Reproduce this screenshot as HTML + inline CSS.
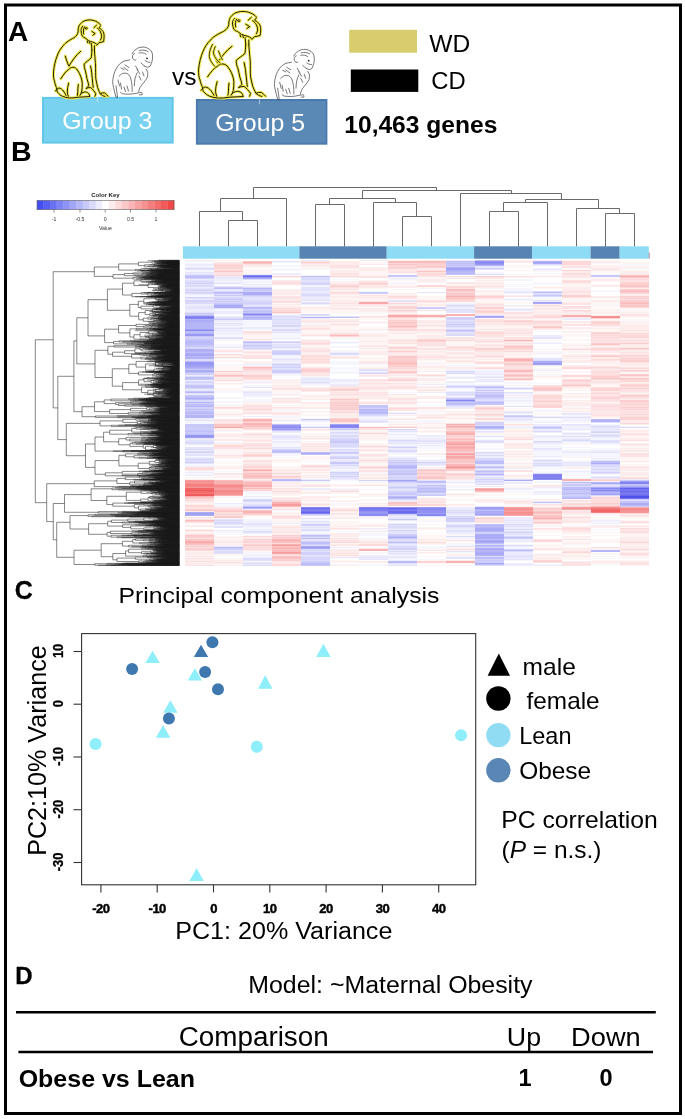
<!DOCTYPE html>
<html><head><meta charset="utf-8"><style>
html,body{margin:0;padding:0;background:#fff;}
svg{display:block;font-family:"Liberation Sans", sans-serif;}
</style></head><body>
<div style="position:relative;width:685px;height:1119px;overflow:hidden">
<svg style="position:absolute;left:0;top:0;will-change:transform" width="685" height="1119" viewBox="0 0 685 1119">
<rect x="5.5" y="5" width="675" height="1108.5" fill="none" stroke="#000" stroke-width="3"/>
<text x="8.0" y="40.5" font-size="28" font-weight="bold" fill="#000" text-anchor="start">A</text>
<rect x="43" y="97.9" width="129.7" height="44.7" fill="#79d2ef" stroke="#62c6ea" stroke-width="2"/>
<line x1="97.6" y1="96" x2="97.6" y2="101.8" stroke="#fff" stroke-width="0.8" stroke-opacity="0.7"/>
<text x="62.3" y="129.4" font-size="24.5" fill="#fff" text-anchor="start" textLength="90" lengthAdjust="spacingAndGlyphs">Group 3</text>
<rect x="196.9" y="100" width="129.5" height="43.7" fill="#5b89b6" stroke="#4b7bae" stroke-width="2"/>
<line x1="259.4" y1="98.4" x2="259.4" y2="104.3" stroke="#fff" stroke-width="0.8" stroke-opacity="0.6"/>
<text x="215.2" y="130.5" font-size="24.5" fill="#fff" text-anchor="start" textLength="90" lengthAdjust="spacingAndGlyphs">Group 5</text>
<text x="172" y="85.3" font-size="24.5" fill="#000" text-anchor="start">vs</text>
<g fill="none" stroke-linecap="round" stroke-linejoin="round"><path d="M97 45.1C97.6 44.3 98.2 43.5 99 42.6C100.5 42.4 102 42.2 103.6 41.6C103.9 40 104 38.5 104.1 36.5C104.2 35.3 104 34 103.6 32.9C103.4 31.8 102.8 30.8 101.6 29.8C101 29 100 28.5 99 27.8C99.5 27.3 100.2 26.5 100.5 25.7C100.7 25.2 100.3 24.5 99.5 23.7C98.5 22.7 97 21.8 95.4 21.1C94 20.5 92.5 20 90.3 19.9C88.5 19.8 87 20 85.2 20.6C83.5 21 82 22 80.6 23.7C79.8 24.5 79 25.5 78.6 27.3C78.2 28.5 78 30 78.1 31.9C77.8 34 76.5 36 74 37.8C72.5 38.5 70 39.8 67 42C65 43.5 64 44.5 63.2 45.7C60.5 48.5 58.5 52 57 56.2C55.5 60 54 66 53.5 71.9C53.3 76 53.8 80 54.6 81.4C55 84 55.8 86 56.4 87.5C56.8 89.5 57 90.8 57.3 91.9C59 94 60.5 95.5 62.5 96.3C65 97.3 67 97.8 69.5 98C72.5 98 75.5 97.8 78.3 97.2L89.7 96.6 M82.7 26.2C81.6 27.5 81.1 29 81.1 30.3C81.2 32.5 81.5 34.5 82.2 36C83 37 84 37.6 85.2 38C86.3 38.8 87.3 39.7 88.3 40.5C89.8 41.3 91.3 41.8 92.9 42.1C94.3 42.6 95.5 43.3 96.5 44.1 M84.5 26.8C83.3 28.5 83.2 31.5 83.7 33.9 M85.2 28.3C85.2 27.2 87.3 27.2 87.3 28.3C87.3 29.4 85.2 29.4 85.2 28.3 M91.9 31.4L95.2 33.6L92.9 35.2 M93.9 27.8L96.5 25.2 M97.5 28.3C99 29.5 100 30.5 100.5 31.9C101.2 33.5 101.6 35 101.6 36.5C101.5 38 101 39 100.5 40 M91.4 43.6C91.6 45.5 91.8 47.5 91.9 50M94.4 45.7L94.4 50 M87.3 41L87.8 42.8M89.5 41.8L90 43.5 M60.8 78.8C63.5 74.5 66 71 68.6 69.5C70 68 71.5 67.2 72.8 67.2C75 67.3 76.5 68.5 77.4 70C79 72.5 80.2 74.5 80.9 77C81.7 79 82.1 81 82.2 83.1C82.3 86 82.2 88.5 81.8 91C81.4 92.8 80.8 94.2 80 95.4 M65.3 56.1C66.3 60 67.5 63 68.9 66.2C72 61 76 55 80.7 51.3 M55.5 91C56.5 89.3 57.8 88.2 59 88C60.8 88.3 62.3 89.5 63.4 91C64.5 92.5 65.3 94 66 95.4 M68.6 83.1C67.8 86 67.3 89 67.3 91.9C67.4 93.5 67.8 95 68.2 96.3M78.3 84.5C78 87 77.8 89.5 77.8 91.9C77.7 93.3 77.6 94.5 77.4 95.4 M80.9 93.7C82.3 92.6 83.8 92 85.3 91.9C86.8 92 88 92.6 88.8 93.7C89.3 94.5 89.6 95.4 89.7 96.3 M91.9 50C91.8 53 91.5 56 91.2 57.9C89 60 86 62 84.2 64C84 66.5 84.5 68.5 85.3 70.5C86 73.5 86.6 76 87 78.8C87.8 81.5 88.5 83.5 88.8 85.8C88 86.8 87 87.6 86.2 88.4 M86.2 88.4C87.5 87.8 89 87.4 90.6 87.5C92.5 89 94.5 91.5 95.8 93.7C95.6 94.6 95.3 95.5 95 96.3 M94.4 50C94.8 56 95.3 62 95.6 65C95.6 70 95.6 75 95.8 78.8C96.5 82 97 85 97.6 87.5C98.5 89.8 99.3 92 100.2 93.7C101.5 93 103 92.7 104.6 92.8C106 94 107.2 95.2 108.1 96.3 M100.2 93.7C101.5 95 103 96 105 96.5 M90.6 66C91.5 70 92 74.5 92.3 78.8C92.6 82 92.9 85 93.2 87.5" stroke="#f1e94e" stroke-width="3.0" vector-effect="non-scaling-stroke"/><path d="M97 45.1C97.6 44.3 98.2 43.5 99 42.6C100.5 42.4 102 42.2 103.6 41.6C103.9 40 104 38.5 104.1 36.5C104.2 35.3 104 34 103.6 32.9C103.4 31.8 102.8 30.8 101.6 29.8C101 29 100 28.5 99 27.8C99.5 27.3 100.2 26.5 100.5 25.7C100.7 25.2 100.3 24.5 99.5 23.7C98.5 22.7 97 21.8 95.4 21.1C94 20.5 92.5 20 90.3 19.9C88.5 19.8 87 20 85.2 20.6C83.5 21 82 22 80.6 23.7C79.8 24.5 79 25.5 78.6 27.3C78.2 28.5 78 30 78.1 31.9C77.8 34 76.5 36 74 37.8C72.5 38.5 70 39.8 67 42C65 43.5 64 44.5 63.2 45.7C60.5 48.5 58.5 52 57 56.2C55.5 60 54 66 53.5 71.9C53.3 76 53.8 80 54.6 81.4C55 84 55.8 86 56.4 87.5C56.8 89.5 57 90.8 57.3 91.9C59 94 60.5 95.5 62.5 96.3C65 97.3 67 97.8 69.5 98C72.5 98 75.5 97.8 78.3 97.2L89.7 96.6 M82.7 26.2C81.6 27.5 81.1 29 81.1 30.3C81.2 32.5 81.5 34.5 82.2 36C83 37 84 37.6 85.2 38C86.3 38.8 87.3 39.7 88.3 40.5C89.8 41.3 91.3 41.8 92.9 42.1C94.3 42.6 95.5 43.3 96.5 44.1 M84.5 26.8C83.3 28.5 83.2 31.5 83.7 33.9 M85.2 28.3C85.2 27.2 87.3 27.2 87.3 28.3C87.3 29.4 85.2 29.4 85.2 28.3 M91.9 31.4L95.2 33.6L92.9 35.2 M93.9 27.8L96.5 25.2 M97.5 28.3C99 29.5 100 30.5 100.5 31.9C101.2 33.5 101.6 35 101.6 36.5C101.5 38 101 39 100.5 40 M91.4 43.6C91.6 45.5 91.8 47.5 91.9 50M94.4 45.7L94.4 50 M87.3 41L87.8 42.8M89.5 41.8L90 43.5 M60.8 78.8C63.5 74.5 66 71 68.6 69.5C70 68 71.5 67.2 72.8 67.2C75 67.3 76.5 68.5 77.4 70C79 72.5 80.2 74.5 80.9 77C81.7 79 82.1 81 82.2 83.1C82.3 86 82.2 88.5 81.8 91C81.4 92.8 80.8 94.2 80 95.4 M65.3 56.1C66.3 60 67.5 63 68.9 66.2C72 61 76 55 80.7 51.3 M55.5 91C56.5 89.3 57.8 88.2 59 88C60.8 88.3 62.3 89.5 63.4 91C64.5 92.5 65.3 94 66 95.4 M68.6 83.1C67.8 86 67.3 89 67.3 91.9C67.4 93.5 67.8 95 68.2 96.3M78.3 84.5C78 87 77.8 89.5 77.8 91.9C77.7 93.3 77.6 94.5 77.4 95.4 M80.9 93.7C82.3 92.6 83.8 92 85.3 91.9C86.8 92 88 92.6 88.8 93.7C89.3 94.5 89.6 95.4 89.7 96.3 M91.9 50C91.8 53 91.5 56 91.2 57.9C89 60 86 62 84.2 64C84 66.5 84.5 68.5 85.3 70.5C86 73.5 86.6 76 87 78.8C87.8 81.5 88.5 83.5 88.8 85.8C88 86.8 87 87.6 86.2 88.4 M86.2 88.4C87.5 87.8 89 87.4 90.6 87.5C92.5 89 94.5 91.5 95.8 93.7C95.6 94.6 95.3 95.5 95 96.3 M94.4 50C94.8 56 95.3 62 95.6 65C95.6 70 95.6 75 95.8 78.8C96.5 82 97 85 97.6 87.5C98.5 89.8 99.3 92 100.2 93.7C101.5 93 103 92.7 104.6 92.8C106 94 107.2 95.2 108.1 96.3 M100.2 93.7C101.5 95 103 96 105 96.5 M90.6 66C91.5 70 92 74.5 92.3 78.8C92.6 82 92.9 85 93.2 87.5" stroke="#1f1d0a" stroke-width="1.0" vector-effect="non-scaling-stroke"/></g>
<g transform="translate(132.9 -10.67) scale(1.228 1.11)" fill="none" stroke-linecap="round" stroke-linejoin="round"><path d="M97 45.1C97.6 44.3 98.2 43.5 99 42.6C100.5 42.4 102 42.2 103.6 41.6C103.9 40 104 38.5 104.1 36.5C104.2 35.3 104 34 103.6 32.9C103.4 31.8 102.8 30.8 101.6 29.8C101 29 100 28.5 99 27.8C99.5 27.3 100.2 26.5 100.5 25.7C100.7 25.2 100.3 24.5 99.5 23.7C98.5 22.7 97 21.8 95.4 21.1C94 20.5 92.5 20 90.3 19.9C88.5 19.8 87 20 85.2 20.6C83.5 21 82 22 80.6 23.7C79.8 24.5 79 25.5 78.6 27.3C78.2 28.5 78 30 78.1 31.9C77.8 34 76.5 36 74 37.8C72.5 38.5 70 39.8 67 42C65 43.5 64 44.5 63.2 45.7C60.5 48.5 58.5 52 57 56.2C55.5 60 54 66 53.5 71.9C53.3 76 53.8 80 54.6 81.4C55 84 55.8 86 56.4 87.5C56.8 89.5 57 90.8 57.3 91.9C59 94 60.5 95.5 62.5 96.3C65 97.3 67 97.8 69.5 98C72.5 98 75.5 97.8 78.3 97.2L89.7 96.6 M82.7 26.2C81.6 27.5 81.1 29 81.1 30.3C81.2 32.5 81.5 34.5 82.2 36C83 37 84 37.6 85.2 38C86.3 38.8 87.3 39.7 88.3 40.5C89.8 41.3 91.3 41.8 92.9 42.1C94.3 42.6 95.5 43.3 96.5 44.1 M84.5 26.8C83.3 28.5 83.2 31.5 83.7 33.9 M85.2 28.3C85.2 27.2 87.3 27.2 87.3 28.3C87.3 29.4 85.2 29.4 85.2 28.3 M91.9 31.4L95.2 33.6L92.9 35.2 M93.9 27.8L96.5 25.2 M97.5 28.3C99 29.5 100 30.5 100.5 31.9C101.2 33.5 101.6 35 101.6 36.5C101.5 38 101 39 100.5 40 M91.4 43.6C91.6 45.5 91.8 47.5 91.9 50M94.4 45.7L94.4 50 M87.3 41L87.8 42.8M89.5 41.8L90 43.5 M60.8 78.8C63.5 74.5 66 71 68.6 69.5C70 68 71.5 67.2 72.8 67.2C75 67.3 76.5 68.5 77.4 70C79 72.5 80.2 74.5 80.9 77C81.7 79 82.1 81 82.2 83.1C82.3 86 82.2 88.5 81.8 91C81.4 92.8 80.8 94.2 80 95.4 M65.3 56.1C66.3 60 67.5 63 68.9 66.2C72 61 76 55 80.7 51.3 M55.5 91C56.5 89.3 57.8 88.2 59 88C60.8 88.3 62.3 89.5 63.4 91C64.5 92.5 65.3 94 66 95.4 M68.6 83.1C67.8 86 67.3 89 67.3 91.9C67.4 93.5 67.8 95 68.2 96.3M78.3 84.5C78 87 77.8 89.5 77.8 91.9C77.7 93.3 77.6 94.5 77.4 95.4 M80.9 93.7C82.3 92.6 83.8 92 85.3 91.9C86.8 92 88 92.6 88.8 93.7C89.3 94.5 89.6 95.4 89.7 96.3 M91.9 50C91.8 53 91.5 56 91.2 57.9C89 60 86 62 84.2 64C84 66.5 84.5 68.5 85.3 70.5C86 73.5 86.6 76 87 78.8C87.8 81.5 88.5 83.5 88.8 85.8C88 86.8 87 87.6 86.2 88.4 M86.2 88.4C87.5 87.8 89 87.4 90.6 87.5C92.5 89 94.5 91.5 95.8 93.7C95.6 94.6 95.3 95.5 95 96.3 M94.4 50C94.8 56 95.3 62 95.6 65C95.6 70 95.6 75 95.8 78.8C96.5 82 97 85 97.6 87.5C98.5 89.8 99.3 92 100.2 93.7C101.5 93 103 92.7 104.6 92.8C106 94 107.2 95.2 108.1 96.3 M100.2 93.7C101.5 95 103 96 105 96.5 M90.6 66C91.5 70 92 74.5 92.3 78.8C92.6 82 92.9 85 93.2 87.5" stroke="#f1e94e" stroke-width="3.0" vector-effect="non-scaling-stroke"/><path d="M97 45.1C97.6 44.3 98.2 43.5 99 42.6C100.5 42.4 102 42.2 103.6 41.6C103.9 40 104 38.5 104.1 36.5C104.2 35.3 104 34 103.6 32.9C103.4 31.8 102.8 30.8 101.6 29.8C101 29 100 28.5 99 27.8C99.5 27.3 100.2 26.5 100.5 25.7C100.7 25.2 100.3 24.5 99.5 23.7C98.5 22.7 97 21.8 95.4 21.1C94 20.5 92.5 20 90.3 19.9C88.5 19.8 87 20 85.2 20.6C83.5 21 82 22 80.6 23.7C79.8 24.5 79 25.5 78.6 27.3C78.2 28.5 78 30 78.1 31.9C77.8 34 76.5 36 74 37.8C72.5 38.5 70 39.8 67 42C65 43.5 64 44.5 63.2 45.7C60.5 48.5 58.5 52 57 56.2C55.5 60 54 66 53.5 71.9C53.3 76 53.8 80 54.6 81.4C55 84 55.8 86 56.4 87.5C56.8 89.5 57 90.8 57.3 91.9C59 94 60.5 95.5 62.5 96.3C65 97.3 67 97.8 69.5 98C72.5 98 75.5 97.8 78.3 97.2L89.7 96.6 M82.7 26.2C81.6 27.5 81.1 29 81.1 30.3C81.2 32.5 81.5 34.5 82.2 36C83 37 84 37.6 85.2 38C86.3 38.8 87.3 39.7 88.3 40.5C89.8 41.3 91.3 41.8 92.9 42.1C94.3 42.6 95.5 43.3 96.5 44.1 M84.5 26.8C83.3 28.5 83.2 31.5 83.7 33.9 M85.2 28.3C85.2 27.2 87.3 27.2 87.3 28.3C87.3 29.4 85.2 29.4 85.2 28.3 M91.9 31.4L95.2 33.6L92.9 35.2 M93.9 27.8L96.5 25.2 M97.5 28.3C99 29.5 100 30.5 100.5 31.9C101.2 33.5 101.6 35 101.6 36.5C101.5 38 101 39 100.5 40 M91.4 43.6C91.6 45.5 91.8 47.5 91.9 50M94.4 45.7L94.4 50 M87.3 41L87.8 42.8M89.5 41.8L90 43.5 M60.8 78.8C63.5 74.5 66 71 68.6 69.5C70 68 71.5 67.2 72.8 67.2C75 67.3 76.5 68.5 77.4 70C79 72.5 80.2 74.5 80.9 77C81.7 79 82.1 81 82.2 83.1C82.3 86 82.2 88.5 81.8 91C81.4 92.8 80.8 94.2 80 95.4 M65.3 56.1C66.3 60 67.5 63 68.9 66.2C72 61 76 55 80.7 51.3 M55.5 91C56.5 89.3 57.8 88.2 59 88C60.8 88.3 62.3 89.5 63.4 91C64.5 92.5 65.3 94 66 95.4 M68.6 83.1C67.8 86 67.3 89 67.3 91.9C67.4 93.5 67.8 95 68.2 96.3M78.3 84.5C78 87 77.8 89.5 77.8 91.9C77.7 93.3 77.6 94.5 77.4 95.4 M80.9 93.7C82.3 92.6 83.8 92 85.3 91.9C86.8 92 88 92.6 88.8 93.7C89.3 94.5 89.6 95.4 89.7 96.3 M91.9 50C91.8 53 91.5 56 91.2 57.9C89 60 86 62 84.2 64C84 66.5 84.5 68.5 85.3 70.5C86 73.5 86.6 76 87 78.8C87.8 81.5 88.5 83.5 88.8 85.8C88 86.8 87 87.6 86.2 88.4 M86.2 88.4C87.5 87.8 89 87.4 90.6 87.5C92.5 89 94.5 91.5 95.8 93.7C95.6 94.6 95.3 95.5 95 96.3 M94.4 50C94.8 56 95.3 62 95.6 65C95.6 70 95.6 75 95.8 78.8C96.5 82 97 85 97.6 87.5C98.5 89.8 99.3 92 100.2 93.7C101.5 93 103 92.7 104.6 92.8C106 94 107.2 95.2 108.1 96.3 M100.2 93.7C101.5 95 103 96 105 96.5 M90.6 66C91.5 70 92 74.5 92.3 78.8C92.6 82 92.9 85 93.2 87.5" stroke="#1f1d0a" stroke-width="1.0" vector-effect="non-scaling-stroke"/></g>
<g fill="none" stroke-linecap="round"><path d="M132.1 53.7C133 52 134 50.8 135 50C136.5 48.7 138 47.9 139.4 47.5C141 47.1 142.8 47 144.5 47.1C146.3 47.5 148 48.3 149.6 49.3C150.8 50.3 151.6 51.5 152.2 53C152.6 55 152.7 57 152.5 58.8C152.3 60.5 151.9 62 151.4 63.2C151 64.3 150.7 65.3 150.3 66.1C149.4 66.8 148.4 67.1 147.4 67.2C146.4 67 145.4 66.6 144.5 66.1 M134.5 53.5C132.5 54 132 56.5 132.8 58.5C133.5 60 135 60.5 136 60 M129.9 59.9C128 60.3 126 60.6 124.1 61C122.5 61.8 121 62.8 119.7 63.9C118.2 65.5 117 67.2 116 69C115 70.8 114.3 72.8 113.8 74.8C113.2 77 112.8 79.2 112.7 81.4C112.7 83.4 113 85.4 113.5 87.3C113.9 89.3 114.4 91.2 114.9 93.1C115.2 94.5 115.6 95.8 116 97.1C116.5 97.3 117 97.4 117.5 97.5C117.4 95.5 117.1 93.5 116.8 91.6C116.5 89.6 116.2 87.7 116 85.8 M120.4 92.4C121 93 121.8 93.5 122.6 93.8C125 94.1 127.5 94.2 129.9 94.2C132.4 94 134.8 93.6 137.2 93.1C138.7 92.8 140.2 92.5 141.6 92.4C142 93.1 142.3 93.8 142.3 94.6C141.3 94.8 140.4 94.9 139.4 94.9 M146 69C146.7 70.2 147.4 71.4 147.8 72.7C147.8 74.1 147.6 75.6 147.4 77C146.8 78.3 146 79.6 145.2 80.7C144.3 82 143.3 83.2 142.3 84.3C141.5 85.3 140.8 86.3 140.1 87.3C139.5 88.7 139.1 90.1 138.7 91.6 M119 76.3C120.1 75.1 121.3 74 122.6 73.4C124 73.1 125.5 73.1 127 73.4C128.2 74.2 129.2 75.2 129.9 76.3C130.6 78 131.1 79.7 131.4 81.4C131.8 83.3 132 85.3 132.1 87.3C132.2 88.7 132.2 90.2 132.1 91.6 M137.2 72.7C136.3 74.6 135.5 76.5 135 78.5C134.6 80.9 134.4 83.4 134.3 85.8 M118 80L119.5 86M120.5 83L121.5 89M135.5 66L138 70M137 69.5L140 74M125 65L129 67.5M124 67.5L128 70.5M139 76L141 80M142.5 72L144 76M124 87L125.5 91.5M127 86L128.5 91M121 68L124 69.5 M139.5 50.5C142.5 49.8 145.5 50 148 51.5M139 53C141.5 52.4 144 52.8 146 54.2M145 60.5C146.5 61.8 148 62.3 150 62.3M141 63C142.5 64.3 143.5 65.3 144.5 66.1" stroke="#4a4a4a" stroke-width="0.75"/><circle cx="147" cy="58.4" r="0.9" fill="#222"/></g>
<g transform="translate(161.7 2.3)" fill="none" stroke-linecap="round"><path d="M132.1 53.7C133 52 134 50.8 135 50C136.5 48.7 138 47.9 139.4 47.5C141 47.1 142.8 47 144.5 47.1C146.3 47.5 148 48.3 149.6 49.3C150.8 50.3 151.6 51.5 152.2 53C152.6 55 152.7 57 152.5 58.8C152.3 60.5 151.9 62 151.4 63.2C151 64.3 150.7 65.3 150.3 66.1C149.4 66.8 148.4 67.1 147.4 67.2C146.4 67 145.4 66.6 144.5 66.1 M134.5 53.5C132.5 54 132 56.5 132.8 58.5C133.5 60 135 60.5 136 60 M129.9 59.9C128 60.3 126 60.6 124.1 61C122.5 61.8 121 62.8 119.7 63.9C118.2 65.5 117 67.2 116 69C115 70.8 114.3 72.8 113.8 74.8C113.2 77 112.8 79.2 112.7 81.4C112.7 83.4 113 85.4 113.5 87.3C113.9 89.3 114.4 91.2 114.9 93.1C115.2 94.5 115.6 95.8 116 97.1C116.5 97.3 117 97.4 117.5 97.5C117.4 95.5 117.1 93.5 116.8 91.6C116.5 89.6 116.2 87.7 116 85.8 M120.4 92.4C121 93 121.8 93.5 122.6 93.8C125 94.1 127.5 94.2 129.9 94.2C132.4 94 134.8 93.6 137.2 93.1C138.7 92.8 140.2 92.5 141.6 92.4C142 93.1 142.3 93.8 142.3 94.6C141.3 94.8 140.4 94.9 139.4 94.9 M146 69C146.7 70.2 147.4 71.4 147.8 72.7C147.8 74.1 147.6 75.6 147.4 77C146.8 78.3 146 79.6 145.2 80.7C144.3 82 143.3 83.2 142.3 84.3C141.5 85.3 140.8 86.3 140.1 87.3C139.5 88.7 139.1 90.1 138.7 91.6 M119 76.3C120.1 75.1 121.3 74 122.6 73.4C124 73.1 125.5 73.1 127 73.4C128.2 74.2 129.2 75.2 129.9 76.3C130.6 78 131.1 79.7 131.4 81.4C131.8 83.3 132 85.3 132.1 87.3C132.2 88.7 132.2 90.2 132.1 91.6 M137.2 72.7C136.3 74.6 135.5 76.5 135 78.5C134.6 80.9 134.4 83.4 134.3 85.8 M118 80L119.5 86M120.5 83L121.5 89M135.5 66L138 70M137 69.5L140 74M125 65L129 67.5M124 67.5L128 70.5M139 76L141 80M142.5 72L144 76M124 87L125.5 91.5M127 86L128.5 91M121 68L124 69.5 M139.5 50.5C142.5 49.8 145.5 50 148 51.5M139 53C141.5 52.4 144 52.8 146 54.2M145 60.5C146.5 61.8 148 62.3 150 62.3M141 63C142.5 64.3 143.5 65.3 144.5 66.1" stroke="#4a4a4a" stroke-width="0.75"/><circle cx="147" cy="58.4" r="0.9" fill="#222"/></g>
<g fill="none" stroke-linecap="round"><path d="M212.5 44.4C210.5 48 209.2 52 209.2 56.4C209.8 60 212 63.5 214.7 66.3M215.3 46.6C214 49 213.4 51.5 213.6 54.2C214.8 57.5 217.2 60.5 220.2 63M218.5 51C219.5 54 220.8 57 222.4 59.7" stroke="#f1e94e" stroke-width="2.8"/><path d="M212.5 44.4C210.5 48 209.2 52 209.2 56.4C209.8 60 212 63.5 214.7 66.3M215.3 46.6C214 49 213.4 51.5 213.6 54.2C214.8 57.5 217.2 60.5 220.2 63M218.5 51C219.5 54 220.8 57 222.4 59.7" stroke="#2a2810" stroke-width="0.9"/></g>
<rect x="349.2" y="29.8" width="67.8" height="22.9" fill="#d8cd6c"/>
<text x="429.3" y="52.1" font-size="24.5" fill="#000" text-anchor="start" textLength="40.9" lengthAdjust="spacingAndGlyphs">WD</text>
<rect x="350.8" y="69.5" width="67.5" height="22.4" fill="#000"/>
<text x="431.3" y="88.5" font-size="23.5" fill="#000" text-anchor="start" textLength="34.4" lengthAdjust="spacingAndGlyphs">CD</text>
<text x="344.3" y="132.8" font-size="23.5" font-weight="bold" fill="#000" text-anchor="start" textLength="153" lengthAdjust="spacingAndGlyphs">10,463 genes</text>
<text x="10.9" y="160.8" font-size="28.5" font-weight="bold" fill="#000" text-anchor="start">B</text>
<rect x="37.00" y="200.3" width="6.82" height="9.40" fill="#444ef0"/>
<rect x="43.52" y="200.3" width="6.82" height="9.40" fill="#565ff1"/>
<rect x="50.05" y="200.3" width="6.82" height="9.40" fill="#6971f3"/>
<rect x="56.57" y="200.3" width="6.82" height="9.40" fill="#7c83f4"/>
<rect x="63.10" y="200.3" width="6.82" height="9.40" fill="#8e94f6"/>
<rect x="69.62" y="200.3" width="6.82" height="9.40" fill="#a1a6f7"/>
<rect x="76.14" y="200.3" width="6.82" height="9.40" fill="#b4b8f9"/>
<rect x="82.67" y="200.3" width="6.82" height="9.40" fill="#c6c9fa"/>
<rect x="89.19" y="200.3" width="6.82" height="9.40" fill="#d9dbfc"/>
<rect x="95.71" y="200.3" width="6.82" height="9.40" fill="#ecedfd"/>
<rect x="102.24" y="200.3" width="6.82" height="9.40" fill="#ffffff"/>
<rect x="108.76" y="200.3" width="6.82" height="9.40" fill="#fdecec"/>
<rect x="115.29" y="200.3" width="6.82" height="9.40" fill="#fcdada"/>
<rect x="121.81" y="200.3" width="6.82" height="9.40" fill="#fac8c8"/>
<rect x="128.33" y="200.3" width="6.82" height="9.40" fill="#f9b5b5"/>
<rect x="134.86" y="200.3" width="6.82" height="9.40" fill="#f7a3a3"/>
<rect x="141.38" y="200.3" width="6.82" height="9.40" fill="#f69191"/>
<rect x="147.90" y="200.3" width="6.82" height="9.40" fill="#f47e7e"/>
<rect x="154.43" y="200.3" width="6.82" height="9.40" fill="#f36c6c"/>
<rect x="160.95" y="200.3" width="6.82" height="9.40" fill="#f15a5a"/>
<rect x="167.48" y="200.3" width="6.82" height="9.40" fill="#f04848"/>
<rect x="37" y="200.3" width="137" height="9.40" fill="none" stroke="#666" stroke-width="0.6"/>
<text x="105.4" y="196.5" font-size="6" font-weight="bold" fill="#222" text-anchor="middle">Color Key</text>
<line x1="54" y1="209.7" x2="54" y2="212.5" stroke="#444" stroke-width="0.6"/>
<text x="54" y="221" font-size="5.2" fill="#333" text-anchor="middle">-1</text>
<line x1="80" y1="209.7" x2="80" y2="212.5" stroke="#444" stroke-width="0.6"/>
<text x="80" y="221" font-size="5.2" fill="#333" text-anchor="middle">-0.5</text>
<line x1="105.2" y1="209.7" x2="105.2" y2="212.5" stroke="#444" stroke-width="0.6"/>
<text x="105.2" y="221" font-size="5.2" fill="#333" text-anchor="middle">0</text>
<line x1="130.5" y1="209.7" x2="130.5" y2="212.5" stroke="#444" stroke-width="0.6"/>
<text x="130.5" y="221" font-size="5.2" fill="#333" text-anchor="middle">0.5</text>
<line x1="156" y1="209.7" x2="156" y2="212.5" stroke="#444" stroke-width="0.6"/>
<text x="156" y="221" font-size="5.2" fill="#333" text-anchor="middle">1</text>
<text x="105.4" y="230" font-size="5.2" fill="#333" text-anchor="middle">Value</text>
<path d="M228.5 220.5L257.5 220.5 M228.5 220.5L228.5 246.5 M257.5 220.5L257.5 246.5 M199.5 211.5L242.5 211.5 M199.5 211.5L199.5 246.5 M242.5 211.5L242.5 220.5 M220.5 198.5L286.5 198.5 M220.5 198.5L220.5 211.5 M286.5 198.5L286.5 246.5 M315.5 204.5L344.5 204.5 M315.5 204.5L315.5 246.5 M344.5 204.5L344.5 246.5 M402.5 216.5L431.5 216.5 M402.5 216.5L402.5 246.5 M431.5 216.5L431.5 246.5 M373.5 202.5L416.5 202.5 M373.5 202.5L373.5 246.5 M416.5 202.5L416.5 216.5 M329.5 198.5L395.5 198.5 M329.5 198.5L329.5 204.5 M395.5 198.5L395.5 202.5 M489.5 211.5L518.5 211.5 M489.5 211.5L489.5 246.5 M518.5 211.5L518.5 246.5 M503.5 202.5L547.5 202.5 M503.5 202.5L503.5 211.5 M547.5 202.5L547.5 246.5 M605.5 213.5L634.5 213.5 M605.5 213.5L605.5 246.5 M634.5 213.5L634.5 246.5 M576.5 208.5L619.5 208.5 M576.5 208.5L576.5 246.5 M619.5 208.5L619.5 213.5 M525.5 199.5L598.5 199.5 M525.5 199.5L525.5 202.5 M598.5 199.5L598.5 208.5 M460.5 193.5L561.5 193.5 M460.5 193.5L460.5 246.5 M561.5 193.5L561.5 199.5 M362.5 190.5L511.5 190.5 M362.5 190.5L362.5 198.5 M511.5 190.5L511.5 193.5 M253.5 187.5L436.5 187.5 M253.5 187.5L253.5 198.5 M436.5 187.5L436.5 190.5" stroke="#6a6a6a" stroke-width="1" fill="none"/>
<rect x="648.2" y="252.5" width="1.6" height="6" fill="#c98a98"/>
<rect x="182.90" y="246.3" width="116.47" height="12.4" fill="#8ddbf4"/>
<rect x="299.38" y="246.3" width="87.36" height="12.4" fill="#5683b1"/>
<rect x="386.73" y="246.3" width="87.36" height="12.4" fill="#8ddbf4"/>
<rect x="474.09" y="246.3" width="58.24" height="12.4" fill="#5683b1"/>
<rect x="532.32" y="246.3" width="58.24" height="12.4" fill="#8ddbf4"/>
<rect x="590.56" y="246.3" width="29.12" height="12.4" fill="#5683b1"/>
<rect x="619.68" y="246.3" width="29.12" height="12.4" fill="#8ddbf4"/>

<path d="M157.9 260.20H179.3M147.6 260.70H179.3M163.4 261.20H179.3M154.1 261.70H179.3M159.0 262.20H179.3M156.7 262.70H179.3M154.6 263.20H179.3M156.6 263.70H179.3M159.3 264.20H179.3M149.5 264.70H179.3M153.9 265.20H179.3M159.0 265.70H179.3M147.7 266.20H179.3M160.5 266.70H179.3M163.1 267.20H179.3M159.6 267.70H179.3M143.3 268.20H179.3M155.2 268.70H179.3M148.7 269.20H179.3M158.9 269.70H179.3M163.8 270.20H179.3M155.4 270.70H179.3M150.4 271.20H179.3M158.4 271.70H179.3M158.4 272.20H179.3M145.4 272.70H179.3M162.3 273.20H179.3M148.8 273.70H179.3M158.9 274.20H179.3M158.7 274.70H179.3M158.3 275.20H179.3M157.8 275.70H179.3M147.8 276.20H179.3M159.2 276.70H179.3M153.0 277.20H179.3M153.9 277.70H179.3M150.7 278.20H179.3M152.5 278.70H179.3M144.1 279.20H179.3M159.5 279.70H179.3M161.2 280.20H179.3M161.4 280.70H179.3M154.4 281.20H179.3M154.8 281.70H179.3M141.8 282.20H179.3M158.1 282.70H179.3M156.0 283.20H179.3M158.0 283.70H179.3M156.5 284.20H179.3M138.5 284.70H179.3M160.6 285.20H179.3M160.6 285.70H179.3M160.4 286.20H179.3M159.8 286.70H179.3M158.5 287.20H179.3M158.8 287.70H179.3M159.6 288.20H179.3M153.0 288.70H179.3M159.9 289.20H179.3M154.7 289.70H179.3M151.9 290.20H179.3M152.6 290.70H179.3M165.6 291.20H179.3M164.6 291.70H179.3M157.1 292.20H179.3M157.8 292.70H179.3M153.8 293.20H179.3M153.8 293.70H179.3M164.1 294.20H179.3M158.8 294.70H179.3M155.1 295.20H179.3M156.0 295.70H179.3M149.9 296.20H179.3M140.3 296.70H179.3M150.2 297.20H179.3M159.4 297.70H179.3M153.9 298.20H179.3M162.6 298.70H179.3M155.3 299.20H179.3M157.9 299.70H179.3M164.6 300.20H179.3M157.7 300.70H179.3M156.2 301.20H179.3M151.6 301.70H179.3M158.3 302.20H179.3M143.8 302.70H179.3M160.0 303.20H179.3M156.1 303.70H179.3M147.6 304.20H179.3M155.9 304.70H179.3M162.7 305.20H179.3M154.8 305.70H179.3M159.5 306.20H179.3M162.5 306.70H179.3M159.6 307.20H179.3M158.6 307.70H179.3M155.5 308.20H179.3M163.3 308.70H179.3M151.8 309.20H179.3M154.7 309.70H179.3M161.2 310.20H179.3M160.5 310.70H179.3M150.7 311.20H179.3M149.2 311.70H179.3M152.4 312.20H179.3M151.6 312.70H179.3M158.2 313.20H179.3M159.7 313.70H179.3M151.6 314.20H179.3M155.3 314.70H179.3M152.9 315.20H179.3M152.4 315.70H179.3M158.7 316.20H179.3M151.4 316.70H179.3M158.5 317.20H179.3M157.7 317.70H179.3M149.9 318.20H179.3M159.6 318.70H179.3M158.8 319.20H179.3M159.7 319.70H179.3M158.5 320.20H179.3M154.2 320.70H179.3M161.3 321.20H179.3M147.7 321.70H179.3M156.9 322.20H179.3M148.7 322.70H179.3M161.5 323.20H179.3M152.3 323.70H179.3M150.3 324.20H179.3M151.6 324.70H179.3M145.1 325.20H179.3M159.9 325.70H179.3M157.5 326.20H179.3M160.8 326.70H179.3M157.8 327.20H179.3M165.7 327.70H179.3M165.1 328.20H179.3M157.4 328.70H179.3M158.9 329.20H179.3M158.4 329.70H179.3M161.2 330.20H179.3M135.1 330.70H179.3M153.7 331.20H179.3M158.2 331.70H179.3M156.6 332.20H179.3M156.7 332.70H179.3M145.7 333.20H179.3M158.1 333.70H179.3M159.5 334.20H179.3M155.9 334.70H179.3M144.2 335.20H179.3M156.6 335.70H179.3M161.3 336.20H179.3M144.5 336.70H179.3M145.0 337.20H179.3M161.2 337.70H179.3M149.6 338.20H179.3M163.0 338.70H179.3M161.2 339.20H179.3M160.9 339.70H179.3M159.2 340.20H179.3M151.1 340.70H179.3M159.9 341.20H179.3M160.6 341.70H179.3M164.6 342.20H179.3M160.8 342.70H179.3M144.6 343.20H179.3M151.7 343.70H179.3M151.0 344.20H179.3M161.4 344.70H179.3M157.2 345.20H179.3M158.4 345.70H179.3M151.3 346.20H179.3M159.9 346.70H179.3M160.0 347.20H179.3M163.5 347.70H179.3M160.3 348.20H179.3M157.3 348.70H179.3M156.9 349.20H179.3M157.9 349.70H179.3M161.1 350.20H179.3M160.7 350.70H179.3M148.2 351.20H179.3M160.1 351.70H179.3M157.5 352.20H179.3M156.3 352.70H179.3M161.0 353.20H179.3M160.0 353.70H179.3M160.2 354.20H179.3M163.1 354.70H179.3M142.5 355.20H179.3M155.4 355.70H179.3M157.8 356.20H179.3M161.1 356.70H179.3M162.3 357.20H179.3M155.6 357.70H179.3M156.8 358.20H179.3M145.6 358.70H179.3M148.3 359.20H179.3M154.7 359.70H179.3M162.5 360.20H179.3M158.6 360.70H179.3M165.2 361.20H179.3M159.3 361.70H179.3M154.8 362.20H179.3M155.5 362.70H179.3M158.8 363.20H179.3M158.1 363.70H179.3M152.7 364.20H179.3M161.2 364.70H179.3M154.9 365.20H179.3M148.7 365.70H179.3M160.3 366.20H179.3M154.1 366.70H179.3M165.2 367.20H179.3M163.4 367.70H179.3M157.7 368.20H179.3M155.9 368.70H179.3M162.3 369.20H179.3M160.9 369.70H179.3M158.7 370.20H179.3M162.3 370.70H179.3M149.0 371.20H179.3M149.9 371.70H179.3M156.0 372.20H179.3M162.7 372.70H179.3M158.0 373.20H179.3M164.6 373.70H179.3M160.2 374.20H179.3M156.3 374.70H179.3M158.8 375.20H179.3M163.4 375.70H179.3M162.5 376.20H179.3M155.4 376.70H179.3M157.0 377.20H179.3M159.5 377.70H179.3M161.9 378.20H179.3M142.5 378.70H179.3M161.9 379.20H179.3M162.9 379.70H179.3M147.2 380.20H179.3M164.9 380.70H179.3M157.8 381.20H179.3M155.4 381.70H179.3M158.7 382.20H179.3M158.3 382.70H179.3M162.3 383.20H179.3M152.2 383.70H179.3M139.4 384.20H179.3M150.7 384.70H179.3M160.3 385.20H179.3M164.1 385.70H179.3M163.1 386.20H179.3M158.4 386.70H179.3M150.9 387.20H179.3M157.7 387.70H179.3M158.7 388.20H179.3M160.0 388.70H179.3M163.6 389.20H179.3M152.7 389.70H179.3M163.0 390.20H179.3M161.5 390.70H179.3M163.6 391.20H179.3M152.9 391.70H179.3M155.4 392.20H179.3M153.2 392.70H179.3M148.4 393.20H179.3M157.8 393.70H179.3M144.1 394.20H179.3M156.8 394.70H179.3M162.7 395.20H179.3M153.8 395.70H179.3M162.6 396.20H179.3M154.6 396.70H179.3M153.2 397.20H179.3M149.1 397.70H179.3M152.0 398.20H179.3M158.6 398.70H179.3M156.2 399.20H179.3M160.0 399.70H179.3M146.2 400.20H179.3M153.5 400.70H179.3M154.3 401.20H179.3M150.3 401.70H179.3M156.6 402.20H179.3M147.3 402.70H179.3M164.8 403.20H179.3M160.9 403.70H179.3M159.3 404.20H179.3M158.2 404.70H179.3M156.9 405.20H179.3M155.4 405.70H179.3M164.9 406.20H179.3M157.2 406.70H179.3M156.7 407.20H179.3M162.2 407.70H179.3M160.0 408.20H179.3M159.2 408.70H179.3M158.4 409.20H179.3M159.5 409.70H179.3M162.8 410.20H179.3M159.8 410.70H179.3M160.7 411.20H179.3M160.8 411.70H179.3M157.6 412.20H179.3M148.1 412.70H179.3M157.8 413.20H179.3M160.7 413.70H179.3M161.9 414.20H179.3M160.4 414.70H179.3M161.3 415.20H179.3M156.7 415.70H179.3M155.6 416.20H179.3M157.9 416.70H179.3M146.0 417.20H179.3M153.8 417.70H179.3M164.3 418.20H179.3M158.6 418.70H179.3M157.4 419.20H179.3M149.9 419.70H179.3M151.5 420.20H179.3M157.0 420.70H179.3M158.4 421.20H179.3M162.3 421.70H179.3M165.6 422.20H179.3M154.2 422.70H179.3M157.3 423.20H179.3M147.1 423.70H179.3M159.7 424.20H179.3M146.0 424.70H179.3M156.9 425.20H179.3M144.2 425.70H179.3M163.2 426.20H179.3M151.5 426.70H179.3M158.1 427.20H179.3M158.3 427.70H179.3M150.6 428.20H179.3M157.5 428.70H179.3M158.8 429.20H179.3M159.0 429.70H179.3M156.6 430.20H179.3M162.8 430.70H179.3M150.5 431.20H179.3M151.4 431.70H179.3M162.0 432.20H179.3M152.5 432.70H179.3M159.2 433.20H179.3M154.8 433.70H179.3M156.7 434.20H179.3M160.0 434.70H179.3M160.6 435.20H179.3M159.7 435.70H179.3M160.4 436.20H179.3M165.7 436.70H179.3M164.1 437.20H179.3M154.5 437.70H179.3M160.5 438.20H179.3M157.1 438.70H179.3M160.7 439.20H179.3M150.7 439.70H179.3M144.5 440.20H179.3M159.9 440.70H179.3M161.4 441.20H179.3M162.1 441.70H179.3M151.0 442.20H179.3M161.4 442.70H179.3M144.4 443.20H179.3M159.9 443.70H179.3M160.9 444.20H179.3M160.9 444.70H179.3M156.9 445.20H179.3M164.7 445.70H179.3M155.8 446.20H179.3M157.4 446.70H179.3M156.5 447.20H179.3M150.7 447.70H179.3M155.5 448.20H179.3M161.0 448.70H179.3M157.7 449.20H179.3M163.9 449.70H179.3M160.8 450.20H179.3M153.3 450.70H179.3M156.0 451.20H179.3M158.1 451.70H179.3M162.6 452.20H179.3M162.5 452.70H179.3M159.4 453.20H179.3M142.3 453.70H179.3M162.3 454.20H179.3M153.3 454.70H179.3M144.7 455.20H179.3M150.2 455.70H179.3M147.0 456.20H179.3M160.6 456.70H179.3M160.6 457.20H179.3M151.7 457.70H179.3M157.6 458.20H179.3M157.6 458.70H179.3M161.3 459.20H179.3M155.9 459.70H179.3M155.7 460.20H179.3M163.8 460.70H179.3M158.9 461.20H179.3M159.2 461.70H179.3M161.4 462.20H179.3M160.9 462.70H179.3M158.9 463.20H179.3M159.6 463.70H179.3M150.2 464.20H179.3M156.0 464.70H179.3M151.9 465.20H179.3M159.0 465.70H179.3M153.3 466.20H179.3M160.0 466.70H179.3M159.4 467.20H179.3M149.5 467.70H179.3M163.0 468.20H179.3M162.6 468.70H179.3M163.6 469.20H179.3M160.8 469.70H179.3M153.3 470.20H179.3M156.4 470.70H179.3M163.2 471.20H179.3M158.6 471.70H179.3M162.7 472.20H179.3M163.0 472.70H179.3M163.0 473.20H179.3M161.2 473.70H179.3M150.5 474.20H179.3M144.6 474.70H179.3M158.6 475.20H179.3M160.5 475.70H179.3M161.0 476.20H179.3M161.9 476.70H179.3M161.4 477.20H179.3M155.8 477.70H179.3M154.0 478.20H179.3M164.0 478.70H179.3M152.1 479.20H179.3M142.4 479.70H179.3M160.0 480.20H179.3M160.3 480.70H179.3M155.4 481.20H179.3M155.6 481.70H179.3M148.2 482.20H179.3M156.3 482.70H179.3M147.6 483.20H179.3M154.2 483.70H179.3M157.5 484.20H179.3M157.4 484.70H179.3M143.2 485.20H179.3M159.9 485.70H179.3M155.5 486.20H179.3M158.4 486.70H179.3M162.3 487.20H179.3M159.2 487.70H179.3M154.3 488.20H179.3M157.7 488.70H179.3M157.5 489.20H179.3M163.5 489.70H179.3M158.4 490.20H179.3M157.3 490.70H179.3M161.6 491.20H179.3M157.9 491.70H179.3M146.6 492.20H179.3M154.5 492.70H179.3M150.6 493.20H179.3M163.1 493.70H179.3M155.0 494.20H179.3M160.9 494.70H179.3M159.8 495.20H179.3M164.2 495.70H179.3M163.5 496.20H179.3M163.7 496.70H179.3M148.4 497.20H179.3M153.1 497.70H179.3M157.2 498.20H179.3M162.5 498.70H179.3M160.1 499.20H179.3M151.4 499.70H179.3M155.6 500.20H179.3M154.7 500.70H179.3M159.6 501.20H179.3M165.9 501.70H179.3M155.2 502.20H179.3M156.6 502.70H179.3M162.2 503.20H179.3M155.4 503.70H179.3M164.0 504.20H179.3M150.1 504.70H179.3M162.9 505.20H179.3M153.0 505.70H179.3M160.1 506.20H179.3M162.0 506.70H179.3M148.7 507.20H179.3M155.8 507.70H179.3M150.2 508.20H179.3M158.1 508.70H179.3M160.3 509.20H179.3M146.0 509.70H179.3M156.4 510.20H179.3M149.9 510.70H179.3M154.4 511.20H179.3M157.5 511.70H179.3M159.6 512.20H179.3M155.3 512.70H179.3M160.6 513.20H179.3M162.7 513.70H179.3M161.6 514.20H179.3M161.1 514.70H179.3M151.8 515.20H179.3M160.9 515.70H179.3M159.3 516.20H179.3M156.3 516.70H179.3M159.8 517.20H179.3M157.0 517.70H179.3M157.4 518.20H179.3M158.7 518.70H179.3M158.4 519.20H179.3M158.5 519.70H179.3M152.3 520.20H179.3M162.8 520.70H179.3M161.8 521.20H179.3M158.9 521.70H179.3M162.9 522.20H179.3M163.7 522.70H179.3M151.9 523.20H179.3M157.9 523.70H179.3M161.4 524.20H179.3M154.9 524.70H179.3M164.4 525.20H179.3M163.5 525.70H179.3M161.0 526.20H179.3M155.1 526.70H179.3M159.8 527.20H179.3M156.5 527.70H179.3M156.1 528.20H179.3M159.6 528.70H179.3M153.8 529.20H179.3M162.1 529.70H179.3M163.0 530.20H179.3M161.9 530.70H179.3M160.3 531.20H179.3M134.8 531.70H179.3M153.4 532.20H179.3M165.1 532.70H179.3M156.4 533.20H179.3M155.7 533.70H179.3M154.1 534.20H179.3M157.0 534.70H179.3M141.4 535.20H179.3M158.7 535.70H179.3M156.4 536.20H179.3M161.6 536.70H179.3M152.5 537.20H179.3M158.7 537.70H179.3M163.7 538.20H179.3M154.8 538.70H179.3M155.9 539.20H179.3M158.7 539.70H179.3M148.3 540.20H179.3M158.5 540.70H179.3M162.3 541.20H179.3M154.4 541.70H179.3M147.7 542.20H179.3M159.1 542.70H179.3M153.0 543.20H179.3M161.5 543.70H179.3M154.7 544.20H179.3M163.5 544.70H179.3M161.0 545.20H179.3M162.4 545.70H179.3M155.8 546.20H179.3M162.7 546.70H179.3M159.3 547.20H179.3M162.0 547.70H179.3M153.1 548.20H179.3M159.7 548.70H179.3M155.1 549.20H179.3M153.1 549.70H179.3M157.8 550.20H179.3M155.2 550.70H179.3M157.2 551.20H179.3M158.2 551.70H179.3M158.6 552.20H179.3M155.1 552.70H179.3M161.4 553.20H179.3M158.6 553.70H179.3M156.5 554.20H179.3M158.2 554.70H179.3M156.1 555.20H179.3M149.2 555.70H179.3M163.7 556.20H179.3M155.8 556.70H179.3M163.4 557.20H179.3M146.6 557.70H179.3M162.0 558.20H179.3M152.8 558.70H179.3M153.6 559.20H179.3M156.3 559.70H179.3M146.5 560.20H179.3M158.9 560.70H179.3M153.7 561.20H179.3M161.0 561.70H179.3M158.5 562.20H179.3M164.9 562.70H179.3M151.8 563.20H179.3M160.7 563.70H179.3M151.1 564.20H179.3M162.4 564.70H179.3M156.6 565.20H179.3" stroke="#1a1a1a" stroke-width="0.7" stroke-opacity="0.7" fill="none"/>
<path d="M159.3 260.6H179.3M167.5 260.7H179.3M167.5 260.9H179.3M166.4 260.8H167.5M166.4 261.0H179.3M161.5 260.9H166.4M161.5 261.0H179.3M159.3 261.0H161.5M154.1 260.8H159.3M160.5 261.2H179.3M160.5 261.4H179.3M157.7 261.3H160.5M157.7 261.6H179.3M155.1 261.4H157.7M167.6 261.7H179.3M168.6 261.8H179.3M171.0 262.0H179.3M171.0 262.2H179.3M168.6 262.1H171.0M167.6 262.0H168.6M165.8 261.8H167.6M167.7 262.3H179.3M167.7 262.5H179.3M165.8 262.4H167.7M161.1 262.1H165.8M161.1 262.5H179.3M155.1 262.3H161.1M154.1 261.9H155.1M152.0 261.3H154.1M164.4 262.7H179.3M164.4 262.8H179.3M163.7 262.7H164.4M163.7 263.0H179.3M162.9 262.9H163.7M162.9 263.1H179.3M157.2 263.0H162.9M162.0 263.1H179.3M163.7 263.3H179.3M168.0 263.5H179.3M168.0 263.6H179.3M163.7 263.5H168.0M162.0 263.4H163.7M157.2 263.3H162.0M152.0 263.1H157.2M138.4 262.2H152.0M167.4 263.7H179.3M170.1 263.9H179.3M170.1 264.0H179.3M167.4 263.9H170.1M161.4 263.8H167.4M168.9 264.1H179.3M169.8 264.3H179.3M169.8 264.4H179.3M168.9 264.4H169.8M167.2 264.2H168.9M170.6 264.6H179.3M172.5 264.7H179.3M172.5 264.9H179.3M170.6 264.8H172.5M168.3 264.7H170.6M168.3 265.0H179.3M167.2 264.8H168.3M161.4 264.5H167.2M154.2 264.2H161.4M161.1 265.1H179.3M161.1 265.3H179.3M159.5 265.2H161.1M159.5 265.4H179.3M158.5 265.3H159.5M158.5 265.5H179.3M154.2 265.4H158.5M144.4 264.8H154.2M166.0 265.7H179.3M166.0 265.9H179.3M160.2 265.8H166.0M160.2 266.0H179.3M157.3 265.9H160.2M157.3 266.1H179.3M152.6 266.0H157.3M160.5 266.2H179.3M167.2 266.3H179.3M167.2 266.4H179.3M163.5 266.4H167.2M163.5 266.6H179.3M160.5 266.5H163.5M157.7 266.3H160.5M169.3 266.8H179.3M169.3 266.9H179.3M165.4 266.9H169.3M165.4 267.1H179.3M159.2 267.0H165.4M159.2 267.2H179.3M157.7 267.1H159.2M152.6 266.7H157.7M144.4 266.3H152.6M138.4 265.6H144.4M118.7 263.9H138.4M165.3 267.4H179.3M165.3 267.6H179.3M162.1 267.5H165.3M162.1 267.8H179.3M157.6 267.6H162.1M171.4 268.0H179.3M171.4 268.2H179.3M168.0 268.1H171.4M173.4 268.4H179.3M173.4 268.5H179.3M171.9 268.5H173.4M174.3 268.6H179.3M174.3 268.8H179.3M171.9 268.7H174.3M168.0 268.6H171.9M163.8 268.4H168.0M167.9 268.9H179.3M171.1 269.1H179.3M171.1 269.3H179.3M167.9 269.2H171.1M163.8 269.1H167.9M157.6 268.7H163.8M150.7 268.2H157.6M150.7 269.5H179.3M140.9 268.8H150.7M155.0 269.7H179.3M157.2 269.8H179.3M157.2 270.0H179.3M155.0 269.9H157.2M147.5 269.8H155.0M150.9 270.2H179.3M150.9 270.3H179.3M147.5 270.2H150.9M140.9 270.0H147.5M135.4 269.4H140.9M140.1 270.5H179.3M140.1 270.6H179.3M137.7 270.5H140.1M141.7 270.8H179.3M156.4 270.9H179.3M163.2 271.1H179.3M163.2 271.2H179.3M160.2 271.2H163.2M160.2 271.3H179.3M156.4 271.2H160.2M155.5 271.1H156.4M155.5 271.4H179.3M148.6 271.2H155.5M150.8 271.5H179.3M150.8 271.7H179.3M148.6 271.6H150.8M141.7 271.4H148.6M137.7 271.1H141.7M135.4 270.8H137.7M118.7 270.1H135.4M94.3 267.0H118.7M165.1 271.9H179.3M165.1 272.1H179.3M158.5 272.0H165.1M158.5 272.3H179.3M152.3 272.1H158.5M163.6 272.5H179.3M163.6 272.6H179.3M159.0 272.5H163.6M159.0 272.7H179.3M155.2 272.6H159.0M155.2 272.7H179.3M152.3 272.7H155.2M151.1 272.4H152.3M151.1 272.8H179.3M142.8 272.6H151.1M149.9 273.0H179.3M160.0 273.1H179.3M160.0 273.3H179.3M149.9 273.2H160.0M142.8 273.1H149.9M132.8 272.9H142.8M160.2 273.5H179.3M160.2 273.6H179.3M157.4 273.6H160.2M157.4 273.8H179.3M148.2 273.7H157.4M148.2 274.0H179.3M141.5 273.8H148.2M145.9 274.1H179.3M157.5 274.3H179.3M157.5 274.4H179.3M145.9 274.4H157.5M141.5 274.2H145.9M132.8 274.0H141.5M124.3 273.5H132.8M154.7 274.6H179.3M154.7 274.8H179.3M151.0 274.7H154.7M156.5 274.9H179.3M156.5 275.1H179.3M155.3 275.0H156.5M155.3 275.3H179.3M151.0 275.1H155.3M146.7 274.9H151.0M157.2 275.4H179.3M157.2 275.6H179.3M146.7 275.5H157.2M134.6 275.2H146.7M152.2 275.7H179.3M152.2 275.9H179.3M145.9 275.8H152.2M145.9 276.0H179.3M136.6 275.9H145.9M143.5 276.2H179.3M148.2 276.4H179.3M148.2 276.5H179.3M143.5 276.5H148.2M136.6 276.3H143.5M134.6 276.1H136.6M124.3 275.7H134.6M113.0 274.6H124.3M149.4 276.7H179.3M156.1 276.8H179.3M158.6 276.9H179.3M158.6 277.1H179.3M156.1 277.0H158.6M149.4 276.9H156.1M142.2 276.8H149.4M160.9 277.2H179.3M160.9 277.4H179.3M151.3 277.3H160.9M151.3 277.5H179.3M142.2 277.4H151.3M138.8 277.1H142.2M141.1 277.6H179.3M150.2 277.8H179.3M150.2 277.9H179.3M141.1 277.9H150.2M138.8 277.7H141.1M132.8 277.4H138.8M143.8 278.1H179.3M146.4 278.2H179.3M148.3 278.3H179.3M148.3 278.5H179.3M146.4 278.4H148.3M143.8 278.3H146.4M140.3 278.2H143.8M156.2 278.7H179.3M156.2 278.8H179.3M152.5 278.8H156.2M161.4 278.9H179.3M166.0 279.1H179.3M166.0 279.2H179.3M161.4 279.2H166.0M152.5 279.0H161.4M140.3 278.9H152.5M136.6 278.6H140.3M136.6 279.4H179.3M132.8 279.0H136.6M113.0 278.2H132.8M94.3 276.4H113.0M53.2 271.7H94.3M158.0 279.5H179.3M165.9 279.7H179.3M165.9 279.8H179.3M162.7 279.8H165.9M162.7 279.9H179.3M158.0 279.8H162.7M151.0 279.7H158.0M154.7 280.0H179.3M154.7 280.1H179.3M152.4 280.1H154.7M161.2 280.3H179.3M165.4 280.4H179.3M165.4 280.6H179.3M161.2 280.5H165.4M155.3 280.4H161.2M155.3 280.7H179.3M152.4 280.6H155.3M151.0 280.3H152.4M140.9 280.0H151.0M164.7 280.8H179.3M164.7 281.0H179.3M158.3 280.9H164.7M162.9 281.2H179.3M162.9 281.4H179.3M158.3 281.3H162.9M151.7 281.1H158.3M151.7 281.6H179.3M146.4 281.3H151.7M150.3 281.7H179.3M150.3 281.9H179.3M148.7 281.8H150.3M164.2 282.0H179.3M164.2 282.3H179.3M157.2 282.1H164.2M161.2 282.4H179.3M162.9 282.5H179.3M162.9 282.7H179.3M161.2 282.6H162.9M157.2 282.5H161.2M148.7 282.3H157.2M146.4 282.1H148.7M140.9 281.7H146.4M133.9 280.8H140.9M155.1 282.9H179.3M171.2 283.0H179.3M171.2 283.2H179.3M167.1 283.1H171.2M168.7 283.3H179.3M168.7 283.5H179.3M167.1 283.4H168.7M163.0 283.3H167.1M163.0 283.6H179.3M155.1 283.4H163.0M152.0 283.2H155.1M154.5 283.7H179.3M164.8 283.9H179.3M170.6 284.1H179.3M170.6 284.2H179.3M167.5 284.1H170.6M167.5 284.4H179.3M164.8 284.3H167.5M157.3 284.1H164.8M165.6 284.6H179.3M166.4 284.7H179.3M166.4 284.9H179.3M165.6 284.8H166.4M162.7 284.7H165.6M166.8 285.1H179.3M167.6 285.1H179.3M167.6 285.3H179.3M166.8 285.2H167.6M163.6 285.1H166.8M163.6 285.4H179.3M162.7 285.3H163.6M157.3 285.0H162.7M154.5 284.5H157.3M152.0 284.1H154.5M148.1 283.6H152.0M159.6 285.6H179.3M164.5 285.8H179.3M167.5 285.9H179.3M167.5 286.1H179.3M164.5 286.0H167.5M162.9 285.9H164.5M162.9 286.2H179.3M161.9 286.0H162.9M167.4 286.3H179.3M167.4 286.4H179.3M166.8 286.3H167.4M172.1 286.5H179.3M172.1 286.7H179.3M169.5 286.6H172.1M169.5 286.9H179.3M166.8 286.7H169.5M163.2 286.5H166.8M166.1 287.0H179.3M166.1 287.2H179.3M163.2 287.1H166.1M161.9 286.8H163.2M159.6 286.4H161.9M158.4 286.0H159.6M166.5 287.3H179.3M166.5 287.5H179.3M165.4 287.4H166.5M166.3 287.7H179.3M166.3 287.9H179.3M165.4 287.8H166.3M160.0 287.6H165.4M167.6 288.1H179.3M167.6 288.2H179.3M165.7 288.1H167.6M172.0 288.5H179.3M172.0 288.6H179.3M170.0 288.5H172.0M170.0 288.8H179.3M165.7 288.6H170.0M163.2 288.4H165.7M171.7 288.9H179.3M174.6 289.0H179.3M176.4 289.1H179.3M176.4 289.2H179.3M174.9 289.1H176.4M174.9 289.3H179.3M174.6 289.2H174.9M173.3 289.1H174.6M173.3 289.4H179.3M172.4 289.3H173.3M173.6 289.6H179.3M173.6 289.7H179.3M172.4 289.6H173.6M171.7 289.5H172.4M170.2 289.2H171.7M170.6 289.9H179.3M170.6 290.0H179.3M170.2 290.0H170.6M167.1 289.6H170.2M171.2 290.2H179.3M171.2 290.4H179.3M170.3 290.3H171.2M173.3 290.6H179.3M174.1 290.7H179.3M174.1 290.8H179.3M173.3 290.8H174.1M170.3 290.7H173.3M167.1 290.5H170.3M163.2 290.0H167.1M162.2 289.2H163.2M175.3 290.9H179.3M175.3 291.1H179.3M173.5 291.0H175.3M174.3 291.2H179.3M174.3 291.4H179.3M173.5 291.3H174.3M173.2 291.1H173.5M173.2 291.4H179.3M172.0 291.3H173.2M172.0 291.5H179.3M169.9 291.4H172.0M171.3 291.7H179.3M171.3 291.8H179.3M169.9 291.8H171.3M165.2 291.6H169.9M170.9 292.0H179.3M170.9 292.2H179.3M167.3 292.1H170.9M167.3 292.3H179.3M165.2 292.2H167.3M162.2 291.9H165.2M160.0 290.6H162.2M158.4 289.1H160.0M148.1 287.5H158.4M133.9 285.6H148.1M122.5 283.2H133.9M147.3 292.4H179.3M155.4 292.6H179.3M155.4 292.7H179.3M147.3 292.7H155.4M143.7 292.5H147.3M153.9 292.8H179.3M159.0 292.9H179.3M159.0 293.0H179.3M153.9 292.9H159.0M143.7 292.9H153.9M141.0 292.7H143.7M147.1 293.2H179.3M171.9 293.3H179.3M171.9 293.5H179.3M170.0 293.4H171.9M170.0 293.7H179.3M168.3 293.5H170.0M169.1 293.8H179.3M169.1 294.0H179.3M168.3 293.9H169.1M164.7 293.7H168.3M168.7 294.2H179.3M172.2 294.4H179.3M172.2 294.5H179.3M168.7 294.5H172.2M164.7 294.3H168.7M158.7 294.0H164.7M158.7 294.6H179.3M151.5 294.3H158.7M168.5 294.8H179.3M168.5 294.9H179.3M167.2 294.8H168.5M167.2 295.0H179.3M162.0 294.9H167.2M164.0 295.2H179.3M164.0 295.4H179.3M162.0 295.3H164.0M153.3 295.1H162.0M159.6 295.6H179.3M159.6 295.7H179.3M157.5 295.7H159.6M164.5 295.9H179.3M164.5 296.1H179.3M157.5 296.0H164.5M153.3 295.8H157.5M151.5 295.5H153.3M147.1 294.9H151.5M141.0 294.0H147.1M131.9 293.4H141.0M150.3 296.2H179.3M157.1 296.3H179.3M157.1 296.5H179.3M150.3 296.4H157.1M146.9 296.3H150.3M146.9 296.6H179.3M135.4 296.5H146.9M145.7 296.8H179.3M147.7 296.9H179.3M147.7 297.1H179.3M145.7 297.0H147.7M135.4 296.9H145.7M131.9 296.7H135.4M122.5 295.0H131.9M107.4 289.1H122.5M157.6 297.2H179.3M157.6 297.4H179.3M155.9 297.3H157.6M173.6 297.6H179.3M173.6 297.8H179.3M171.7 297.7H173.6M172.2 297.9H179.3M173.2 298.1H179.3M173.2 298.2H179.3M172.7 298.2H173.2M172.7 298.4H179.3M172.2 298.3H172.7M171.7 298.1H172.2M169.3 297.9H171.7M169.3 298.6H179.3M164.2 298.3H169.3M168.6 298.8H179.3M168.6 299.0H179.3M164.2 298.9H168.6M163.2 298.6H164.2M172.1 299.1H179.3M172.6 299.2H179.3M173.8 299.4H179.3M173.8 299.5H179.3M172.6 299.5H173.8M172.1 299.3H172.6M168.5 299.2H172.1M170.8 299.7H179.3M170.8 299.8H179.3M169.2 299.7H170.8M169.2 300.0H179.3M168.5 299.8H169.2M163.2 299.5H168.5M158.1 299.0H163.2M170.7 300.1H179.3M170.7 300.3H179.3M167.5 300.2H170.7M168.4 300.5H179.3M171.3 300.7H179.3M171.3 300.9H179.3M168.4 300.8H171.3M167.5 300.6H168.4M161.4 300.4H167.5M169.8 301.0H179.3M169.8 301.2H179.3M168.2 301.1H169.8M168.8 301.3H179.3M171.4 301.4H179.3M171.4 301.5H179.3M168.8 301.4H171.4M168.2 301.4H168.8M163.8 301.2H168.2M167.9 301.7H179.3M167.9 301.9H179.3M164.8 301.8H167.9M164.8 301.9H179.3M163.8 301.8H164.8M161.4 301.5H163.8M158.1 301.0H161.4M155.9 300.0H158.1M143.8 298.7H155.9M153.8 302.0H179.3M156.6 302.1H179.3M156.6 302.3H179.3M153.8 302.2H156.6M149.0 302.1H153.8M154.7 302.5H179.3M163.0 302.7H179.3M163.0 302.9H179.3M154.7 302.8H163.0M149.0 302.6H154.7M147.6 302.4H149.0M160.5 303.1H179.3M161.4 303.3H179.3M167.0 303.5H179.3M167.0 303.7H179.3M161.4 303.6H167.0M160.5 303.5H161.4M154.6 303.3H160.5M158.5 303.8H179.3M158.5 304.0H179.3M154.6 303.9H158.5M149.4 303.6H154.6M162.4 304.2H179.3M162.4 304.3H179.3M158.9 304.2H162.4M158.9 304.4H179.3M149.4 304.3H158.9M147.6 303.9H149.4M146.2 303.2H147.6M149.8 304.5H179.3M157.1 304.7H179.3M157.1 304.9H179.3M155.3 304.8H157.1M155.3 305.0H179.3M149.8 304.9H155.3M146.2 304.7H149.8M143.8 303.9H146.2M138.3 301.3H143.8M153.0 305.2H179.3M169.9 305.5H179.3M169.9 305.6H179.3M167.9 305.6H169.9M172.1 305.8H179.3M172.1 305.9H179.3M171.6 305.8H172.1M171.6 306.0H179.3M169.7 305.9H171.6M173.0 306.2H179.3M173.0 306.4H179.3M171.2 306.3H173.0M173.0 306.6H179.3M173.0 306.8H179.3M171.2 306.7H173.0M169.7 306.5H171.2M167.9 306.2H169.7M162.3 305.9H167.9M162.3 307.0H179.3M160.8 306.5H162.3M173.3 307.2H179.3M173.3 307.3H179.3M170.9 307.3H173.3M170.9 307.5H179.3M169.2 307.4H170.9M169.2 307.8H179.3M165.7 307.6H169.2M167.0 307.9H179.3M167.0 308.1H179.3M166.4 308.0H167.0M169.6 308.2H179.3M171.5 308.4H179.3M171.5 308.6H179.3M169.6 308.5H171.5M166.4 308.4H169.6M165.7 308.2H166.4M160.8 307.9H165.7M153.0 307.2H160.8M140.9 306.2H153.0M153.7 308.7H179.3M156.1 308.9H179.3M156.1 309.1H179.3M153.7 309.0H156.1M140.9 308.9H153.7M138.3 307.5H140.9M129.8 304.4H138.3M158.8 309.2H179.3M160.2 309.3H179.3M166.7 309.4H179.3M170.2 309.6H179.3M170.2 309.7H179.3M166.7 309.6H170.2M160.2 309.5H166.7M158.8 309.4H160.2M156.4 309.3H158.8M163.2 309.9H179.3M167.0 310.0H179.3M167.0 310.2H179.3M163.2 310.1H167.0M156.4 310.0H163.2M152.4 309.7H156.4M162.5 310.3H179.3M167.7 310.5H179.3M167.7 310.8H179.3M167.1 310.6H167.7M173.7 311.0H179.3M173.7 311.1H179.3M173.3 311.0H173.7M173.3 311.2H179.3M171.5 311.1H173.3M172.0 311.3H179.3M172.0 311.4H179.3M171.5 311.3H172.0M170.9 311.2H171.5M173.3 311.5H179.3M173.3 311.7H179.3M172.9 311.6H173.3M172.9 311.8H179.3M170.9 311.7H172.9M167.1 311.5H170.9M162.5 311.1H167.1M160.8 310.7H162.5M162.2 312.0H179.3M162.2 312.1H179.3M160.8 312.0H162.2M152.4 311.4H160.8M145.2 310.5H152.4M164.9 312.2H179.3M167.1 312.3H179.3M167.1 312.5H179.3M164.9 312.4H167.1M157.7 312.3H164.9M166.8 312.7H179.3M166.8 312.8H179.3M164.1 312.7H166.8M164.1 312.9H179.3M162.7 312.8H164.1M167.3 313.1H179.3M167.3 313.2H179.3M164.2 313.1H167.3M171.3 313.3H179.3M171.3 313.4H179.3M167.9 313.4H171.3M167.9 313.6H179.3M164.2 313.5H167.9M162.7 313.3H164.2M157.7 313.1H162.7M155.6 312.7H157.7M172.1 313.7H179.3M172.1 313.8H179.3M168.9 313.8H172.1M168.9 314.1H179.3M167.2 313.9H168.9M167.2 314.3H179.3M161.0 314.1H167.2M170.4 314.4H179.3M170.4 314.6H179.3M167.3 314.5H170.4M167.3 314.8H179.3M161.0 314.7H167.3M158.5 314.4H161.0M158.5 315.1H179.3M155.6 314.7H158.5M149.7 313.7H155.6M153.9 315.2H179.3M161.7 315.4H179.3M169.9 315.5H179.3M169.9 315.8H179.3M167.5 315.7H169.9M167.5 316.0H179.3M161.7 315.8H167.5M160.6 315.6H161.7M160.6 316.2H179.3M153.9 315.9H160.6M149.7 315.6H153.9M145.2 314.6H149.7M138.7 312.6H145.2M167.0 316.3H179.3M167.0 316.5H179.3M163.8 316.4H167.0M163.8 316.6H179.3M159.7 316.5H163.8M165.5 316.7H179.3M165.5 316.8H179.3M163.9 316.8H165.5M166.3 317.0H179.3M166.3 317.1H179.3M163.9 317.1H166.3M159.7 316.9H163.9M158.2 316.7H159.7M168.7 317.3H179.3M168.7 317.5H179.3M165.8 317.4H168.7M165.8 317.6H179.3M162.7 317.5H165.8M162.7 317.7H179.3M161.2 317.6H162.7M166.1 317.8H179.3M169.7 318.0H179.3M169.7 318.1H179.3M166.1 318.0H169.7M161.2 317.9H166.1M158.2 317.8H161.2M147.9 317.2H158.2M155.5 318.3H179.3M155.5 318.5H179.3M153.1 318.4H155.5M164.4 318.6H179.3M164.4 318.8H179.3M159.2 318.7H164.4M161.6 318.8H179.3M168.1 319.0H179.3M168.1 319.1H179.3M166.2 319.0H168.1M166.2 319.2H179.3M161.6 319.1H166.2M159.2 319.0H161.6M153.1 318.8H159.2M151.1 318.6H153.1M161.0 319.4H179.3M161.0 319.6H179.3M159.4 319.5H161.0M159.4 319.7H179.3M156.5 319.6H159.4M164.3 319.9H179.3M164.3 320.0H179.3M156.5 319.9H164.3M151.1 319.8H156.5M147.9 319.2H151.1M143.2 318.2H147.9M171.3 320.1H179.3M171.3 320.3H179.3M169.4 320.2H171.3M169.4 320.5H179.3M166.1 320.4H169.4M166.1 320.7H179.3M161.8 320.5H166.1M161.8 320.8H179.3M153.1 320.7H161.8M169.1 321.0H179.3M172.6 321.0H179.3M172.6 321.2H179.3M169.1 321.1H172.6M166.7 321.0H169.1M170.5 321.3H179.3M170.5 321.5H179.3M166.7 321.4H170.5M161.4 321.2H166.7M165.7 321.6H179.3M166.3 321.7H179.3M166.3 321.9H179.3M165.7 321.8H166.3M161.4 321.7H165.7M160.6 321.5H161.4M167.5 322.1H179.3M170.2 322.2H179.3M170.2 322.4H179.3M167.5 322.3H170.2M165.7 322.2H167.5M169.1 322.5H179.3M172.2 322.6H179.3M172.5 322.7H179.3M172.5 322.9H179.3M172.2 322.8H172.5M169.1 322.7H172.2M165.7 322.6H169.1M160.6 322.4H165.7M153.1 321.9H160.6M143.2 321.3H153.1M138.7 319.8H143.2M129.8 316.2H138.7M107.4 310.3H129.8M88.0 299.7H107.4M164.8 323.1H179.3M165.7 323.2H179.3M167.8 323.3H179.3M167.8 323.4H179.3M165.7 323.4H167.8M164.8 323.3H165.7M158.2 323.2H164.8M164.4 323.6H179.3M169.4 323.7H179.3M169.4 323.8H179.3M164.4 323.8H169.4M159.0 323.7H164.4M164.2 324.0H179.3M164.2 324.2H179.3M161.2 324.1H164.2M169.5 324.4H179.3M169.5 324.5H179.3M166.2 324.4H169.5M166.2 324.6H179.3M161.2 324.5H166.2M159.0 324.3H161.2M158.2 324.0H159.0M149.0 323.6H158.2M167.9 324.7H179.3M169.5 324.9H179.3M169.5 325.0H179.3M167.9 324.9H169.5M163.8 324.8H167.9M163.8 325.2H179.3M158.8 325.0H163.8M169.0 325.3H179.3M171.3 325.3H179.3M171.3 325.5H179.3M169.0 325.4H171.3M164.5 325.3H169.0M166.4 325.6H179.3M166.4 325.8H179.3M164.5 325.7H166.4M158.8 325.5H164.5M149.0 325.3H158.8M136.0 324.4H149.0M143.5 326.0H179.3M157.1 326.1H179.3M162.1 326.2H179.3M162.1 326.4H179.3M157.1 326.3H162.1M155.0 326.2H157.1M168.3 326.6H179.3M168.3 326.8H179.3M166.0 326.7H168.3M168.2 326.9H179.3M170.9 327.0H179.3M170.9 327.1H179.3M168.2 327.1H170.9M167.5 327.0H168.2M167.5 327.3H179.3M166.0 327.1H167.5M162.0 326.9H166.0M162.0 327.4H179.3M155.0 327.2H162.0M151.0 326.7H155.0M164.9 327.5H179.3M164.9 327.6H179.3M158.5 327.6H164.9M164.8 327.8H179.3M164.8 328.0H179.3M163.7 327.9H164.8M167.4 328.1H179.3M167.4 328.2H179.3M163.7 328.1H167.4M158.5 328.0H163.7M151.0 327.8H158.5M143.5 327.2H151.0M136.0 326.6H143.5M118.6 325.5H136.0M136.1 328.4H179.3M153.0 328.6H179.3M161.8 328.8H179.3M161.8 328.9H179.3M153.0 328.9H161.8M149.1 328.7H153.0M149.1 329.1H179.3M146.9 328.9H149.1M159.1 329.2H179.3M159.1 329.4H179.3M152.3 329.3H159.1M153.9 329.5H179.3M157.0 329.6H179.3M157.0 329.7H179.3M153.9 329.6H157.0M152.3 329.5H153.9M150.3 329.4H152.3M164.4 329.8H179.3M164.4 330.0H179.3M159.9 329.9H164.4M159.9 330.1H179.3M154.6 330.0H159.9M154.6 330.3H179.3M150.3 330.2H154.6M146.9 329.8H150.3M136.1 329.4H146.9M129.9 328.9H136.1M163.1 330.5H179.3M163.1 330.7H179.3M156.9 330.6H163.1M164.9 330.9H179.3M164.9 331.1H179.3M163.5 331.0H164.9M169.6 331.2H179.3M169.6 331.3H179.3M166.6 331.2H169.6M166.6 331.5H179.3M163.5 331.3H166.6M158.4 331.2H163.5M168.0 331.6H179.3M168.0 331.8H179.3M163.6 331.7H168.0M167.2 331.9H179.3M167.2 332.0H179.3M166.1 332.0H167.2M166.1 332.1H179.3M163.6 332.0H166.1M162.3 331.9H163.6M165.4 332.2H179.3M167.7 332.3H179.3M167.7 332.5H179.3M165.4 332.4H167.7M162.3 332.3H165.4M158.4 332.1H162.3M156.9 331.6H158.4M148.8 331.1H156.9M159.7 332.7H179.3M159.7 332.9H179.3M158.6 332.8H159.7M166.6 333.1H179.3M166.6 333.2H179.3M164.6 333.1H166.6M164.6 333.4H179.3M161.0 333.3H164.6M162.6 333.5H179.3M165.9 333.7H179.3M165.9 333.8H179.3M162.6 333.7H165.9M161.0 333.6H162.6M158.6 333.4H161.0M152.4 333.1H158.6M162.0 333.9H179.3M168.0 334.0H179.3M171.5 334.2H179.3M171.5 334.4H179.3M168.7 334.3H171.5M168.7 334.4H179.3M168.0 334.4H168.7M162.0 334.2H168.0M161.1 334.1H162.0M166.2 334.5H179.3M167.9 334.6H179.3M170.9 334.7H179.3M173.9 334.8H179.3M173.9 334.9H179.3M172.0 334.9H173.9M172.0 335.1H179.3M170.9 335.0H172.0M167.9 334.8H170.9M166.2 334.7H167.9M161.1 334.6H166.2M153.9 334.3H161.1M153.9 335.2H179.3M152.4 334.8H153.9M148.8 333.9H152.4M140.0 332.5H148.8M157.2 335.2H179.3M167.1 335.3H179.3M167.1 335.5H179.3M163.5 335.4H167.1M163.5 335.6H179.3M159.8 335.5H163.5M159.8 335.7H179.3M157.2 335.6H159.8M152.3 335.4H157.2M162.7 335.8H179.3M164.1 335.9H179.3M164.1 336.1H179.3M163.4 336.0H164.1M165.0 336.3H179.3M165.0 336.5H179.3M163.4 336.4H165.0M162.7 336.2H163.4M156.0 336.0H162.7M159.0 336.7H179.3M165.6 336.9H179.3M165.6 337.0H179.3M159.0 336.9H165.6M156.0 336.8H159.0M152.3 336.4H156.0M148.4 335.9H152.3M164.5 337.2H179.3M164.5 337.4H179.3M163.5 337.3H164.5M166.8 337.6H179.3M166.8 337.7H179.3M163.5 337.6H166.8M156.4 337.5H163.5M165.6 337.9H179.3M165.6 338.1H179.3M159.7 338.0H165.6M164.2 338.2H179.3M164.2 338.4H179.3M159.7 338.3H164.2M156.4 338.1H159.7M148.4 337.8H156.4M140.0 336.9H148.4M133.9 334.7H140.0M155.6 338.5H179.3M163.4 338.6H179.3M163.4 338.8H179.3M155.6 338.7H163.4M149.1 338.6H155.6M153.1 339.0H179.3M157.0 339.1H179.3M157.0 339.3H179.3M155.5 339.2H157.0M155.5 339.4H179.3M153.1 339.3H155.5M149.1 339.1H153.1M139.6 338.9H149.1M148.9 339.5H179.3M152.8 339.6H179.3M152.8 339.9H179.3M148.9 339.8H152.8M139.6 339.6H148.9M133.9 339.2H139.6M129.9 337.0H133.9M118.6 332.9H129.9M104.6 329.2H118.6M153.3 340.1H179.3M153.3 340.2H179.3M146.9 340.1H153.3M160.7 340.4H179.3M160.7 340.6H179.3M155.1 340.5H160.7M155.1 340.8H179.3M146.9 340.6H155.1M130.5 340.4H146.9M147.2 341.0H179.3M147.2 341.1H179.3M143.2 341.0H147.2M143.2 341.3H179.3M130.5 341.2H143.2M119.2 340.8H130.5M133.7 341.5H179.3M133.7 341.7H179.3M122.8 341.6H133.7M152.3 341.9H179.3M152.3 342.0H179.3M150.4 342.0H152.3M150.4 342.1H179.3M145.7 342.1H150.4M145.7 342.3H179.3M138.4 342.2H145.7M138.4 342.4H179.3M122.8 342.3H138.4M119.2 342.0H122.8M113.6 341.4H119.2M162.4 342.5H179.3M162.4 342.6H179.3M154.4 342.6H162.4M158.0 342.8H179.3M158.0 343.0H179.3M154.4 342.9H158.0M143.9 342.7H154.4M152.6 343.2H179.3M152.6 343.4H179.3M143.9 343.3H152.6M131.6 343.0H143.9M150.9 343.5H179.3M150.9 343.7H179.3M144.1 343.6H150.9M146.0 343.8H179.3M146.0 344.0H179.3M144.1 343.9H146.0M131.6 343.8H144.1M127.2 343.4H131.6M137.3 344.2H179.3M151.1 344.4H179.3M163.6 344.6H179.3M163.6 344.8H179.3M159.3 344.7H163.6M159.3 344.9H179.3M151.1 344.8H159.3M137.3 344.6H151.1M127.2 344.4H137.3M113.6 343.9H127.2M104.6 342.6H113.6M88.0 335.9H104.6M76.8 317.8H88.0M141.4 345.1H179.3M141.4 345.4H179.3M135.7 345.2H141.4M142.4 345.6H179.3M148.9 345.7H179.3M148.9 345.9H179.3M142.4 345.8H148.9M139.0 345.7H142.4M160.7 346.1H179.3M160.7 346.2H179.3M154.1 346.2H160.7M154.1 346.3H179.3M153.0 346.2H154.1M154.1 346.4H179.3M154.1 346.6H179.3M153.0 346.5H154.1M151.5 346.4H153.0M151.5 346.7H179.3M139.0 346.5H151.5M135.7 346.1H139.0M114.0 345.7H135.7M135.0 346.9H179.3M150.4 347.1H179.3M150.4 347.3H179.3M135.0 347.2H150.4M114.0 347.0H135.0M107.9 346.3H114.0M151.5 347.5H179.3M151.5 347.6H179.3M144.5 347.6H151.5M151.5 347.7H179.3M151.5 347.9H179.3M144.5 347.8H151.5M140.0 347.7H144.5M150.9 348.1H179.3M150.9 348.3H179.3M147.6 348.2H150.9M156.0 348.4H179.3M156.0 348.6H179.3M149.5 348.5H156.0M149.5 348.7H179.3M147.6 348.6H149.5M143.5 348.4H147.6M161.4 348.7H179.3M161.4 348.9H179.3M153.8 348.8H161.4M156.7 349.0H179.3M156.7 349.2H179.3M153.8 349.1H156.7M145.5 349.0H153.8M148.7 349.4H179.3M148.7 349.6H179.3M145.5 349.5H148.7M143.5 349.2H145.5M141.9 348.8H143.5M170.6 349.7H179.3M170.6 349.9H179.3M166.9 349.8H170.6M166.9 350.0H179.3M160.4 349.9H166.9M167.3 350.1H179.3M169.0 350.2H179.3M169.0 350.3H179.3M167.3 350.3H169.0M161.6 350.2H167.3M161.6 350.6H179.3M160.4 350.4H161.6M155.9 350.1H160.4M161.1 350.8H179.3M161.1 350.9H179.3M158.5 350.9H161.1M163.2 351.0H179.3M163.2 351.2H179.3M158.5 351.1H163.2M155.9 351.0H158.5M153.9 350.6H155.9M155.1 351.4H179.3M157.6 351.6H179.3M157.6 351.7H179.3M155.1 351.6H157.6M153.9 351.5H155.1M141.9 351.0H153.9M140.0 349.9H141.9M134.9 348.8H140.0M153.1 351.9H179.3M153.1 352.0H179.3M151.0 352.0H153.1M162.9 352.1H179.3M162.9 352.3H179.3M160.5 352.2H162.9M163.2 352.4H179.3M163.2 352.6H179.3M162.2 352.5H163.2M162.2 352.8H179.3M160.5 352.6H162.2M151.0 352.4H160.5M145.1 352.2H151.0M153.3 352.9H179.3M156.7 353.1H179.3M156.7 353.2H179.3M153.3 353.1H156.7M145.1 353.0H153.3M134.9 352.6H145.1M124.6 350.7H134.9M149.8 353.4H179.3M149.8 353.6H179.3M135.1 353.5H149.8M149.6 353.7H179.3M149.6 353.8H179.3M135.1 353.8H149.6M124.6 353.6H135.1M112.6 352.2H124.6M139.6 354.0H179.3M163.1 354.1H179.3M163.1 354.3H179.3M155.4 354.2H163.1M155.4 354.4H179.3M151.1 354.3H155.4M151.1 354.6H179.3M149.7 354.4H151.1M171.3 354.8H179.3M171.3 354.9H179.3M168.0 354.8H171.3M171.0 355.0H179.3M172.2 355.2H179.3M172.2 355.4H179.3M171.0 355.3H172.2M168.0 355.1H171.0M164.6 355.0H168.0M164.6 355.5H179.3M159.9 355.2H164.6M165.5 355.6H179.3M168.5 355.7H179.3M168.5 355.9H179.3M165.5 355.8H168.5M163.5 355.7H165.5M167.2 356.0H179.3M167.2 356.2H179.3M163.5 356.1H167.2M159.9 355.9H163.5M149.7 355.6H159.9M139.6 355.0H149.7M131.6 354.5H139.6M162.3 356.2H179.3M162.3 356.4H179.3M157.5 356.3H162.3M157.5 356.6H179.3M149.3 356.4H157.5M157.3 356.7H179.3M163.8 356.9H179.3M163.8 357.1H179.3M157.3 357.0H163.8M149.3 356.9H157.3M146.8 356.7H149.3M158.0 357.3H179.3M158.0 357.5H179.3M154.9 357.4H158.0M161.9 357.6H179.3M161.9 357.8H179.3M154.9 357.7H161.9M152.0 357.5H154.9M152.0 357.9H179.3M146.8 357.7H152.0M140.8 357.2H146.8M152.6 358.1H179.3M166.8 358.3H179.3M166.8 358.4H179.3M163.0 358.4H166.8M163.0 358.6H179.3M158.2 358.5H163.0M158.2 358.8H179.3M152.6 358.7H158.2M145.1 358.4H152.6M153.7 359.0H179.3M168.5 359.1H179.3M168.5 359.3H179.3M168.0 359.2H168.5M168.0 359.4H179.3M164.2 359.3H168.0M164.2 359.5H179.3M161.7 359.4H164.2M161.7 359.6H179.3M156.1 359.5H161.7M163.3 359.8H179.3M163.3 360.0H179.3M156.1 359.9H163.3M153.7 359.7H156.1M145.1 359.4H153.7M140.8 358.9H145.1M131.6 358.0H140.8M112.6 356.3H131.6M107.9 354.2H112.6M95.0 350.3H107.9M169.6 360.1H179.3M169.6 360.2H179.3M165.1 360.1H169.6M165.1 360.3H179.3M160.3 360.2H165.1M160.3 360.5H179.3M158.2 360.3H160.3M158.2 360.6H179.3M155.5 360.5H158.2M163.5 360.7H179.3M163.5 360.8H179.3M162.5 360.7H163.5M162.5 360.9H179.3M161.0 360.8H162.5M163.1 361.0H179.3M166.6 361.1H179.3M166.6 361.3H179.3M163.1 361.2H166.6M161.0 361.1H163.1M155.5 361.0H161.0M149.8 360.7H155.5M149.8 361.4H179.3M147.0 361.1H149.8M154.1 361.6H179.3M154.1 361.8H179.3M147.0 361.7H154.1M136.1 361.4H147.0M162.8 362.0H179.3M171.0 362.1H179.3M173.3 362.2H179.3M173.3 362.4H179.3M171.0 362.3H173.3M168.1 362.2H171.0M168.1 362.5H179.3M162.8 362.4H168.1M155.5 362.2H162.8M173.2 362.7H179.3M173.2 362.9H179.3M171.1 362.8H173.2M171.9 363.1H179.3M171.9 363.3H179.3M171.1 363.2H171.9M168.1 363.0H171.1M174.4 363.5H179.3M174.4 363.7H179.3M173.5 363.6H174.4M173.5 363.8H179.3M173.1 363.7H173.5M175.1 363.8H179.3M175.1 364.0H179.3M174.6 363.9H175.1M175.1 364.2H179.3M175.1 364.3H179.3M174.6 364.2H175.1M173.1 364.1H174.6M170.1 363.9H173.1M171.9 364.4H179.3M173.4 364.6H179.3M173.4 364.7H179.3M171.9 364.6H173.4M171.3 364.5H171.9M176.7 364.8H179.3M176.7 365.0H179.3M176.2 364.9H176.7M176.2 365.1H179.3M175.4 365.0H176.2M176.1 365.2H179.3M176.7 365.4H179.3M176.7 365.5H179.3M176.1 365.5H176.7M175.4 365.3H176.1M174.6 365.2H175.4M174.6 365.7H179.3M172.2 365.4H174.6M174.8 365.8H179.3M174.8 366.0H179.3M172.5 365.9H174.8M172.5 366.2H179.3M172.2 366.0H172.5M171.3 365.7H172.2M170.1 365.1H171.3M168.1 364.5H170.1M162.3 363.8H168.1M162.3 366.3H179.3M158.5 365.0H162.3M168.9 366.5H179.3M168.9 366.6H179.3M166.1 366.5H168.9M166.1 366.7H179.3M163.2 366.6H166.1M163.2 366.8H179.3M158.5 366.7H163.2M155.5 365.9H158.5M145.6 364.0H155.5M169.1 366.9H179.3M169.9 367.0H179.3M169.9 367.2H179.3M169.1 367.1H169.9M168.3 367.0H169.1M169.3 367.4H179.3M172.3 367.6H179.3M172.3 367.8H179.3M169.3 367.7H172.3M168.3 367.5H169.3M163.6 367.3H168.3M172.8 368.0H179.3M172.8 368.1H179.3M169.8 368.1H172.8M172.0 368.2H179.3M173.6 368.3H179.3M173.6 368.5H179.3M172.0 368.4H173.6M169.8 368.3H172.0M167.8 368.2H169.8M171.9 368.7H179.3M171.9 368.8H179.3M170.9 368.7H171.9M170.9 369.0H179.3M169.1 368.9H170.9M170.1 369.1H179.3M173.9 369.2H179.3M173.9 369.4H179.3M172.3 369.3H173.9M172.3 369.6H179.3M170.1 369.4H172.3M169.1 369.3H170.1M167.8 369.1H169.1M163.6 368.6H167.8M162.8 367.9H163.6M171.9 369.7H179.3M171.9 369.9H179.3M168.8 369.8H171.9M170.0 370.1H179.3M170.0 370.3H179.3M168.8 370.2H170.0M166.3 370.0H168.8M170.6 370.4H179.3M170.6 370.5H179.3M168.0 370.5H170.6M170.3 370.7H179.3M170.3 370.9H179.3M168.0 370.8H170.3M166.3 370.6H168.0M162.8 370.3H166.3M153.9 369.1H162.8M158.7 371.0H179.3M158.7 371.2H179.3M156.8 371.1H158.7M156.8 371.4H179.3M153.9 371.3H156.8M145.6 370.2H153.9M136.1 367.1H145.6M128.8 364.3H136.1M145.5 371.5H179.3M145.5 371.7H179.3M142.4 371.6H145.5M159.9 371.9H179.3M159.9 372.1H179.3M149.5 372.0H159.9M156.8 372.2H179.3M156.8 372.4H179.3M149.5 372.3H156.8M146.1 372.1H149.5M154.7 372.5H179.3M154.7 372.6H179.3M146.1 372.5H154.7M142.4 372.3H146.1M138.5 372.0H142.4M169.8 372.8H179.3M169.8 372.9H179.3M166.4 372.9H169.8M166.4 373.1H179.3M165.6 373.0H166.4M166.6 373.2H179.3M166.6 373.3H179.3M165.6 373.2H166.6M161.3 373.1H165.6M170.8 373.5H179.3M170.8 373.6H179.3M168.8 373.5H170.8M172.9 373.8H179.3M172.9 373.9H179.3M170.3 373.8H172.9M170.3 374.0H179.3M168.8 373.9H170.3M164.6 373.7H168.8M164.6 374.1H179.3M161.3 373.9H164.6M154.3 373.5H161.3M169.3 374.2H179.3M169.3 374.4H179.3M167.5 374.3H169.3M167.5 374.6H179.3M161.6 374.5H167.5M161.6 374.7H179.3M154.3 374.6H161.6M152.7 374.0H154.3M166.2 374.8H179.3M166.2 375.0H179.3M164.6 374.9H166.2M164.6 375.2H179.3M163.0 375.0H164.6M167.0 375.4H179.3M169.6 375.6H179.3M169.6 375.7H179.3M167.0 375.7H169.6M163.0 375.5H167.0M160.8 375.3H163.0M166.4 375.9H179.3M166.4 376.1H179.3M164.6 376.0H166.4M164.6 376.3H179.3M160.8 376.1H164.6M152.7 375.7H160.8M138.5 374.9H152.7M128.8 373.4H138.5M112.3 368.8H128.8M164.1 376.5H179.3M166.6 376.6H179.3M172.8 376.6H179.3M172.8 376.8H179.3M169.5 376.7H172.8M169.5 376.9H179.3M166.6 376.8H169.5M164.1 376.7H166.6M160.5 376.6H164.1M170.9 377.0H179.3M172.0 377.2H179.3M172.0 377.3H179.3M171.6 377.2H172.0M171.6 377.4H179.3M170.9 377.3H171.6M168.0 377.2H170.9M170.0 377.5H179.3M170.0 377.7H179.3M168.0 377.6H170.0M165.7 377.4H168.0M165.7 377.9H179.3M160.5 377.6H165.7M152.3 377.1H160.5M154.2 378.0H179.3M154.2 378.2H179.3M152.3 378.1H154.2M146.8 377.6H152.3M160.2 378.4H179.3M161.2 378.6H179.3M161.2 378.7H179.3M160.2 378.6H161.2M155.4 378.5H160.2M157.1 378.9H179.3M157.1 379.0H179.3M155.4 379.0H157.1M146.8 378.7H155.4M144.0 378.2H146.8M168.6 379.1H179.3M168.6 379.3H179.3M162.8 379.2H168.6M162.8 379.5H179.3M161.4 379.3H162.8M161.4 379.6H179.3M158.7 379.4H161.4M158.7 379.7H179.3M155.5 379.6H158.7M164.0 379.9H179.3M164.0 380.1H179.3M159.7 380.0H164.0M159.7 380.2H179.3M155.5 380.1H159.7M153.4 379.8H155.5M166.0 380.3H179.3M166.0 380.5H179.3M160.7 380.4H166.0M165.0 380.6H179.3M165.0 380.8H179.3M160.7 380.7H165.0M158.4 380.6H160.7M171.4 381.0H179.3M171.4 381.1H179.3M169.6 381.0H171.4M171.5 381.3H179.3M171.5 381.5H179.3M169.6 381.4H171.5M164.5 381.2H169.6M168.7 381.7H179.3M168.7 381.9H179.3M164.5 381.8H168.7M160.7 381.5H164.5M160.7 382.0H179.3M158.4 381.8H160.7M153.4 381.2H158.4M151.0 380.5H153.4M156.5 382.2H179.3M163.2 382.4H179.3M163.2 382.6H179.3M156.5 382.5H163.2M153.8 382.3H156.5M167.6 382.8H179.3M167.6 382.9H179.3M163.0 382.8H167.6M163.0 383.1H179.3M161.4 383.0H163.0M162.1 383.3H179.3M162.1 383.5H179.3M161.4 383.4H162.1M155.0 383.2H161.4M167.6 383.6H179.3M167.6 383.8H179.3M162.3 383.7H167.6M162.3 383.9H179.3M156.6 383.8H162.3M156.6 384.1H179.3M155.0 384.0H156.6M153.8 383.6H155.0M151.0 383.0H153.8M144.0 381.7H151.0M138.6 379.9H144.0M159.9 384.2H179.3M159.9 384.3H179.3M152.7 384.3H159.9M161.2 384.5H179.3M161.2 384.7H179.3M154.3 384.6H161.2M154.3 384.8H179.3M152.7 384.7H154.3M148.2 384.5H152.7M155.9 384.9H179.3M155.9 385.0H179.3M150.5 384.9H155.9M155.6 385.2H179.3M159.0 385.2H179.3M165.9 385.3H179.3M165.9 385.5H179.3M159.0 385.4H165.9M155.6 385.3H159.0M150.5 385.2H155.6M148.2 385.1H150.5M145.2 384.8H148.2M156.6 385.6H179.3M156.6 385.7H179.3M151.0 385.6H156.6M160.4 385.8H179.3M160.4 385.9H179.3M152.2 385.9H160.4M152.2 386.1H179.3M151.0 386.0H152.2M145.2 385.8H151.0M138.6 385.3H145.2M122.6 382.6H138.6M156.7 386.2H179.3M161.0 386.4H179.3M161.0 386.5H179.3M156.7 386.5H161.0M154.2 386.3H156.7M160.5 386.7H179.3M160.5 386.9H179.3M154.2 386.8H160.5M145.9 386.6H154.2M160.3 387.0H179.3M160.3 387.1H179.3M155.8 387.1H160.3M163.8 387.3H179.3M163.8 387.5H179.3M155.8 387.4H163.8M152.5 387.2H155.8M157.4 387.7H179.3M157.4 387.9H179.3M152.5 387.8H157.4M145.9 387.5H152.5M141.5 387.0H145.9M163.0 388.0H179.3M172.3 388.1H179.3M172.9 388.2H179.3M172.9 388.4H179.3M172.3 388.3H172.9M168.7 388.2H172.3M170.2 388.6H179.3M170.2 388.8H179.3M168.7 388.7H170.2M164.3 388.4H168.7M165.9 388.9H179.3M165.9 389.0H179.3M164.3 388.9H165.9M163.0 388.7H164.3M159.2 388.3H163.0M172.1 389.1H179.3M172.1 389.3H179.3M170.8 389.2H172.1M170.8 389.5H179.3M167.4 389.3H170.8M168.0 389.7H179.3M171.1 389.9H179.3M171.1 390.0H179.3M168.0 389.9H171.1M167.4 389.8H168.0M164.4 389.6H167.4M172.4 390.1H179.3M174.5 390.3H179.3M174.5 390.4H179.3M172.4 390.4H174.5M170.8 390.3H172.4M170.8 390.5H179.3M168.2 390.4H170.8M168.2 390.7H179.3M164.4 390.5H168.2M159.2 390.1H164.4M155.7 389.2H159.2M170.2 390.8H179.3M171.9 390.9H179.3M173.0 391.2H179.3M173.0 391.3H179.3M171.9 391.2H173.0M170.2 391.1H171.9M165.8 391.0H170.2M165.8 391.4H179.3M162.8 391.2H165.8M166.5 391.6H179.3M168.5 391.8H179.3M168.5 392.0H179.3M166.5 391.9H168.5M162.8 391.8H166.5M155.7 391.5H162.8M147.8 390.3H155.7M171.0 392.1H179.3M171.0 392.3H179.3M169.7 392.2H171.0M169.7 392.4H179.3M167.8 392.3H169.7M170.7 392.5H179.3M170.7 392.7H179.3M167.8 392.6H170.7M165.0 392.5H167.8M170.6 392.7H179.3M171.0 392.9H179.3M171.0 393.0H179.3M170.6 392.9H171.0M169.1 392.8H170.6M169.1 393.2H179.3M168.2 393.0H169.1M168.2 393.4H179.3M165.0 393.2H168.2M158.9 392.8H165.0M166.8 393.5H179.3M166.8 393.6H179.3M164.9 393.5H166.8M168.1 393.8H179.3M168.1 393.9H179.3M165.6 393.9H168.1M168.2 394.1H179.3M168.2 394.3H179.3M166.6 394.2H168.2M166.6 394.4H179.3M165.6 394.3H166.6M164.9 394.1H165.6M158.9 393.8H164.9M153.2 393.3H158.9M169.0 394.5H179.3M171.7 394.6H179.3M171.7 394.8H179.3M169.0 394.7H171.7M167.1 394.6H169.0M167.1 394.9H179.3M166.3 394.7H167.1M169.9 395.0H179.3M172.2 395.2H179.3M173.2 395.4H179.3M173.2 395.6H179.3M172.2 395.5H173.2M169.9 395.3H172.2M166.3 395.2H169.9M162.7 395.0H166.3M165.5 395.8H179.3M168.6 396.0H179.3M168.6 396.2H179.3M165.5 396.1H168.6M162.7 396.0H165.5M161.5 395.5H162.7M167.6 396.4H179.3M169.3 396.6H179.3M171.5 396.8H179.3M174.3 396.9H179.3M174.3 397.1H179.3M172.3 397.0H174.3M172.9 397.3H179.3M172.9 397.4H179.3M172.3 397.3H172.9M171.5 397.2H172.3M170.7 397.0H171.5M170.7 397.5H179.3M169.9 397.2H170.7M172.8 397.6H179.3M174.5 397.8H179.3M174.5 398.0H179.3M172.8 397.9H174.5M169.9 397.8H172.8M169.3 397.5H169.9M167.6 397.0H169.3M161.5 396.7H167.6M153.2 396.1H161.5M147.8 394.7H153.2M141.5 392.5H147.8M122.6 389.8H141.5M112.3 386.2H122.6M95.0 377.5H112.3M76.8 363.9H95.0M73.9 340.9H76.8M146.5 398.1H179.3M148.6 398.2H179.3M148.6 398.4H179.3M146.5 398.3H148.6M133.6 398.2H146.5M144.2 398.6H179.3M154.7 398.8H179.3M154.7 399.0H179.3M144.2 398.9H154.7M138.6 398.7H144.2M138.6 399.1H179.3M133.6 398.9H138.6M128.4 398.6H133.6M141.4 399.3H179.3M141.4 399.5H179.3M139.0 399.4H141.4M152.1 399.6H179.3M152.1 399.8H179.3M139.0 399.7H152.1M128.4 399.5H139.0M110.8 399.1H128.4M143.5 400.0H179.3M143.5 400.1H179.3M139.2 400.1H143.5M139.2 400.3H179.3M135.0 400.2H139.2M145.3 400.5H179.3M149.6 400.7H179.3M149.6 400.8H179.3M145.3 400.8H149.6M135.0 400.6H145.3M130.6 400.4H135.0M143.1 401.0H179.3M156.7 401.2H179.3M156.7 401.4H179.3M146.0 401.3H156.7M153.1 401.5H179.3M153.1 401.6H179.3M146.0 401.6H153.1M143.1 401.4H146.0M130.6 401.2H143.1M110.8 400.8H130.6M104.2 399.9H110.8M147.6 401.8H179.3M157.8 401.9H179.3M157.8 402.1H179.3M147.6 402.0H157.8M141.1 401.9H147.6M141.1 402.2H179.3M130.6 402.1H141.1M162.1 402.4H179.3M162.1 402.5H179.3M159.6 402.5H162.1M159.6 402.6H179.3M154.8 402.5H159.6M156.9 402.7H179.3M156.9 402.8H179.3M154.8 402.8H156.9M143.7 402.7H154.8M143.7 403.0H179.3M139.3 402.9H143.7M142.1 403.3H179.3M148.1 403.4H179.3M148.1 403.5H179.3M143.9 403.5H148.1M143.9 403.6H179.3M142.1 403.5H143.9M139.3 403.4H142.1M130.6 403.1H139.3M115.7 402.6H130.6M138.9 403.7H179.3M141.1 403.8H179.3M141.1 404.0H179.3M138.9 403.9H141.1M118.5 403.8H138.9M158.5 404.2H179.3M158.5 404.3H179.3M154.5 404.2H158.5M160.9 404.4H179.3M160.9 404.6H179.3M154.5 404.5H160.9M142.4 404.4H154.5M142.4 404.7H179.3M132.4 404.5H142.4M152.9 404.8H179.3M152.9 404.9H179.3M148.7 404.8H152.9M148.7 405.1H179.3M144.8 405.0H148.7M160.5 405.2H179.3M160.5 405.3H179.3M157.7 405.2H160.5M157.7 405.5H179.3M156.1 405.4H157.7M156.1 405.7H179.3M144.8 405.5H156.1M132.4 405.2H144.8M124.4 404.9H132.4M139.7 405.9H179.3M145.2 406.1H179.3M147.5 406.3H179.3M147.5 406.4H179.3M145.2 406.4H147.5M139.7 406.2H145.2M124.4 406.1H139.7M118.5 405.5H124.4M115.7 404.6H118.5M104.2 403.6H115.7M94.5 401.8H104.2M168.9 406.6H179.3M168.9 406.7H179.3M165.8 406.6H168.9M171.8 406.9H179.3M171.8 407.0H179.3M168.7 406.9H171.8M168.7 407.2H179.3M165.8 407.1H168.7M159.7 406.9H165.8M166.3 407.4H179.3M169.9 407.6H179.3M169.9 407.7H179.3M166.3 407.6H169.9M159.7 407.5H166.3M151.7 407.2H159.7M159.6 407.9H179.3M164.2 408.1H179.3M164.2 408.2H179.3M159.6 408.2H164.2M151.7 408.0H159.6M146.4 407.6H151.7M161.7 408.4H179.3M167.9 408.4H179.3M167.9 408.6H179.3M161.7 408.5H167.9M156.2 408.4H161.7M156.2 408.7H179.3M154.1 408.6H156.2M164.2 408.9H179.3M164.2 409.0H179.3M161.3 408.9H164.2M161.3 409.2H179.3M154.1 409.1H161.3M149.0 408.8H154.1M161.9 409.4H179.3M161.9 409.6H179.3M160.5 409.5H161.9M160.5 409.7H179.3M155.6 409.6H160.5M156.9 409.8H179.3M161.1 409.9H179.3M161.1 410.1H179.3M156.9 410.0H161.1M155.6 409.9H156.9M149.0 409.7H155.6M146.4 409.3H149.0M130.5 408.4H146.4M154.6 410.2H179.3M157.1 410.4H179.3M164.6 410.5H179.3M169.0 410.6H179.3M169.0 410.8H179.3M164.6 410.7H169.0M157.1 410.6H164.6M154.6 410.5H157.1M141.7 410.4H154.6M159.9 411.0H179.3M161.6 411.2H179.3M161.6 411.3H179.3M159.9 411.2H161.6M153.5 411.1H159.9M159.4 411.4H179.3M159.4 411.6H179.3M153.5 411.5H159.4M141.7 411.3H153.5M130.5 410.8H141.7M109.6 409.6H130.5M159.6 411.7H179.3M159.6 411.8H179.3M149.9 411.8H159.6M164.3 412.0H179.3M164.3 412.2H179.3M157.9 412.1H164.3M157.9 412.3H179.3M149.9 412.2H157.9M143.6 412.0H149.9M153.1 412.4H179.3M153.1 412.6H179.3M145.5 412.5H153.1M145.5 412.9H179.3M143.6 412.7H145.5M139.2 412.3H143.6M139.2 413.1H179.3M128.1 412.7H139.2M160.1 413.3H179.3M160.1 413.5H179.3M150.4 413.4H160.1M159.9 413.7H179.3M159.9 413.8H179.3M156.9 413.7H159.9M166.8 414.0H179.3M166.8 414.1H179.3M160.5 414.1H166.8M160.5 414.3H179.3M156.9 414.2H160.5M150.4 414.0H156.9M143.9 413.7H150.4M154.3 414.6H179.3M154.3 414.8H179.3M152.0 414.7H154.3M152.0 414.9H179.3M143.9 414.8H152.0M128.1 414.2H143.9M109.6 413.5H128.1M94.5 411.6H109.6M82.0 406.7H94.5M150.6 415.1H179.3M152.4 415.4H179.3M152.4 415.5H179.3M150.6 415.4H152.4M138.4 415.3H150.6M147.7 415.7H179.3M147.7 415.9H179.3M140.4 415.8H147.7M148.0 416.1H179.3M148.0 416.2H179.3M140.4 416.1H148.0M138.4 416.0H140.4M117.2 415.6H138.4M117.2 416.3H179.3M95.4 416.0H117.2M149.7 416.5H179.3M149.7 416.6H179.3M146.8 416.5H149.7M156.5 416.8H179.3M156.5 417.0H179.3M146.8 416.9H156.5M131.8 416.7H146.8M147.6 417.2H179.3M147.6 417.3H179.3M131.8 417.3H147.6M118.0 417.0H131.8M134.7 417.5H179.3M134.7 417.6H179.3M132.4 417.6H134.7M140.3 417.8H179.3M140.3 418.0H179.3M132.4 417.9H140.3M118.0 417.7H132.4M95.4 417.4H118.0M82.0 416.7H95.4M73.9 411.7H82.0M57.8 376.3H73.9M150.2 418.1H179.3M150.2 418.3H179.3M138.7 418.2H150.2M160.4 418.4H179.3M169.2 418.6H179.3M169.2 418.7H179.3M166.3 418.6H169.2M166.3 418.8H179.3M160.4 418.7H166.3M151.8 418.6H160.4M151.8 418.9H179.3M148.0 418.8H151.8M150.7 419.1H179.3M152.5 419.2H179.3M152.5 419.4H179.3M150.7 419.3H152.5M148.0 419.2H150.7M138.7 419.0H148.0M135.8 418.6H138.7M157.6 419.5H179.3M157.6 419.8H179.3M151.4 419.7H157.6M153.4 420.0H179.3M153.4 420.1H179.3M151.4 420.0H153.4M148.4 419.8H151.4M150.3 420.2H179.3M150.3 420.4H179.3M148.4 420.3H150.3M135.8 420.1H148.4M122.9 419.3H135.8M155.3 420.5H179.3M157.7 420.6H179.3M158.8 420.7H179.3M158.8 420.8H179.3M157.7 420.7H158.8M155.3 420.6H157.7M148.1 420.6H155.3M159.3 420.9H179.3M159.3 421.1H179.3M156.7 421.0H159.3M164.3 421.3H179.3M164.3 421.4H179.3M156.7 421.4H164.3M148.1 421.2H156.7M140.0 420.9H148.1M150.8 421.6H179.3M150.8 421.7H179.3M142.8 421.7H150.8M155.0 421.9H179.3M155.0 422.1H179.3M142.8 422.0H155.0M140.0 421.8H142.8M137.1 421.4H140.0M157.2 422.2H179.3M163.8 422.4H179.3M163.8 422.5H179.3M157.2 422.5H163.8M147.1 422.3H157.2M150.8 422.6H179.3M150.8 422.8H179.3M147.1 422.7H150.8M144.4 422.5H147.1M150.5 423.0H179.3M154.5 423.1H179.3M157.5 423.2H179.3M157.5 423.3H179.3M154.5 423.3H157.5M150.5 423.2H154.5M144.4 423.1H150.5M140.7 422.8H144.4M164.0 423.5H179.3M164.0 423.7H179.3M158.4 423.6H164.0M158.4 423.9H179.3M149.6 423.8H158.4M159.2 424.1H179.3M159.2 424.2H179.3M156.4 424.2H159.2M156.4 424.3H179.3M149.6 424.2H156.4M140.7 424.0H149.6M137.1 423.4H140.7M122.9 422.4H137.1M100.0 420.9H122.9M135.4 424.4H179.3M154.7 424.6H179.3M154.7 424.7H179.3M149.9 424.7H154.7M152.7 424.9H179.3M152.7 425.1H179.3M149.9 425.0H152.7M135.4 424.8H149.9M125.1 424.6H135.4M141.8 425.2H179.3M141.8 425.4H179.3M125.1 425.3H141.8M118.7 425.0H125.1M118.7 425.6H179.3M111.5 425.3H118.7M147.9 425.8H179.3M154.2 426.0H179.3M154.2 426.1H179.3M149.4 426.1H154.2M149.4 426.2H179.3M147.9 426.2H149.4M139.2 426.0H147.9M151.8 426.3H179.3M151.8 426.5H179.3M139.2 426.4H151.8M133.9 426.2H139.2M147.8 426.7H179.3M147.8 426.9H179.3M144.7 426.8H147.8M144.7 427.0H179.3M133.9 426.9H144.7M111.5 426.6H133.9M100.0 425.9H111.5M66.3 423.4H100.0M153.0 427.1H179.3M157.1 427.3H179.3M157.1 427.4H179.3M153.0 427.4H157.1M146.3 427.2H153.0M158.2 427.6H179.3M158.2 427.8H179.3M151.2 427.7H158.2M158.3 427.9H179.3M158.3 428.1H179.3M153.4 428.0H158.3M158.6 428.2H179.3M158.6 428.4H179.3M153.4 428.3H158.6M151.2 428.2H153.4M146.3 427.9H151.2M136.0 427.6H146.3M143.2 428.6H179.3M143.2 428.8H179.3M140.3 428.7H143.2M158.5 428.9H179.3M164.0 429.0H179.3M164.0 429.1H179.3M158.5 429.1H164.0M157.5 429.0H158.5M161.9 429.3H179.3M161.9 429.4H179.3M157.5 429.3H161.9M147.8 429.2H157.5M164.5 429.6H179.3M165.5 429.7H179.3M165.5 429.8H179.3M164.5 429.7H165.5M162.6 429.7H164.5M162.6 430.0H179.3M158.2 429.8H162.6M160.4 430.2H179.3M160.4 430.3H179.3M158.2 430.2H160.4M147.8 430.0H158.2M140.3 429.6H147.8M136.0 429.1H140.3M131.8 428.4H136.0M164.1 430.6H179.3M164.1 430.7H179.3M158.0 430.6H164.1M160.1 430.8H179.3M160.1 431.1H179.3M158.0 431.0H160.1M155.4 430.8H158.0M166.1 431.3H179.3M166.1 431.4H179.3M162.9 431.3H166.1M165.7 431.5H179.3M167.7 431.7H179.3M167.7 431.8H179.3M165.7 431.7H167.7M165.0 431.6H165.7M165.0 431.9H179.3M162.9 431.7H165.0M155.4 431.5H162.9M151.9 431.2H155.4M154.3 432.0H179.3M154.3 432.2H179.3M151.9 432.1H154.3M140.4 431.6H151.9M144.2 432.3H179.3M159.0 432.4H179.3M159.0 432.6H179.3M154.3 432.5H159.0M154.3 432.8H179.3M151.1 432.6H154.3M158.5 433.0H179.3M158.5 433.1H179.3M151.1 433.1H158.5M144.2 432.8H151.1M140.4 432.6H144.2M131.8 432.1H140.4M109.7 430.2H131.8M146.9 433.2H179.3M153.6 433.3H179.3M162.1 433.4H179.3M162.1 433.6H179.3M153.6 433.5H162.1M146.9 433.4H153.6M133.9 433.3H146.9M133.9 433.7H179.3M128.0 433.5H133.9M151.5 433.8H179.3M151.5 434.0H179.3M149.3 433.9H151.5M160.9 434.2H179.3M160.9 434.4H179.3M157.0 434.3H160.9M157.0 434.5H179.3M149.3 434.4H157.0M140.7 434.2H149.3M160.9 434.8H179.3M160.9 434.9H179.3M155.4 434.9H160.9M155.4 435.1H179.3M149.8 435.0H155.4M166.2 435.3H179.3M166.2 435.5H179.3M164.9 435.4H166.2M164.9 435.5H179.3M157.7 435.5H164.9M157.7 435.6H179.3M149.8 435.5H157.7M147.5 435.2H149.8M158.6 435.6H179.3M158.6 435.7H179.3M156.5 435.7H158.6M164.9 435.9H179.3M164.9 436.1H179.3M158.6 436.0H164.9M160.6 436.2H179.3M160.6 436.4H179.3M158.6 436.3H160.6M156.5 436.1H158.6M147.5 435.9H156.5M140.7 435.6H147.5M128.0 434.9H140.7M109.7 434.2H128.0M103.6 432.2H109.7M163.0 436.5H179.3M163.0 436.7H179.3M162.1 436.6H163.0M162.1 436.9H179.3M158.3 436.8H162.1M158.3 437.1H179.3M152.9 436.9H158.3M152.9 437.2H179.3M142.5 437.1H152.9M156.0 437.4H179.3M162.5 437.6H179.3M162.5 437.8H179.3M156.0 437.7H162.5M148.7 437.5H156.0M156.8 437.9H179.3M156.8 438.0H179.3M148.7 437.9H156.8M142.5 437.7H148.7M126.1 437.4H142.5M150.2 438.1H179.3M156.5 438.2H179.3M161.7 438.4H179.3M161.7 438.5H179.3M156.5 438.4H161.7M150.2 438.3H156.5M147.9 438.2H150.2M158.4 438.7H179.3M158.4 438.9H179.3M156.8 438.8H158.4M159.1 439.0H179.3M159.1 439.2H179.3M156.8 439.1H159.1M147.9 438.9H156.8M141.4 438.6H147.9M151.7 439.3H179.3M151.7 439.5H179.3M146.1 439.4H151.7M160.7 439.6H179.3M165.6 439.7H179.3M165.6 439.8H179.3M160.7 439.8H165.6M156.1 439.7H160.7M156.1 440.0H179.3M146.1 439.8H156.1M141.4 439.6H146.1M129.6 439.1H141.4M157.4 440.1H179.3M157.4 440.3H179.3M147.6 440.2H157.4M159.9 440.4H179.3M163.7 440.6H179.3M167.3 440.7H179.3M167.3 440.8H179.3M163.7 440.7H167.3M159.9 440.7H163.7M154.0 440.6H159.9M157.4 441.0H179.3M157.4 441.1H179.3M154.0 441.0H157.4M147.6 440.8H154.0M141.0 440.5H147.6M141.0 441.3H179.3M129.6 440.9H141.0M126.1 440.0H129.6M118.7 438.7H126.1M165.3 441.4H179.3M165.3 441.5H179.3M158.4 441.4H165.3M158.4 441.7H179.3M148.5 441.6H158.4M159.0 441.9H179.3M165.2 442.0H179.3M165.2 442.2H179.3M159.0 442.1H165.2M148.5 442.0H159.0M144.8 441.8H148.5M144.8 442.3H179.3M134.8 442.0H144.8M156.7 442.5H179.3M156.7 442.6H179.3M155.1 442.5H156.7M155.1 442.7H179.3M142.3 442.6H155.1M142.3 442.8H179.3M139.8 442.7H142.3M139.8 443.0H179.3M134.8 442.8H139.8M132.3 442.4H134.8M165.4 443.1H179.3M165.4 443.2H179.3M163.4 443.1H165.4M163.4 443.4H179.3M157.4 443.3H163.4M157.4 443.5H179.3M152.7 443.4H157.4M154.4 443.6H179.3M154.4 443.8H179.3M152.7 443.7H154.4M144.4 443.5H152.7M144.4 443.9H179.3M136.3 443.7H144.4M156.1 444.1H179.3M156.1 444.3H179.3M147.5 444.2H156.1M147.5 444.4H179.3M136.3 444.3H147.5M132.3 444.0H136.3M130.0 443.2H132.3M163.0 444.5H179.3M163.0 444.7H179.3M154.8 444.6H163.0M154.8 444.8H179.3M143.2 444.7H154.8M156.4 444.9H179.3M156.4 445.1H179.3M155.0 445.0H156.4M161.7 445.3H179.3M161.7 445.4H179.3M157.3 445.4H161.7M160.0 445.6H179.3M160.0 445.8H179.3M157.3 445.7H160.0M155.0 445.5H157.3M153.4 445.3H155.0M172.2 445.9H179.3M172.2 446.1H179.3M170.9 446.0H172.2M170.9 446.2H179.3M166.5 446.1H170.9M173.4 446.4H179.3M173.4 446.5H179.3M171.9 446.4H173.4M171.9 446.6H179.3M168.1 446.5H171.9M168.1 446.7H179.3M166.5 446.6H168.1M160.3 446.4H166.5M171.5 446.9H179.3M171.5 447.1H179.3M169.1 447.0H171.5M169.1 447.2H179.3M165.5 447.1H169.1M167.6 447.3H179.3M167.6 447.5H179.3M165.5 447.4H167.6M160.3 447.2H165.5M156.1 446.8H160.3M167.2 447.6H179.3M167.2 447.7H179.3M162.6 447.6H167.2M166.5 447.8H179.3M171.5 448.0H179.3M171.5 448.2H179.3M167.7 448.1H171.5M167.7 448.4H179.3M166.5 448.3H167.7M163.8 448.0H166.5M163.8 448.5H179.3M162.6 448.3H163.8M158.5 448.0H162.6M163.3 448.7H179.3M163.3 448.8H179.3M160.8 448.7H163.3M166.5 448.9H179.3M170.7 449.1H179.3M170.7 449.3H179.3M166.5 449.2H170.7M160.8 449.1H166.5M158.5 448.9H160.8M156.1 448.4H158.5M153.4 447.6H156.1M145.5 446.4H153.4M159.2 449.4H179.3M159.2 449.7H179.3M150.2 449.5H159.2M153.2 449.9H179.3M160.4 450.0H179.3M160.4 450.2H179.3M158.9 450.1H160.4M158.9 450.3H179.3M153.2 450.2H158.9M150.2 450.0H153.2M145.5 449.8H150.2M143.2 448.1H145.5M130.0 446.4H143.2M118.7 444.8H130.0M103.6 441.8H118.7M95.0 437.0H103.6M140.6 450.5H179.3M140.6 450.6H179.3M122.7 450.5H140.6M131.1 450.8H179.3M131.1 450.9H179.3M122.7 450.9H131.1M113.4 450.7H122.7M146.2 451.0H179.3M146.2 451.2H179.3M131.0 451.1H146.2M131.0 451.3H179.3M122.7 451.2H131.0M151.0 451.5H179.3M151.0 451.7H179.3M140.4 451.6H151.0M140.4 451.9H179.3M122.7 451.8H140.4M113.4 451.5H122.7M95.0 451.1H113.4M85.5 444.0H95.0M164.4 452.1H179.3M164.4 452.3H179.3M158.7 452.2H164.4M158.7 452.4H179.3M152.7 452.3H158.7M161.3 452.6H179.3M161.3 452.8H179.3M152.7 452.7H161.3M149.6 452.5H152.7M152.6 453.0H179.3M160.8 453.1H179.3M160.8 453.3H179.3M152.6 453.2H160.8M149.6 453.1H152.6M139.4 452.8H149.6M155.9 453.4H179.3M155.9 453.6H179.3M151.9 453.5H155.9M158.0 453.7H179.3M158.0 453.9H179.3M151.9 453.8H158.0M139.4 453.6H151.9M137.6 453.2H139.4M159.3 454.1H179.3M159.3 454.2H179.3M155.4 454.1H159.3M158.6 454.3H179.3M158.6 454.5H179.3M155.4 454.4H158.6M150.4 454.3H155.4M154.3 454.7H179.3M154.3 454.9H179.3M150.4 454.8H154.3M137.6 454.5H150.4M125.6 453.9H137.6M162.7 455.0H179.3M162.7 455.1H179.3M161.1 455.0H162.7M161.1 455.2H179.3M151.9 455.1H161.1M154.6 455.3H179.3M154.6 455.5H179.3M151.9 455.4H154.6M149.2 455.3H151.9M166.2 455.6H179.3M166.2 455.8H179.3M162.8 455.7H166.2M162.8 455.9H179.3M159.4 455.8H162.8M166.3 456.1H179.3M166.9 456.2H179.3M166.9 456.4H179.3M166.3 456.3H166.9M164.8 456.2H166.3M167.6 456.6H179.3M167.6 456.7H179.3M164.8 456.6H167.6M159.4 456.4H164.8M149.2 456.1H159.4M134.0 455.7H149.2M156.5 456.9H179.3M156.5 457.0H179.3M153.6 457.0H156.5M153.6 457.2H179.3M149.8 457.1H153.6M162.4 457.4H179.3M162.4 457.5H179.3M155.2 457.5H162.4M155.2 457.6H179.3M153.4 457.5H155.2M162.4 457.7H179.3M162.4 457.9H179.3M153.4 457.8H162.4M149.8 457.7H153.4M138.9 457.4H149.8M157.6 458.0H179.3M157.6 458.2H179.3M146.7 458.1H157.6M159.3 458.3H179.3M159.3 458.4H179.3M157.7 458.4H159.3M157.7 458.6H179.3M146.7 458.5H157.7M138.9 458.3H146.7M134.0 457.8H138.9M125.6 456.8H134.0M118.9 455.3H125.6M168.2 458.7H179.3M168.2 458.9H179.3M167.2 458.8H168.2M170.6 459.1H179.3M172.8 459.3H179.3M176.1 459.4H179.3M176.1 459.6H179.3M174.5 459.5H176.1M174.5 459.6H179.3M172.8 459.6H174.5M170.6 459.4H172.8M167.2 459.3H170.6M163.9 459.0H167.2M169.2 459.7H179.3M169.2 459.9H179.3M165.4 459.8H169.2M165.4 460.1H179.3M163.9 459.9H165.4M159.1 459.5H163.9M168.2 460.3H179.3M168.2 460.5H179.3M166.5 460.4H168.2M166.5 460.7H179.3M162.3 460.5H166.5M166.3 460.9H179.3M166.3 461.0H179.3M162.3 460.9H166.3M159.1 460.7H162.3M155.0 460.1H159.1M169.2 461.2H179.3M169.2 461.4H179.3M167.2 461.3H169.2M167.2 461.6H179.3M166.6 461.4H167.2M166.6 461.7H179.3M165.5 461.6H166.6M169.8 461.8H179.3M169.8 462.0H179.3M168.6 461.9H169.8M171.3 462.1H179.3M171.3 462.2H179.3M171.0 462.2H171.3M171.0 462.3H179.3M168.6 462.2H171.0M165.5 462.1H168.6M161.6 461.8H165.5M161.6 462.5H179.3M158.3 462.1H161.6M168.2 462.6H179.3M171.6 462.7H179.3M171.6 462.9H179.3M168.2 462.8H171.6M164.4 462.7H168.2M164.4 463.1H179.3M162.4 462.9H164.4M162.4 463.2H179.3M158.3 463.0H162.4M155.0 462.6H158.3M149.3 461.4H155.0M164.5 463.3H179.3M168.0 463.5H179.3M168.0 463.7H179.3M164.5 463.6H168.0M162.1 463.5H164.5M167.8 463.7H179.3M168.8 463.8H179.3M171.7 464.0H179.3M171.7 464.1H179.3M168.8 464.0H171.7M167.8 463.9H168.8M162.1 463.8H167.8M161.4 463.6H162.1M170.5 464.3H179.3M170.5 464.5H179.3M166.2 464.4H170.5M166.9 464.7H179.3M169.9 464.9H179.3M169.9 465.0H179.3M166.9 464.9H169.9M166.2 464.8H166.9M164.8 464.6H166.2M164.8 465.2H179.3M161.4 464.9H164.8M158.8 464.3H161.4M168.0 465.4H179.3M168.0 465.6H179.3M165.1 465.5H168.0M170.2 465.8H179.3M170.2 465.9H179.3M165.7 465.9H170.2M169.4 466.1H179.3M169.4 466.3H179.3M165.7 466.2H169.4M165.1 466.0H165.7M158.8 465.8H165.1M149.3 465.0H158.8M138.2 463.2H149.3M156.3 466.4H179.3M156.3 466.5H179.3M150.8 466.5H156.3M171.8 466.7H179.3M174.0 466.8H179.3M174.0 467.0H179.3M171.8 466.9H174.0M170.2 466.8H171.8M171.0 467.1H179.3M171.0 467.3H179.3M170.2 467.2H171.0M167.0 467.0H170.2M173.9 467.4H179.3M173.9 467.5H179.3M171.9 467.4H173.9M173.5 467.6H179.3M173.5 467.7H179.3M172.9 467.7H173.5M174.0 467.9H179.3M174.0 468.1H179.3M172.9 468.0H174.0M171.9 467.8H172.9M168.0 467.6H171.9M168.0 468.2H179.3M167.0 467.9H168.0M162.6 467.5H167.0M162.6 468.3H179.3M155.1 467.9H162.6M155.1 468.5H179.3M150.8 468.2H155.1M149.1 467.3H150.8M169.4 468.7H179.3M169.4 468.9H179.3M167.2 468.8H169.4M169.6 469.0H179.3M169.6 469.2H179.3M167.2 469.1H169.6M163.5 468.9H167.2M166.7 469.4H179.3M166.7 469.6H179.3M164.9 469.5H166.7M164.9 469.7H179.3M163.5 469.6H164.9M159.3 469.3H163.5M162.2 469.9H179.3M169.1 470.1H179.3M169.1 470.3H179.3M168.5 470.2H169.1M168.5 470.4H179.3M162.9 470.3H168.5M162.9 470.5H179.3M162.2 470.4H162.9M159.3 470.2H162.2M149.1 469.7H159.3M138.2 468.5H149.1M118.9 465.9H138.2M95.0 460.6H118.9M149.8 470.6H179.3M156.6 470.7H179.3M156.6 470.8H179.3M153.7 470.8H156.6M153.7 470.9H179.3M151.8 470.8H153.7M151.8 471.1H179.3M149.8 471.0H151.8M144.7 470.8H149.8M154.9 471.2H179.3M158.4 471.4H179.3M158.4 471.5H179.3M154.9 471.4H158.4M144.7 471.3H154.9M139.2 471.0H144.7M142.4 471.6H179.3M144.6 471.7H179.3M154.7 471.9H179.3M154.7 472.0H179.3M144.6 472.0H154.7M142.4 471.8H144.6M139.2 471.7H142.4M122.2 471.4H139.2M161.0 472.2H179.3M161.0 472.4H179.3M159.8 472.3H161.0M168.2 472.6H179.3M171.4 472.6H179.3M171.4 472.8H179.3M168.2 472.7H171.4M166.7 472.6H168.2M167.7 473.0H179.3M167.7 473.1H179.3M166.7 473.0H167.7M164.2 472.8H166.7M164.2 473.2H179.3M159.8 473.0H164.2M152.2 472.7H159.8M156.9 473.3H179.3M164.2 473.4H179.3M164.2 473.5H179.3M156.9 473.5H164.2M152.2 473.4H156.9M142.1 473.0H152.2M160.4 473.7H179.3M160.4 473.8H179.3M151.0 473.8H160.4M155.9 474.0H179.3M155.9 474.3H179.3M151.0 474.1H155.9M142.1 473.9H151.0M137.6 473.5H142.1M154.4 474.5H179.3M164.2 474.6H179.3M164.2 474.8H179.3M156.9 474.7H164.2M156.9 474.8H179.3M154.4 474.8H156.9M148.8 474.6H154.4M158.1 474.8H179.3M162.4 474.9H179.3M162.4 475.1H179.3M158.1 475.0H162.4M153.2 474.9H158.1M159.4 475.2H179.3M159.4 475.4H179.3M153.2 475.3H159.4M148.8 475.1H153.2M137.6 474.8H148.8M122.2 474.2H137.6M105.3 472.8H122.2M148.4 475.5H179.3M148.4 475.6H179.3M137.0 475.6H148.4M137.0 475.7H179.3M121.6 475.6H137.0M121.6 475.9H179.3M105.3 475.8H121.6M95.0 474.3H105.3M85.5 467.4H95.0M66.3 455.7H85.5M57.8 439.6H66.3M53.2 407.9H57.8M35.3 339.8H53.2M154.4 476.1H179.3M154.4 476.3H179.3M147.5 476.2H154.4M162.2 476.4H179.3M162.2 476.6H179.3M159.9 476.5H162.2M159.9 476.7H179.3M157.6 476.6H159.9M157.6 476.9H179.3M147.5 476.7H157.6M139.1 476.5H147.5M152.1 477.0H179.3M152.1 477.2H179.3M149.0 477.1H152.1M154.7 477.3H179.3M154.7 477.5H179.3M149.0 477.4H154.7M141.6 477.3H149.0M153.5 477.7H179.3M156.9 477.9H179.3M167.0 478.1H179.3M167.0 478.2H179.3M163.0 478.2H167.0M163.0 478.4H179.3M156.9 478.3H163.0M153.5 478.1H156.9M143.3 477.9H153.5M158.0 478.5H179.3M158.0 478.6H179.3M155.6 478.5H158.0M162.8 478.8H179.3M162.8 478.9H179.3M155.6 478.8H162.8M143.3 478.7H155.6M141.6 478.3H143.3M139.1 477.8H141.6M125.3 477.1H139.1M147.4 479.1H179.3M147.4 479.3H179.3M141.7 479.2H147.4M154.4 479.5H179.3M154.4 479.6H179.3M141.7 479.6H154.4M133.3 479.4H141.7M139.2 479.7H179.3M143.9 479.8H179.3M152.3 479.9H179.3M152.3 480.1H179.3M143.9 480.0H152.3M139.2 479.9H143.9M133.3 479.8H139.2M125.3 479.6H133.3M116.9 478.4H125.3M159.2 480.3H179.3M159.2 480.5H179.3M150.0 480.4H159.2M171.2 480.6H179.3M171.2 480.8H179.3M168.8 480.7H171.2M171.3 481.0H179.3M171.3 481.1H179.3M168.8 481.0H171.3M165.0 480.9H168.8M165.0 481.3H179.3M164.4 481.1H165.0M169.2 481.4H179.3M169.2 481.6H179.3M164.4 481.5H169.2M161.0 481.3H164.4M163.3 481.7H179.3M163.3 481.9H179.3M161.0 481.8H163.3M160.0 481.5H161.0M169.4 482.0H179.3M169.4 482.1H179.3M165.6 482.0H169.4M165.6 482.2H179.3M163.1 482.1H165.6M167.2 482.3H179.3M169.9 482.4H179.3M169.9 482.6H179.3M167.2 482.5H169.9M163.1 482.4H167.2M160.0 482.3H163.1M150.0 481.9H160.0M134.5 481.1H150.0M143.9 482.8H179.3M156.1 483.0H179.3M156.1 483.1H179.3M152.0 483.0H156.1M152.0 483.1H179.3M148.8 483.1H152.0M151.6 483.2H179.3M151.6 483.3H179.3M148.8 483.3H151.6M143.9 483.2H148.8M134.5 483.0H143.9M129.9 482.1H134.5M159.9 483.5H179.3M168.8 483.6H179.3M168.8 483.8H179.3M165.0 483.7H168.8M165.0 483.9H179.3M159.9 483.8H165.0M152.5 483.7H159.9M157.1 484.1H179.3M157.1 484.3H179.3M152.5 484.2H157.1M144.1 483.9H152.5M154.9 484.5H179.3M154.9 484.6H179.3M150.8 484.6H154.9M153.6 484.7H179.3M159.8 484.9H179.3M159.8 485.1H179.3M153.6 485.0H159.8M150.8 484.8H153.6M144.1 484.7H150.8M131.9 484.3H144.1M142.6 485.2H179.3M149.9 485.4H179.3M153.9 485.5H179.3M153.9 485.7H179.3M149.9 485.6H153.9M142.6 485.5H149.9M139.0 485.4H142.6M147.2 485.9H179.3M152.7 486.1H179.3M152.7 486.2H179.3M147.2 486.1H152.7M139.0 486.0H147.2M131.9 485.7H139.0M129.9 485.0H131.9M116.9 483.5H129.9M94.3 480.9H116.9M130.2 486.3H179.3M130.2 486.5H179.3M118.3 486.4H130.2M132.8 486.6H179.3M138.2 486.7H179.3M138.2 486.9H179.3M132.8 486.8H138.2M118.3 486.7H132.8M94.3 486.6H118.3M46.7 483.7H94.3M148.6 487.1H179.3M148.6 487.3H179.3M137.2 487.2H148.6M137.2 487.4H179.3M129.3 487.3H137.2M135.9 487.6H179.3M156.8 487.8H179.3M156.8 487.9H179.3M145.2 487.9H156.8M145.2 488.0H179.3M135.9 487.9H145.2M129.3 487.8H135.9M115.6 487.5H129.3M139.9 488.2H179.3M139.9 488.3H179.3M122.2 488.2H139.9M136.8 488.4H179.3M142.8 488.5H179.3M142.8 488.7H179.3M136.8 488.6H142.8M122.2 488.5H136.8M115.6 488.4H122.2M112.0 488.0H115.6M145.5 488.8H179.3M145.5 489.0H179.3M140.2 488.9H145.5M140.2 489.2H179.3M135.4 489.0H140.2M156.2 489.4H179.3M156.2 489.5H179.3M145.6 489.4H156.2M145.6 489.7H179.3M135.4 489.6H145.6M118.6 489.3H135.4M138.5 489.9H179.3M143.7 490.0H179.3M149.1 490.1H179.3M149.1 490.3H179.3M143.7 490.2H149.1M138.5 490.1H143.7M118.6 490.0H138.5M112.0 489.7H118.6M91.1 488.8H112.0M158.0 490.4H179.3M167.4 490.6H179.3M167.4 490.8H179.3M165.1 490.7H167.4M165.1 490.8H179.3M158.0 490.8H165.1M150.5 490.6H158.0M157.9 491.0H179.3M164.7 491.2H179.3M167.6 491.3H179.3M167.6 491.5H179.3M164.7 491.4H167.6M157.9 491.3H164.7M154.3 491.1H157.9M161.7 491.7H179.3M161.7 491.9H179.3M154.3 491.8H161.7M150.5 491.5H154.3M141.0 491.0H150.5M165.3 492.0H179.3M166.4 492.1H179.3M166.4 492.3H179.3M165.3 492.2H166.4M160.5 492.1H165.3M160.5 492.5H179.3M158.7 492.3H160.5M165.9 492.7H179.3M167.6 492.8H179.3M167.6 492.9H179.3M165.9 492.9H167.6M158.7 492.8H165.9M151.9 492.5H158.7M167.3 493.0H179.3M167.3 493.2H179.3M166.3 493.1H167.3M166.3 493.4H179.3M162.5 493.3H166.3M162.5 493.6H179.3M159.2 493.5H162.5M169.0 493.9H179.3M169.0 494.1H179.3M167.1 494.0H169.0M169.5 494.2H179.3M169.5 494.5H179.3M168.8 494.3H169.5M168.8 494.6H179.3M167.1 494.5H168.8M161.6 494.2H167.1M164.5 494.8H179.3M167.3 495.0H179.3M167.3 495.2H179.3M165.7 495.1H167.3M169.2 495.3H179.3M171.0 495.4H179.3M171.0 495.5H179.3M169.2 495.5H171.0M165.7 495.4H169.2M164.5 495.2H165.7M161.6 495.0H164.5M159.2 494.6H161.6M151.9 494.0H159.2M141.0 493.3H151.9M126.3 492.2H141.0M161.1 495.8H179.3M169.6 496.0H179.3M169.6 496.1H179.3M164.8 496.0H169.6M164.8 496.1H179.3M163.0 496.1H164.8M163.0 496.2H179.3M161.1 496.2H163.0M152.1 496.0H161.1M171.1 496.4H179.3M171.1 496.5H179.3M167.3 496.4H171.1M167.3 496.7H179.3M161.4 496.6H167.3M169.1 496.9H179.3M169.1 497.0H179.3M166.9 496.9H169.1M166.9 497.2H179.3M162.5 497.1H166.9M162.5 497.3H179.3M161.4 497.2H162.5M152.1 496.9H161.4M149.9 496.4H152.1M165.3 497.4H179.3M165.3 497.6H179.3M164.1 497.5H165.3M168.7 497.8H179.3M168.7 498.0H179.3M166.4 497.9H168.7M166.4 498.1H179.3M164.1 498.0H166.4M159.5 497.8H164.1M166.7 498.3H179.3M170.9 498.5H179.3M170.9 498.6H179.3M166.7 498.6H170.9M165.8 498.5H166.7M165.8 498.8H179.3M163.8 498.7H165.8M169.6 499.0H179.3M171.1 499.0H179.3M172.6 499.1H179.3M172.6 499.3H179.3M171.1 499.2H172.6M169.6 499.1H171.1M168.1 499.1H169.6M170.4 499.5H179.3M171.5 499.7H179.3M171.5 499.8H179.3M170.4 499.8H171.5M168.1 499.6H170.4M167.4 499.3H168.1M168.6 499.9H179.3M168.6 500.1H179.3M167.4 500.0H168.6M163.8 499.7H167.4M159.5 499.2H163.8M149.9 498.5H159.5M148.1 497.4H149.9M165.8 500.2H179.3M165.8 500.3H179.3M165.0 500.3H165.8M165.7 500.5H179.3M165.7 500.7H179.3M165.0 500.6H165.7M161.8 500.4H165.0M161.8 500.9H179.3M153.6 500.6H161.8M153.6 501.0H179.3M148.1 500.8H153.6M140.7 499.1H148.1M159.0 501.1H179.3M163.0 501.3H179.3M163.0 501.5H179.3M159.0 501.4H163.0M154.3 501.2H159.0M154.3 501.5H179.3M152.2 501.4H154.3M164.7 501.7H179.3M170.6 501.9H179.3M170.6 502.0H179.3M166.7 501.9H170.6M166.7 502.1H179.3M164.7 502.0H166.7M159.8 501.9H164.7M159.8 502.2H179.3M152.2 502.0H159.8M140.7 501.7H152.2M126.3 500.4H140.7M106.8 496.3H126.3M142.0 502.3H179.3M142.0 502.5H179.3M133.4 502.4H142.0M133.4 502.7H179.3M128.4 502.5H133.4M151.6 502.8H179.3M151.6 503.0H179.3M140.0 502.9H151.6M140.0 503.2H179.3M128.4 503.1H140.0M124.6 502.8H128.4M124.6 503.4H179.3M112.8 503.1H124.6M160.2 503.5H179.3M160.2 503.6H179.3M153.5 503.6H160.2M153.5 503.8H179.3M152.0 503.7H153.5M163.4 504.0H179.3M163.4 504.2H179.3M160.3 504.1H163.4M166.8 504.3H179.3M166.8 504.5H179.3M160.3 504.4H166.8M152.0 504.2H160.3M143.8 504.0H152.0M155.6 504.7H179.3M155.6 504.9H179.3M152.5 504.8H155.6M160.2 505.1H179.3M166.8 505.3H179.3M166.8 505.4H179.3M160.2 505.3H166.8M152.5 505.2H160.2M143.8 505.0H152.5M134.4 504.5H143.8M153.8 505.5H179.3M158.7 505.6H179.3M158.7 505.8H179.3M153.8 505.7H158.7M147.9 505.6H153.8M162.5 505.9H179.3M162.5 506.1H179.3M155.8 506.0H162.5M164.5 506.3H179.3M164.5 506.4H179.3M163.7 506.3H164.5M163.7 506.5H179.3M162.2 506.4H163.7M172.3 506.7H179.3M172.3 506.9H179.3M169.7 506.8H172.3M169.7 507.0H179.3M166.1 506.9H169.7M172.1 507.3H179.3M172.1 507.4H179.3M168.3 507.4H172.1M168.3 507.6H179.3M166.1 507.5H168.3M162.2 507.2H166.1M155.8 506.8H162.2M147.9 506.4H155.8M138.5 506.0H147.9M158.4 507.7H179.3M158.4 507.8H179.3M153.6 507.8H158.4M153.6 508.0H179.3M150.9 507.9H153.6M162.1 508.1H179.3M167.1 508.2H179.3M167.1 508.4H179.3M162.1 508.3H167.1M157.6 508.2H162.1M164.6 508.5H179.3M164.6 508.6H179.3M162.1 508.6H164.6M162.1 508.8H179.3M157.6 508.7H162.1M154.3 508.4H157.6M154.3 508.9H179.3M150.9 508.7H154.3M145.6 508.3H150.9M162.9 509.0H179.3M162.9 509.2H179.3M160.4 509.1H162.9M160.4 509.4H179.3M156.6 509.3H160.4M156.6 509.6H179.3M147.4 509.4H156.6M159.4 509.7H179.3M159.4 509.8H179.3M157.7 509.8H159.4M157.7 509.9H179.3M149.2 509.8H157.7M149.2 510.0H179.3M147.4 509.9H149.2M145.6 509.7H147.4M140.4 509.0H145.6M154.5 510.2H179.3M154.5 510.4H179.3M153.1 510.3H154.5M153.1 510.5H179.3M142.2 510.4H153.1M156.8 510.6H179.3M156.8 510.7H179.3M150.7 510.7H156.8M163.3 510.9H179.3M163.3 511.1H179.3M159.4 511.0H163.3M159.4 511.2H179.3M150.7 511.1H159.4M142.2 510.9H150.7M140.4 510.6H142.2M138.5 509.8H140.4M134.4 507.9H138.5M112.8 506.2H134.4M106.8 504.6H112.8M91.1 500.5H106.8M64.5 494.6H91.1M122.4 511.4H179.3M138.8 511.6H179.3M140.9 511.8H179.3M140.9 512.0H179.3M138.8 511.9H140.9M122.4 511.8H138.8M98.3 511.6H122.4M151.1 512.2H179.3M151.1 512.4H179.3M142.0 512.3H151.1M142.0 512.5H179.3M122.3 512.4H142.0M126.5 512.6H179.3M138.7 512.8H179.3M138.7 513.0H179.3M135.7 512.9H138.7M135.7 513.0H179.3M126.5 513.0H135.7M122.3 512.8H126.5M117.9 512.6H122.3M130.8 513.1H179.3M130.8 513.3H179.3M121.5 513.2H130.8M144.8 513.4H179.3M144.8 513.5H179.3M137.3 513.4H144.8M146.2 513.7H179.3M146.2 513.9H179.3M137.3 513.8H146.2M121.5 513.6H137.3M117.9 513.4H121.5M98.3 513.0H117.9M64.5 512.3H98.3M53.3 503.5H64.5M142.2 514.1H179.3M142.2 514.3H179.3M131.5 514.2H142.2M131.5 514.4H179.3M110.0 514.3H131.5M110.0 514.5H179.3M94.9 514.4H110.0M134.3 514.8H179.3M157.3 515.0H179.3M162.3 515.1H179.3M162.3 515.3H179.3M157.3 515.2H162.3M146.2 515.1H157.3M146.2 515.3H179.3M134.3 515.2H146.2M114.8 515.0H134.3M134.6 515.4H179.3M134.6 515.6H179.3M114.8 515.5H134.6M94.9 515.2H114.8M88.0 514.8H94.9M111.4 515.8H179.3M121.0 516.0H179.3M121.0 516.2H179.3M111.4 516.1H121.0M91.8 516.0H111.4M143.7 516.4H179.3M143.7 516.6H179.3M128.8 516.5H143.7M128.8 516.7H179.3M115.4 516.6H128.8M129.9 516.8H179.3M129.9 516.9H179.3M115.4 516.8H129.9M91.8 516.7H115.4M88.0 516.3H91.8M70.0 515.6H88.0M154.0 517.1H179.3M160.4 517.3H179.3M165.4 517.6H179.3M165.4 517.8H179.3M162.2 517.7H165.4M162.2 517.9H179.3M160.4 517.8H162.2M154.0 517.5H160.4M148.8 517.3H154.0M168.9 518.0H179.3M168.9 518.2H179.3M166.1 518.1H168.9M166.1 518.3H179.3M163.4 518.2H166.1M164.6 518.4H179.3M164.6 518.6H179.3M163.4 518.5H164.6M157.0 518.3H163.4M165.6 518.8H179.3M165.6 519.0H179.3M161.9 518.9H165.6M166.2 519.1H179.3M166.2 519.3H179.3M161.9 519.2H166.2M157.0 519.0H161.9M148.8 518.7H157.0M143.8 518.0H148.8M164.2 519.5H179.3M164.2 519.6H179.3M160.4 519.5H164.2M166.7 519.8H179.3M169.8 519.9H179.3M170.3 520.1H179.3M170.3 520.3H179.3M169.8 520.2H170.3M166.7 520.1H169.8M160.4 519.9H166.7M153.5 519.7H160.4M155.4 520.4H179.3M158.7 520.6H179.3M158.7 520.8H179.3M155.4 520.7H158.7M153.5 520.6H155.4M143.8 520.2H153.5M127.7 519.1H143.8M135.0 521.0H179.3M155.4 521.1H179.3M155.4 521.2H179.3M153.8 521.2H155.4M153.8 521.4H179.3M148.5 521.3H153.8M148.5 521.6H179.3M135.0 521.4H148.5M127.7 521.2H135.0M111.4 520.1H127.7M147.7 521.7H179.3M147.7 521.8H179.3M133.3 521.8H147.7M133.3 522.0H179.3M128.7 521.9H133.3M150.9 522.1H179.3M150.9 522.2H179.3M137.0 522.2H150.9M140.5 522.4H179.3M140.5 522.6H179.3M137.0 522.5H140.5M128.7 522.3H137.0M121.9 522.1H128.7M152.2 522.7H179.3M152.2 522.9H179.3M138.8 522.8H152.2M138.8 523.1H179.3M121.9 523.0H138.8M111.4 522.5H121.9M107.7 521.3H111.4M154.7 523.3H179.3M161.5 523.5H179.3M161.5 523.7H179.3M155.8 523.6H161.5M155.8 523.8H179.3M154.7 523.7H155.8M142.5 523.5H154.7M157.8 523.9H179.3M157.8 524.1H179.3M148.8 524.0H157.8M150.3 524.3H179.3M150.3 524.5H179.3M148.8 524.4H150.3M142.5 524.2H148.8M138.9 523.9H142.5M160.0 524.7H179.3M160.0 524.8H179.3M152.9 524.7H160.0M157.1 524.9H179.3M157.1 525.0H179.3M152.9 524.9H157.1M138.9 524.8H152.9M135.7 524.3H138.9M145.4 525.2H179.3M145.4 525.4H179.3M135.7 525.3H145.4M122.6 524.8H135.7M148.9 525.5H179.3M159.5 525.7H179.3M164.1 525.9H179.3M164.1 526.0H179.3M161.2 525.9H164.1M161.2 526.1H179.3M159.5 526.0H161.2M148.9 525.8H159.5M145.8 525.7H148.9M153.5 526.1H179.3M166.6 526.2H179.3M166.6 526.4H179.3M159.9 526.3H166.6M159.9 526.5H179.3M153.5 526.4H159.9M145.8 526.3H153.5M130.8 526.0H145.8M163.9 526.5H179.3M167.0 526.7H179.3M167.0 526.9H179.3M163.9 526.8H167.0M162.7 526.7H163.9M165.2 527.1H179.3M165.2 527.2H179.3M162.7 527.1H165.2M160.7 526.9H162.7M164.8 527.3H179.3M165.7 527.5H179.3M165.7 527.6H179.3M164.8 527.5H165.7M162.1 527.4H164.8M162.1 527.7H179.3M160.7 527.6H162.1M153.8 527.2H160.7M171.9 527.8H179.3M171.9 527.9H179.3M168.7 527.9H171.9M168.7 528.1H179.3M168.0 528.0H168.7M168.9 528.3H179.3M168.9 528.5H179.3M168.0 528.4H168.9M162.1 528.2H168.0M162.1 528.7H179.3M153.8 528.4H162.1M143.9 527.8H153.8M165.6 528.9H179.3M165.6 529.0H179.3M158.5 528.9H165.6M158.5 529.1H179.3M153.3 529.0H158.5M166.9 529.3H179.3M166.9 529.4H179.3M166.3 529.4H166.9M166.3 529.6H179.3M165.2 529.5H166.3M165.2 529.8H179.3M160.5 529.6H165.2M160.5 530.0H179.3M153.3 529.8H160.5M145.7 529.4H153.3M151.7 530.1H179.3M151.7 530.2H179.3M145.7 530.1H151.7M143.9 529.8H145.7M130.8 528.8H143.9M122.6 527.4H130.8M107.7 526.1H122.6M88.6 523.7H107.7M141.8 530.4H179.3M141.8 530.6H179.3M138.0 530.5H141.8M146.1 530.8H179.3M149.4 530.9H179.3M153.6 531.0H179.3M153.6 531.2H179.3M149.4 531.1H153.6M146.1 531.0H149.4M138.0 530.9H146.1M132.2 530.7H138.0M146.7 531.3H179.3M154.7 531.5H179.3M154.7 531.6H179.3M146.7 531.5H154.7M140.2 531.4H146.7M153.5 531.8H179.3M159.7 532.0H179.3M159.7 532.2H179.3M155.2 532.1H159.7M155.2 532.3H179.3M153.5 532.2H155.2M140.2 532.0H153.5M132.2 531.7H140.2M110.4 531.2H132.2M152.4 532.5H179.3M152.4 532.6H179.3M138.1 532.5H152.4M150.7 532.8H179.3M166.2 533.0H179.3M166.2 533.2H179.3M162.0 533.1H166.2M162.0 533.3H179.3M155.2 533.2H162.0M155.2 533.5H179.3M150.7 533.4H155.2M138.1 533.1H150.7M131.2 532.8H138.1M151.8 533.7H179.3M151.8 533.8H179.3M149.4 533.7H151.8M149.4 534.0H179.3M143.1 533.9H149.4M169.2 534.1H179.3M169.2 534.2H179.3M165.0 534.2H169.2M165.0 534.4H179.3M160.9 534.3H165.0M160.9 534.5H179.3M151.5 534.4H160.9M154.3 534.7H179.3M159.5 534.9H179.3M159.5 535.0H179.3M154.3 534.9H159.5M151.5 534.8H154.3M143.1 534.6H151.5M131.2 534.2H143.1M110.4 533.5H131.2M107.1 532.4H110.4M121.5 535.1H179.3M134.1 535.1H179.3M145.8 535.3H179.3M145.8 535.5H179.3M134.1 535.4H145.8M127.2 535.3H134.1M132.9 535.6H179.3M132.9 535.7H179.3M127.2 535.6H132.9M121.5 535.5H127.2M111.0 535.3H121.5M160.6 535.9H179.3M163.6 536.1H179.3M166.8 536.2H179.3M166.8 536.3H179.3M163.6 536.2H166.8M160.6 536.2H163.6M158.8 536.0H160.6M158.8 536.4H179.3M148.7 536.2H158.8M151.7 536.6H179.3M151.7 536.8H179.3M148.7 536.7H151.7M134.3 536.5H148.7M134.3 537.0H179.3M117.0 536.7H134.3M150.9 537.2H179.3M150.9 537.4H179.3M141.0 537.3H150.9M157.4 537.5H179.3M157.4 537.7H179.3M150.1 537.6H157.4M150.1 537.7H179.3M141.0 537.6H150.1M121.4 537.5H141.0M139.8 537.8H179.3M139.8 537.9H179.3M121.4 537.8H139.8M117.0 537.7H121.4M111.0 537.2H117.0M107.1 536.2H111.0M88.6 534.3H107.1M70.0 529.0H88.6M56.7 522.3H70.0M156.0 538.1H179.3M161.1 538.4H179.3M161.1 538.5H179.3M156.0 538.4H161.1M149.9 538.3H156.0M164.4 538.7H179.3M166.9 538.9H179.3M166.9 539.0H179.3M164.4 538.9H166.9M159.5 538.8H164.4M161.9 539.1H179.3M161.9 539.3H179.3M159.5 539.2H161.9M156.4 539.0H159.5M159.5 539.4H179.3M159.5 539.6H179.3M156.4 539.5H159.5M149.9 539.3H156.4M135.4 538.8H149.9M143.2 539.8H179.3M160.9 540.0H179.3M160.9 540.1H179.3M155.6 540.0H160.9M158.2 540.3H179.3M158.2 540.4H179.3M155.6 540.4H158.2M150.6 540.2H155.6M167.6 540.7H179.3M169.7 540.9H179.3M169.7 541.1H179.3M167.6 541.0H169.7M164.6 540.8H167.6M169.4 541.2H179.3M169.4 541.4H179.3M164.6 541.3H169.4M157.0 541.1H164.6M158.2 541.5H179.3M161.6 541.6H179.3M161.6 541.8H179.3M158.2 541.7H161.6M157.0 541.6H158.2M150.6 541.3H157.0M143.2 540.8H150.6M135.4 540.3H143.2M132.8 539.5H135.4M157.9 542.0H179.3M157.9 542.2H179.3M154.2 542.1H157.9M154.2 542.4H179.3M149.0 542.2H154.2M158.1 542.5H179.3M163.0 542.7H179.3M163.0 542.9H179.3M158.1 542.8H163.0M149.0 542.7H158.1M139.5 542.5H149.0M160.8 543.1H179.3M160.8 543.3H179.3M151.1 543.2H160.8M165.3 543.5H179.3M165.3 543.7H179.3M164.1 543.6H165.3M164.1 543.9H179.3M159.4 543.7H164.1M164.7 544.0H179.3M164.7 544.2H179.3M159.4 544.1H164.7M151.1 543.9H159.4M139.5 543.6H151.1M132.8 543.0H139.5M122.4 541.3H132.8M157.6 544.3H179.3M163.1 544.4H179.3M165.6 544.5H179.3M165.6 544.7H179.3M163.1 544.6H165.6M157.6 544.5H163.1M150.1 544.4H157.6M150.1 544.8H179.3M147.2 544.6H150.1M162.3 544.9H179.3M162.3 545.0H179.3M158.1 545.0H162.3M165.7 545.2H179.3M165.7 545.3H179.3M161.0 545.2H165.7M161.0 545.5H179.3M158.1 545.4H161.0M147.2 545.2H158.1M142.2 544.9H147.2M154.6 545.6H179.3M154.6 545.8H179.3M142.2 545.7H154.6M128.6 545.3H142.2M163.0 546.0H179.3M163.0 546.2H179.3M157.4 546.1H163.0M157.4 546.3H179.3M148.3 546.2H157.4M154.9 546.5H179.3M154.9 546.6H179.3M148.3 546.5H154.9M142.0 546.4H148.3M142.0 546.7H179.3M132.1 546.5H142.0M143.7 546.8H179.3M149.2 547.0H179.3M159.5 547.2H179.3M159.5 547.3H179.3M149.2 547.2H159.5M143.7 547.1H149.2M140.1 547.0H143.7M148.6 547.4H179.3M148.6 547.6H179.3M140.1 547.5H148.6M132.1 547.2H140.1M128.6 546.9H132.1M122.4 546.1H128.6M101.2 543.7H122.4M165.5 547.7H179.3M165.5 547.8H179.3M161.4 547.8H165.5M161.4 548.0H179.3M156.7 547.9H161.4M158.9 548.2H179.3M158.9 548.4H179.3M156.7 548.3H158.9M154.8 548.1H156.7M154.8 548.6H179.3M145.0 548.3H154.8M147.7 548.8H179.3M147.7 549.0H179.3M145.0 548.9H147.7M141.7 548.6H145.0M156.6 549.2H179.3M163.0 549.4H179.3M168.3 549.5H179.3M171.7 549.7H179.3M171.7 549.8H179.3M168.3 549.7H171.7M163.0 549.6H168.3M156.6 549.5H163.0M152.7 549.4H156.6M161.1 550.0H179.3M161.1 550.2H179.3M152.7 550.1H161.1M141.7 549.7H152.7M128.6 549.2H141.7M159.3 550.3H179.3M164.4 550.4H179.3M164.4 550.5H179.3M159.3 550.5H164.4M155.8 550.4H159.3M155.8 550.8H179.3M153.2 550.6H155.8M154.4 551.0H179.3M164.4 551.2H179.3M164.4 551.4H179.3M160.8 551.3H164.4M162.8 551.6H179.3M162.8 551.8H179.3M160.8 551.7H162.8M156.3 551.5H160.8M156.3 552.0H179.3M154.4 551.8H156.3M153.2 551.4H154.4M150.6 551.0H153.2M164.1 552.1H179.3M167.8 552.2H179.3M167.8 552.4H179.3M164.1 552.3H167.8M157.6 552.2H164.1M165.0 552.6H179.3M168.4 552.7H179.3M168.4 552.9H179.3M165.0 552.8H168.4M157.6 552.7H165.0M150.6 552.5H157.6M141.4 551.7H150.6M152.8 553.0H179.3M161.5 553.1H179.3M161.5 553.2H179.3M152.8 553.2H161.5M145.5 553.1H152.8M151.7 553.4H179.3M151.7 553.6H179.3M145.5 553.5H151.7M143.8 553.3H145.5M151.1 553.7H179.3M166.3 553.8H179.3M166.3 554.0H179.3M161.9 553.9H166.3M166.8 554.1H179.3M166.8 554.3H179.3M161.9 554.2H166.8M159.8 554.1H161.9M168.4 554.4H179.3M168.4 554.6H179.3M163.2 554.5H168.4M163.2 554.7H179.3M159.8 554.6H163.2M151.1 554.3H159.8M143.8 554.0H151.1M141.4 553.7H143.8M128.6 552.7H141.4M125.6 550.9H128.6M154.5 554.8H179.3M166.8 555.0H179.3M166.8 555.2H179.3M161.9 555.1H166.8M164.8 555.2H179.3M168.3 555.2H179.3M168.3 555.4H179.3M164.8 555.3H168.3M161.9 555.3H164.8M154.5 555.2H161.9M146.5 555.0H154.5M162.3 555.6H179.3M163.9 555.8H179.3M163.9 556.0H179.3M162.3 555.9H163.9M156.6 555.8H162.3M156.6 556.1H179.3M153.3 555.9H156.6M158.1 556.2H179.3M158.1 556.4H179.3M153.3 556.3H158.1M146.5 556.1H153.3M143.0 555.6H146.5M147.2 556.5H179.3M147.2 556.7H179.3M143.0 556.6H147.2M125.6 556.1H143.0M112.8 553.5H125.6M150.6 556.8H179.3M160.7 557.0H179.3M160.7 557.2H179.3M154.3 557.1H160.7M170.0 557.4H179.3M170.0 557.6H179.3M168.4 557.5H170.0M168.4 557.7H179.3M167.1 557.6H168.4M167.1 557.7H179.3M163.0 557.7H167.1M163.0 557.8H179.3M154.3 557.7H163.0M150.6 557.4H154.3M135.3 557.1H150.6M166.2 557.9H179.3M166.2 558.1H179.3M159.9 558.0H166.2M166.9 558.2H179.3M166.9 558.4H179.3M161.6 558.3H166.9M161.6 558.6H179.3M159.9 558.4H161.6M157.3 558.2H159.9M162.6 558.8H179.3M162.6 559.0H179.3M159.5 558.9H162.6M163.0 559.2H179.3M163.0 559.4H179.3M159.5 559.3H163.0M157.3 559.1H159.5M149.7 558.7H157.3M155.6 559.5H179.3M156.6 559.7H179.3M165.5 559.8H179.3M165.5 560.0H179.3M159.2 559.9H165.5M159.2 560.1H179.3M156.6 560.0H159.2M155.6 559.8H156.6M149.7 559.7H155.6M135.3 559.2H149.7M116.9 558.1H135.3M151.8 560.3H179.3M159.6 560.5H179.3M159.6 560.7H179.3M151.8 560.6H159.6M150.0 560.4H151.8M150.0 560.9H179.3M144.9 560.7H150.0M155.6 561.1H179.3M155.6 561.3H179.3M144.9 561.2H155.6M138.4 560.9H144.9M163.4 561.4H179.3M163.4 561.5H179.3M158.6 561.4H163.4M158.6 561.7H179.3M151.9 561.6H158.6M160.6 561.8H179.3M165.8 562.0H179.3M165.8 562.1H179.3M160.6 562.0H165.8M151.9 561.9H160.6M143.0 561.7H151.9M147.6 562.3H179.3M147.6 562.5H179.3M146.1 562.4H147.6M158.7 562.6H179.3M158.7 562.8H179.3M157.3 562.7H158.7M157.3 562.9H179.3M146.1 562.8H157.3M143.0 562.6H146.1M138.4 562.2H143.0M116.9 561.5H138.4M112.8 559.8H116.9M101.2 556.7H112.8M74.0 550.2H101.2M125.4 563.0H179.3M139.2 563.2H179.3M144.5 563.4H179.3M144.5 563.6H179.3M139.2 563.5H144.5M125.4 563.4H139.2M122.2 563.2H125.4M122.2 563.7H179.3M107.5 563.4H122.2M121.2 563.8H179.3M121.2 563.9H179.3M115.2 563.8H121.2M118.4 564.1H179.3M123.0 564.3H179.3M123.0 564.4H179.3M118.4 564.4H123.0M115.2 564.2H118.4M107.5 564.0H115.2M94.8 563.7H107.5M140.5 564.6H179.3M140.5 564.8H179.3M127.5 564.7H140.5M127.5 564.9H179.3M105.9 564.8H127.5M141.8 565.1H179.3M141.8 565.2H179.3M129.7 565.1H141.8M129.7 565.3H179.3M110.7 565.2H129.7M110.7 565.3H179.3M105.9 565.3H110.7M98.5 565.0H105.9M98.5 565.5H179.3M94.8 565.3H98.5M74.0 564.5H94.8M56.7 557.3H74.0M53.3 539.8H56.7M46.7 521.6H53.3M35.3 502.7H46.7M167.5 260.7V260.9M166.4 260.8V261.0M161.5 260.9V261.0M159.3 260.6V261.0M160.5 261.2V261.4M157.7 261.3V261.6M171.0 262.0V262.2M168.6 261.8V262.1M167.6 261.7V262.0M167.7 262.3V262.5M165.8 261.8V262.4M161.1 262.1V262.5M155.1 261.4V262.3M154.1 260.8V261.9M164.4 262.7V262.8M163.7 262.7V263.0M162.9 262.9V263.1M168.0 263.5V263.6M163.7 263.3V263.5M162.0 263.1V263.4M157.2 263.0V263.3M152.0 261.3V263.1M170.1 263.9V264.0M167.4 263.7V263.9M169.8 264.3V264.4M168.9 264.1V264.4M172.5 264.7V264.9M170.6 264.6V264.8M168.3 264.7V265.0M167.2 264.2V264.8M161.4 263.8V264.5M161.1 265.1V265.3M159.5 265.2V265.4M158.5 265.3V265.5M154.2 264.2V265.4M166.0 265.7V265.9M160.2 265.8V266.0M157.3 265.9V266.1M167.2 266.3V266.4M163.5 266.4V266.6M160.5 266.2V266.5M169.3 266.8V266.9M165.4 266.9V267.1M159.2 267.0V267.2M157.7 266.3V267.1M152.6 266.0V266.7M144.4 264.8V266.3M138.4 262.2V265.6M165.3 267.4V267.6M162.1 267.5V267.8M171.4 268.0V268.2M173.4 268.4V268.5M174.3 268.6V268.8M171.9 268.5V268.7M168.0 268.1V268.6M171.1 269.1V269.3M167.9 268.9V269.2M163.8 268.4V269.1M157.6 267.6V268.7M150.7 268.2V269.5M157.2 269.8V270.0M155.0 269.7V269.9M150.9 270.2V270.3M147.5 269.8V270.2M140.9 268.8V270.0M140.1 270.5V270.6M163.2 271.1V271.2M160.2 271.2V271.3M156.4 270.9V271.2M155.5 271.1V271.4M150.8 271.5V271.7M148.6 271.2V271.6M141.7 270.8V271.4M137.7 270.5V271.1M135.4 269.4V270.8M118.7 263.9V270.1M165.1 271.9V272.1M158.5 272.0V272.3M163.6 272.5V272.6M159.0 272.5V272.7M155.2 272.6V272.7M152.3 272.1V272.7M151.1 272.4V272.8M160.0 273.1V273.3M149.9 273.0V273.2M142.8 272.6V273.1M160.2 273.5V273.6M157.4 273.6V273.8M148.2 273.7V274.0M157.5 274.3V274.4M145.9 274.1V274.4M141.5 273.8V274.2M132.8 272.9V274.0M154.7 274.6V274.8M156.5 274.9V275.1M155.3 275.0V275.3M151.0 274.7V275.1M157.2 275.4V275.6M146.7 274.9V275.5M152.2 275.7V275.9M145.9 275.8V276.0M148.2 276.4V276.5M143.5 276.2V276.5M136.6 275.9V276.3M134.6 275.2V276.1M124.3 273.5V275.7M158.6 276.9V277.1M156.1 276.8V277.0M149.4 276.7V276.9M160.9 277.2V277.4M151.3 277.3V277.5M142.2 276.8V277.4M150.2 277.8V277.9M141.1 277.6V277.9M138.8 277.1V277.7M148.3 278.3V278.5M146.4 278.2V278.4M143.8 278.1V278.3M156.2 278.7V278.8M166.0 279.1V279.2M161.4 278.9V279.2M152.5 278.8V279.0M140.3 278.2V278.9M136.6 278.6V279.4M132.8 277.4V279.0M113.0 274.6V278.2M94.3 267.0V276.4M165.9 279.7V279.8M162.7 279.8V279.9M158.0 279.5V279.8M154.7 280.0V280.1M165.4 280.4V280.6M161.2 280.3V280.5M155.3 280.4V280.7M152.4 280.1V280.6M151.0 279.7V280.3M164.7 280.8V281.0M162.9 281.2V281.4M158.3 280.9V281.3M151.7 281.1V281.6M150.3 281.7V281.9M164.2 282.0V282.3M162.9 282.5V282.7M161.2 282.4V282.6M157.2 282.1V282.5M148.7 281.8V282.3M146.4 281.3V282.1M140.9 280.0V281.7M171.2 283.0V283.2M168.7 283.3V283.5M167.1 283.1V283.4M163.0 283.3V283.6M155.1 282.9V283.4M170.6 284.1V284.2M167.5 284.1V284.4M164.8 283.9V284.3M166.4 284.7V284.9M165.6 284.6V284.8M167.6 285.1V285.3M166.8 285.1V285.2M163.6 285.1V285.4M162.7 284.7V285.3M157.3 284.1V285.0M154.5 283.7V284.5M152.0 283.2V284.1M167.5 285.9V286.1M164.5 285.8V286.0M162.9 285.9V286.2M167.4 286.3V286.4M172.1 286.5V286.7M169.5 286.6V286.9M166.8 286.3V286.7M166.1 287.0V287.2M163.2 286.5V287.1M161.9 286.0V286.8M159.6 285.6V286.4M166.5 287.3V287.5M166.3 287.7V287.9M165.4 287.4V287.8M167.6 288.1V288.2M172.0 288.5V288.6M170.0 288.5V288.8M165.7 288.1V288.6M176.4 289.1V289.2M174.9 289.1V289.3M174.6 289.0V289.2M173.3 289.1V289.4M173.6 289.6V289.7M172.4 289.3V289.6M171.7 288.9V289.5M170.6 289.9V290.0M170.2 289.2V290.0M171.2 290.2V290.4M174.1 290.7V290.8M173.3 290.6V290.8M170.3 290.3V290.7M167.1 289.6V290.5M163.2 288.4V290.0M175.3 290.9V291.1M174.3 291.2V291.4M173.5 291.0V291.3M173.2 291.1V291.4M172.0 291.3V291.5M171.3 291.7V291.8M169.9 291.4V291.8M170.9 292.0V292.2M167.3 292.1V292.3M165.2 291.6V292.2M162.2 289.2V291.9M160.0 287.6V290.6M158.4 286.0V289.1M148.1 283.6V287.5M133.9 280.8V285.6M155.4 292.6V292.7M147.3 292.4V292.7M159.0 292.9V293.0M153.9 292.8V292.9M143.7 292.5V292.9M171.9 293.3V293.5M170.0 293.4V293.7M169.1 293.8V294.0M168.3 293.5V293.9M172.2 294.4V294.5M168.7 294.2V294.5M164.7 293.7V294.3M158.7 294.0V294.6M168.5 294.8V294.9M167.2 294.8V295.0M164.0 295.2V295.4M162.0 294.9V295.3M159.6 295.6V295.7M164.5 295.9V296.1M157.5 295.7V296.0M153.3 295.1V295.8M151.5 294.3V295.5M147.1 293.2V294.9M141.0 292.7V294.0M157.1 296.3V296.5M150.3 296.2V296.4M146.9 296.3V296.6M147.7 296.9V297.1M145.7 296.8V297.0M135.4 296.5V296.9M131.9 293.4V296.7M122.5 283.2V295.0M157.6 297.2V297.4M173.6 297.6V297.8M173.2 298.1V298.2M172.7 298.2V298.4M172.2 297.9V298.3M171.7 297.7V298.1M169.3 297.9V298.6M168.6 298.8V299.0M164.2 298.3V298.9M173.8 299.4V299.5M172.6 299.2V299.5M172.1 299.1V299.3M170.8 299.7V299.8M169.2 299.7V300.0M168.5 299.2V299.8M163.2 298.6V299.5M170.7 300.1V300.3M171.3 300.7V300.9M168.4 300.5V300.8M167.5 300.2V300.6M169.8 301.0V301.2M171.4 301.4V301.5M168.8 301.3V301.4M168.2 301.1V301.4M167.9 301.7V301.9M164.8 301.8V301.9M163.8 301.2V301.8M161.4 300.4V301.5M158.1 299.0V301.0M155.9 297.3V300.0M156.6 302.1V302.3M153.8 302.0V302.2M163.0 302.7V302.9M154.7 302.5V302.8M149.0 302.1V302.6M167.0 303.5V303.7M161.4 303.3V303.6M160.5 303.1V303.5M158.5 303.8V304.0M154.6 303.3V303.9M162.4 304.2V304.3M158.9 304.2V304.4M149.4 303.6V304.3M147.6 302.4V303.9M157.1 304.7V304.9M155.3 304.8V305.0M149.8 304.5V304.9M146.2 303.2V304.7M143.8 298.7V303.9M169.9 305.5V305.6M172.1 305.8V305.9M171.6 305.8V306.0M173.0 306.2V306.4M173.0 306.6V306.8M171.2 306.3V306.7M169.7 305.9V306.5M167.9 305.6V306.2M162.3 305.9V307.0M173.3 307.2V307.3M170.9 307.3V307.5M169.2 307.4V307.8M167.0 307.9V308.1M171.5 308.4V308.6M169.6 308.2V308.5M166.4 308.0V308.4M165.7 307.6V308.2M160.8 306.5V307.9M153.0 305.2V307.2M156.1 308.9V309.1M153.7 308.7V309.0M140.9 306.2V308.9M138.3 301.3V307.5M170.2 309.6V309.7M166.7 309.4V309.6M160.2 309.3V309.5M158.8 309.2V309.4M167.0 310.0V310.2M163.2 309.9V310.1M156.4 309.3V310.0M167.7 310.5V310.8M173.7 311.0V311.1M173.3 311.0V311.2M172.0 311.3V311.4M171.5 311.1V311.3M173.3 311.5V311.7M172.9 311.6V311.8M170.9 311.2V311.7M167.1 310.6V311.5M162.5 310.3V311.1M162.2 312.0V312.1M160.8 310.7V312.0M152.4 309.7V311.4M167.1 312.3V312.5M164.9 312.2V312.4M166.8 312.7V312.8M164.1 312.7V312.9M167.3 313.1V313.2M171.3 313.3V313.4M167.9 313.4V313.6M164.2 313.1V313.5M162.7 312.8V313.3M157.7 312.3V313.1M172.1 313.7V313.8M168.9 313.8V314.1M167.2 313.9V314.3M170.4 314.4V314.6M167.3 314.5V314.8M161.0 314.1V314.7M158.5 314.4V315.1M155.6 312.7V314.7M169.9 315.5V315.8M167.5 315.7V316.0M161.7 315.4V315.8M160.6 315.6V316.2M153.9 315.2V315.9M149.7 313.7V315.6M145.2 310.5V314.6M167.0 316.3V316.5M163.8 316.4V316.6M165.5 316.7V316.8M166.3 317.0V317.1M163.9 316.8V317.1M159.7 316.5V316.9M168.7 317.3V317.5M165.8 317.4V317.6M162.7 317.5V317.7M169.7 318.0V318.1M166.1 317.8V318.0M161.2 317.6V317.9M158.2 316.7V317.8M155.5 318.3V318.5M164.4 318.6V318.8M168.1 319.0V319.1M166.2 319.0V319.2M161.6 318.8V319.1M159.2 318.7V319.0M153.1 318.4V318.8M161.0 319.4V319.6M159.4 319.5V319.7M164.3 319.9V320.0M156.5 319.6V319.9M151.1 318.6V319.8M147.9 317.2V319.2M171.3 320.1V320.3M169.4 320.2V320.5M166.1 320.4V320.7M161.8 320.5V320.8M172.6 321.0V321.2M169.1 321.0V321.1M170.5 321.3V321.5M166.7 321.0V321.4M166.3 321.7V321.9M165.7 321.6V321.8M161.4 321.2V321.7M170.2 322.2V322.4M167.5 322.1V322.3M172.5 322.7V322.9M172.2 322.6V322.8M169.1 322.5V322.7M165.7 322.2V322.6M160.6 321.5V322.4M153.1 320.7V321.9M143.2 318.2V321.3M138.7 312.6V319.8M129.8 304.4V316.2M107.4 289.1V310.3M167.8 323.3V323.4M165.7 323.2V323.4M164.8 323.1V323.3M169.4 323.7V323.8M164.4 323.6V323.8M164.2 324.0V324.2M169.5 324.4V324.5M166.2 324.4V324.6M161.2 324.1V324.5M159.0 323.7V324.3M158.2 323.2V324.0M169.5 324.9V325.0M167.9 324.7V324.9M163.8 324.8V325.2M171.3 325.3V325.5M169.0 325.3V325.4M166.4 325.6V325.8M164.5 325.3V325.7M158.8 325.0V325.5M149.0 323.6V325.3M162.1 326.2V326.4M157.1 326.1V326.3M168.3 326.6V326.8M170.9 327.0V327.1M168.2 326.9V327.1M167.5 327.0V327.3M166.0 326.7V327.1M162.0 326.9V327.4M155.0 326.2V327.2M164.9 327.5V327.6M164.8 327.8V328.0M167.4 328.1V328.2M163.7 327.9V328.1M158.5 327.6V328.0M151.0 326.7V327.8M143.5 326.0V327.2M136.0 324.4V326.6M161.8 328.8V328.9M153.0 328.6V328.9M149.1 328.7V329.1M159.1 329.2V329.4M157.0 329.6V329.7M153.9 329.5V329.6M152.3 329.3V329.5M164.4 329.8V330.0M159.9 329.9V330.1M154.6 330.0V330.3M150.3 329.4V330.2M146.9 328.9V329.8M136.1 328.4V329.4M163.1 330.5V330.7M164.9 330.9V331.1M169.6 331.2V331.3M166.6 331.2V331.5M163.5 331.0V331.3M168.0 331.6V331.8M167.2 331.9V332.0M166.1 332.0V332.1M163.6 331.7V332.0M167.7 332.3V332.5M165.4 332.2V332.4M162.3 331.9V332.3M158.4 331.2V332.1M156.9 330.6V331.6M159.7 332.7V332.9M166.6 333.1V333.2M164.6 333.1V333.4M165.9 333.7V333.8M162.6 333.5V333.7M161.0 333.3V333.6M158.6 332.8V333.4M171.5 334.2V334.4M168.7 334.3V334.4M168.0 334.0V334.4M162.0 333.9V334.2M173.9 334.8V334.9M172.0 334.9V335.1M170.9 334.7V335.0M167.9 334.6V334.8M166.2 334.5V334.7M161.1 334.1V334.6M153.9 334.3V335.2M152.4 333.1V334.8M148.8 331.1V333.9M167.1 335.3V335.5M163.5 335.4V335.6M159.8 335.5V335.7M157.2 335.2V335.6M164.1 335.9V336.1M165.0 336.3V336.5M163.4 336.0V336.4M162.7 335.8V336.2M165.6 336.9V337.0M159.0 336.7V336.9M156.0 336.0V336.8M152.3 335.4V336.4M164.5 337.2V337.4M166.8 337.6V337.7M163.5 337.3V337.6M165.6 337.9V338.1M164.2 338.2V338.4M159.7 338.0V338.3M156.4 337.5V338.1M148.4 335.9V337.8M140.0 332.5V336.9M163.4 338.6V338.8M155.6 338.5V338.7M157.0 339.1V339.3M155.5 339.2V339.4M153.1 339.0V339.3M149.1 338.6V339.1M152.8 339.6V339.9M148.9 339.5V339.8M139.6 338.9V339.6M133.9 334.7V339.2M129.9 328.9V337.0M118.6 325.5V332.9M153.3 340.1V340.2M160.7 340.4V340.6M155.1 340.5V340.8M146.9 340.1V340.6M147.2 341.0V341.1M143.2 341.0V341.3M130.5 340.4V341.2M133.7 341.5V341.7M152.3 341.9V342.0M150.4 342.0V342.1M145.7 342.1V342.3M138.4 342.2V342.4M122.8 341.6V342.3M119.2 340.8V342.0M162.4 342.5V342.6M158.0 342.8V343.0M154.4 342.6V342.9M152.6 343.2V343.4M143.9 342.7V343.3M150.9 343.5V343.7M146.0 343.8V344.0M144.1 343.6V343.9M131.6 343.0V343.8M163.6 344.6V344.8M159.3 344.7V344.9M151.1 344.4V344.8M137.3 344.2V344.6M127.2 343.4V344.4M113.6 341.4V343.9M104.6 329.2V342.6M88.0 299.7V335.9M141.4 345.1V345.4M148.9 345.7V345.9M142.4 345.6V345.8M160.7 346.1V346.2M154.1 346.2V346.3M154.1 346.4V346.6M153.0 346.2V346.5M151.5 346.4V346.7M139.0 345.7V346.5M135.7 345.2V346.1M150.4 347.1V347.3M135.0 346.9V347.2M114.0 345.7V347.0M151.5 347.5V347.6M151.5 347.7V347.9M144.5 347.6V347.8M150.9 348.1V348.3M156.0 348.4V348.6M149.5 348.5V348.7M147.6 348.2V348.6M161.4 348.7V348.9M156.7 349.0V349.2M153.8 348.8V349.1M148.7 349.4V349.6M145.5 349.0V349.5M143.5 348.4V349.2M170.6 349.7V349.9M166.9 349.8V350.0M169.0 350.2V350.3M167.3 350.1V350.3M161.6 350.2V350.6M160.4 349.9V350.4M161.1 350.8V350.9M163.2 351.0V351.2M158.5 350.9V351.1M155.9 350.1V351.0M157.6 351.6V351.7M155.1 351.4V351.6M153.9 350.6V351.5M141.9 348.8V351.0M140.0 347.7V349.9M153.1 351.9V352.0M162.9 352.1V352.3M163.2 352.4V352.6M162.2 352.5V352.8M160.5 352.2V352.6M151.0 352.0V352.4M156.7 353.1V353.2M153.3 352.9V353.1M145.1 352.2V353.0M134.9 348.8V352.6M149.8 353.4V353.6M149.6 353.7V353.8M135.1 353.5V353.8M124.6 350.7V353.6M163.1 354.1V354.3M155.4 354.2V354.4M151.1 354.3V354.6M171.3 354.8V354.9M172.2 355.2V355.4M171.0 355.0V355.3M168.0 354.8V355.1M164.6 355.0V355.5M168.5 355.7V355.9M165.5 355.6V355.8M167.2 356.0V356.2M163.5 355.7V356.1M159.9 355.2V355.9M149.7 354.4V355.6M139.6 354.0V355.0M162.3 356.2V356.4M157.5 356.3V356.6M163.8 356.9V357.1M157.3 356.7V357.0M149.3 356.4V356.9M158.0 357.3V357.5M161.9 357.6V357.8M154.9 357.4V357.7M152.0 357.5V357.9M146.8 356.7V357.7M166.8 358.3V358.4M163.0 358.4V358.6M158.2 358.5V358.8M152.6 358.1V358.7M168.5 359.1V359.3M168.0 359.2V359.4M164.2 359.3V359.5M161.7 359.4V359.6M163.3 359.8V360.0M156.1 359.5V359.9M153.7 359.0V359.7M145.1 358.4V359.4M140.8 357.2V358.9M131.6 354.5V358.0M112.6 352.2V356.3M107.9 346.3V354.2M169.6 360.1V360.2M165.1 360.1V360.3M160.3 360.2V360.5M158.2 360.3V360.6M163.5 360.7V360.8M162.5 360.7V360.9M166.6 361.1V361.3M163.1 361.0V361.2M161.0 360.8V361.1M155.5 360.5V361.0M149.8 360.7V361.4M154.1 361.6V361.8M147.0 361.1V361.7M173.3 362.2V362.4M171.0 362.1V362.3M168.1 362.2V362.5M162.8 362.0V362.4M173.2 362.7V362.9M171.9 363.1V363.3M171.1 362.8V363.2M174.4 363.5V363.7M173.5 363.6V363.8M175.1 363.8V364.0M175.1 364.2V364.3M174.6 363.9V364.2M173.1 363.7V364.1M173.4 364.6V364.7M171.9 364.4V364.6M176.7 364.8V365.0M176.2 364.9V365.1M176.7 365.4V365.5M176.1 365.2V365.5M175.4 365.0V365.3M174.6 365.2V365.7M174.8 365.8V366.0M172.5 365.9V366.2M172.2 365.4V366.0M171.3 364.5V365.7M170.1 363.9V365.1M168.1 363.0V364.5M162.3 363.8V366.3M168.9 366.5V366.6M166.1 366.5V366.7M163.2 366.6V366.8M158.5 365.0V366.7M155.5 362.2V365.9M169.9 367.0V367.2M169.1 366.9V367.1M172.3 367.6V367.8M169.3 367.4V367.7M168.3 367.0V367.5M172.8 368.0V368.1M173.6 368.3V368.5M172.0 368.2V368.4M169.8 368.1V368.3M171.9 368.7V368.8M170.9 368.7V369.0M173.9 369.2V369.4M172.3 369.3V369.6M170.1 369.1V369.4M169.1 368.9V369.3M167.8 368.2V369.1M163.6 367.3V368.6M171.9 369.7V369.9M170.0 370.1V370.3M168.8 369.8V370.2M170.6 370.4V370.5M170.3 370.7V370.9M168.0 370.5V370.8M166.3 370.0V370.6M162.8 367.9V370.3M158.7 371.0V371.2M156.8 371.1V371.4M153.9 369.1V371.3M145.6 364.0V370.2M136.1 361.4V367.1M145.5 371.5V371.7M159.9 371.9V372.1M156.8 372.2V372.4M149.5 372.0V372.3M154.7 372.5V372.6M146.1 372.1V372.5M142.4 371.6V372.3M169.8 372.8V372.9M166.4 372.9V373.1M166.6 373.2V373.3M165.6 373.0V373.2M170.8 373.5V373.6M172.9 373.8V373.9M170.3 373.8V374.0M168.8 373.5V373.9M164.6 373.7V374.1M161.3 373.1V373.9M169.3 374.2V374.4M167.5 374.3V374.6M161.6 374.5V374.7M154.3 373.5V374.6M166.2 374.8V375.0M164.6 374.9V375.2M169.6 375.6V375.7M167.0 375.4V375.7M163.0 375.0V375.5M166.4 375.9V376.1M164.6 376.0V376.3M160.8 375.3V376.1M152.7 374.0V375.7M138.5 372.0V374.9M128.8 364.3V373.4M172.8 376.6V376.8M169.5 376.7V376.9M166.6 376.6V376.8M164.1 376.5V376.7M172.0 377.2V377.3M171.6 377.2V377.4M170.9 377.0V377.3M170.0 377.5V377.7M168.0 377.2V377.6M165.7 377.4V377.9M160.5 376.6V377.6M154.2 378.0V378.2M152.3 377.1V378.1M161.2 378.6V378.7M160.2 378.4V378.6M157.1 378.9V379.0M155.4 378.5V379.0M146.8 377.6V378.7M168.6 379.1V379.3M162.8 379.2V379.5M161.4 379.3V379.6M158.7 379.4V379.7M164.0 379.9V380.1M159.7 380.0V380.2M155.5 379.6V380.1M166.0 380.3V380.5M165.0 380.6V380.8M160.7 380.4V380.7M171.4 381.0V381.1M171.5 381.3V381.5M169.6 381.0V381.4M168.7 381.7V381.9M164.5 381.2V381.8M160.7 381.5V382.0M158.4 380.6V381.8M153.4 379.8V381.2M163.2 382.4V382.6M156.5 382.2V382.5M167.6 382.8V382.9M163.0 382.8V383.1M162.1 383.3V383.5M161.4 383.0V383.4M167.6 383.6V383.8M162.3 383.7V383.9M156.6 383.8V384.1M155.0 383.2V384.0M153.8 382.3V383.6M151.0 380.5V383.0M144.0 378.2V381.7M159.9 384.2V384.3M161.2 384.5V384.7M154.3 384.6V384.8M152.7 384.3V384.7M155.9 384.9V385.0M165.9 385.3V385.5M159.0 385.2V385.4M155.6 385.2V385.3M150.5 384.9V385.2M148.2 384.5V385.1M156.6 385.6V385.7M160.4 385.8V385.9M152.2 385.9V386.1M151.0 385.6V386.0M145.2 384.8V385.8M138.6 379.9V385.3M161.0 386.4V386.5M156.7 386.2V386.5M160.5 386.7V386.9M154.2 386.3V386.8M160.3 387.0V387.1M163.8 387.3V387.5M155.8 387.1V387.4M157.4 387.7V387.9M152.5 387.2V387.8M145.9 386.6V387.5M172.9 388.2V388.4M172.3 388.1V388.3M170.2 388.6V388.8M168.7 388.2V388.7M165.9 388.9V389.0M164.3 388.4V388.9M163.0 388.0V388.7M172.1 389.1V389.3M170.8 389.2V389.5M171.1 389.9V390.0M168.0 389.7V389.9M167.4 389.3V389.8M174.5 390.3V390.4M172.4 390.1V390.4M170.8 390.3V390.5M168.2 390.4V390.7M164.4 389.6V390.5M159.2 388.3V390.1M173.0 391.2V391.3M171.9 390.9V391.2M170.2 390.8V391.1M165.8 391.0V391.4M168.5 391.8V392.0M166.5 391.6V391.9M162.8 391.2V391.8M155.7 389.2V391.5M171.0 392.1V392.3M169.7 392.2V392.4M170.7 392.5V392.7M167.8 392.3V392.6M171.0 392.9V393.0M170.6 392.7V392.9M169.1 392.8V393.2M168.2 393.0V393.4M165.0 392.5V393.2M166.8 393.5V393.6M168.1 393.8V393.9M168.2 394.1V394.3M166.6 394.2V394.4M165.6 393.9V394.3M164.9 393.5V394.1M158.9 392.8V393.8M171.7 394.6V394.8M169.0 394.5V394.7M167.1 394.6V394.9M173.2 395.4V395.6M172.2 395.2V395.5M169.9 395.0V395.3M166.3 394.7V395.2M168.6 396.0V396.2M165.5 395.8V396.1M162.7 395.0V396.0M174.3 396.9V397.1M172.9 397.3V397.4M172.3 397.0V397.3M171.5 396.8V397.2M170.7 397.0V397.5M174.5 397.8V398.0M172.8 397.6V397.9M169.9 397.2V397.8M169.3 396.6V397.5M167.6 396.4V397.0M161.5 395.5V396.7M153.2 393.3V396.1M147.8 390.3V394.7M141.5 387.0V392.5M122.6 382.6V389.8M112.3 368.8V386.2M95.0 350.3V377.5M76.8 317.8V363.9M148.6 398.2V398.4M146.5 398.1V398.3M154.7 398.8V399.0M144.2 398.6V398.9M138.6 398.7V399.1M133.6 398.2V398.9M141.4 399.3V399.5M152.1 399.6V399.8M139.0 399.4V399.7M128.4 398.6V399.5M143.5 400.0V400.1M139.2 400.1V400.3M149.6 400.7V400.8M145.3 400.5V400.8M135.0 400.2V400.6M156.7 401.2V401.4M153.1 401.5V401.6M146.0 401.3V401.6M143.1 401.0V401.4M130.6 400.4V401.2M110.8 399.1V400.8M157.8 401.9V402.1M147.6 401.8V402.0M141.1 401.9V402.2M162.1 402.4V402.5M159.6 402.5V402.6M156.9 402.7V402.8M154.8 402.5V402.8M143.7 402.7V403.0M148.1 403.4V403.5M143.9 403.5V403.6M142.1 403.3V403.5M139.3 402.9V403.4M130.6 402.1V403.1M141.1 403.8V404.0M138.9 403.7V403.9M158.5 404.2V404.3M160.9 404.4V404.6M154.5 404.2V404.5M142.4 404.4V404.7M152.9 404.8V404.9M148.7 404.8V405.1M160.5 405.2V405.3M157.7 405.2V405.5M156.1 405.4V405.7M144.8 405.0V405.5M132.4 404.5V405.2M147.5 406.3V406.4M145.2 406.1V406.4M139.7 405.9V406.2M124.4 404.9V406.1M118.5 403.8V405.5M115.7 402.6V404.6M104.2 399.9V403.6M168.9 406.6V406.7M171.8 406.9V407.0M168.7 406.9V407.2M165.8 406.6V407.1M169.9 407.6V407.7M166.3 407.4V407.6M159.7 406.9V407.5M164.2 408.1V408.2M159.6 407.9V408.2M151.7 407.2V408.0M167.9 408.4V408.6M161.7 408.4V408.5M156.2 408.4V408.7M164.2 408.9V409.0M161.3 408.9V409.2M154.1 408.6V409.1M161.9 409.4V409.6M160.5 409.5V409.7M161.1 409.9V410.1M156.9 409.8V410.0M155.6 409.6V409.9M149.0 408.8V409.7M146.4 407.6V409.3M169.0 410.6V410.8M164.6 410.5V410.7M157.1 410.4V410.6M154.6 410.2V410.5M161.6 411.2V411.3M159.9 411.0V411.2M159.4 411.4V411.6M153.5 411.1V411.5M141.7 410.4V411.3M130.5 408.4V410.8M159.6 411.7V411.8M164.3 412.0V412.2M157.9 412.1V412.3M149.9 411.8V412.2M153.1 412.4V412.6M145.5 412.5V412.9M143.6 412.0V412.7M139.2 412.3V413.1M160.1 413.3V413.5M159.9 413.7V413.8M166.8 414.0V414.1M160.5 414.1V414.3M156.9 413.7V414.2M150.4 413.4V414.0M154.3 414.6V414.8M152.0 414.7V414.9M143.9 413.7V414.8M128.1 412.7V414.2M109.6 409.6V413.5M94.5 401.8V411.6M152.4 415.4V415.5M150.6 415.1V415.4M147.7 415.7V415.9M148.0 416.1V416.2M140.4 415.8V416.1M138.4 415.3V416.0M117.2 415.6V416.3M149.7 416.5V416.6M156.5 416.8V417.0M146.8 416.5V416.9M147.6 417.2V417.3M131.8 416.7V417.3M134.7 417.5V417.6M140.3 417.8V418.0M132.4 417.6V417.9M118.0 417.0V417.7M95.4 416.0V417.4M82.0 406.7V416.7M73.9 340.9V411.7M150.2 418.1V418.3M169.2 418.6V418.7M166.3 418.6V418.8M160.4 418.4V418.7M151.8 418.6V418.9M152.5 419.2V419.4M150.7 419.1V419.3M148.0 418.8V419.2M138.7 418.2V419.0M157.6 419.5V419.8M153.4 420.0V420.1M151.4 419.7V420.0M150.3 420.2V420.4M148.4 419.8V420.3M135.8 418.6V420.1M158.8 420.7V420.8M157.7 420.6V420.7M155.3 420.5V420.6M159.3 420.9V421.1M164.3 421.3V421.4M156.7 421.0V421.4M148.1 420.6V421.2M150.8 421.6V421.7M155.0 421.9V422.1M142.8 421.7V422.0M140.0 420.9V421.8M163.8 422.4V422.5M157.2 422.2V422.5M150.8 422.6V422.8M147.1 422.3V422.7M157.5 423.2V423.3M154.5 423.1V423.3M150.5 423.0V423.2M144.4 422.5V423.1M164.0 423.5V423.7M158.4 423.6V423.9M159.2 424.1V424.2M156.4 424.2V424.3M149.6 423.8V424.2M140.7 422.8V424.0M137.1 421.4V423.4M122.9 419.3V422.4M154.7 424.6V424.7M152.7 424.9V425.1M149.9 424.7V425.0M135.4 424.4V424.8M141.8 425.2V425.4M125.1 424.6V425.3M118.7 425.0V425.6M154.2 426.0V426.1M149.4 426.1V426.2M147.9 425.8V426.2M151.8 426.3V426.5M139.2 426.0V426.4M147.8 426.7V426.9M144.7 426.8V427.0M133.9 426.2V426.9M111.5 425.3V426.6M100.0 420.9V425.9M157.1 427.3V427.4M153.0 427.1V427.4M158.2 427.6V427.8M158.3 427.9V428.1M158.6 428.2V428.4M153.4 428.0V428.3M151.2 427.7V428.2M146.3 427.2V427.9M143.2 428.6V428.8M164.0 429.0V429.1M158.5 428.9V429.1M161.9 429.3V429.4M157.5 429.0V429.3M165.5 429.7V429.8M164.5 429.6V429.7M162.6 429.7V430.0M160.4 430.2V430.3M158.2 429.8V430.2M147.8 429.2V430.0M140.3 428.7V429.6M136.0 427.6V429.1M164.1 430.6V430.7M160.1 430.8V431.1M158.0 430.6V431.0M166.1 431.3V431.4M167.7 431.7V431.8M165.7 431.5V431.7M165.0 431.6V431.9M162.9 431.3V431.7M155.4 430.8V431.5M154.3 432.0V432.2M151.9 431.2V432.1M159.0 432.4V432.6M154.3 432.5V432.8M158.5 433.0V433.1M151.1 432.6V433.1M144.2 432.3V432.8M140.4 431.6V432.6M131.8 428.4V432.1M162.1 433.4V433.6M153.6 433.3V433.5M146.9 433.2V433.4M133.9 433.3V433.7M151.5 433.8V434.0M160.9 434.2V434.4M157.0 434.3V434.5M149.3 433.9V434.4M160.9 434.8V434.9M155.4 434.9V435.1M166.2 435.3V435.5M164.9 435.4V435.5M157.7 435.5V435.6M149.8 435.0V435.5M158.6 435.6V435.7M164.9 435.9V436.1M160.6 436.2V436.4M158.6 436.0V436.3M156.5 435.7V436.1M147.5 435.2V435.9M140.7 434.2V435.6M128.0 433.5V434.9M109.7 430.2V434.2M163.0 436.5V436.7M162.1 436.6V436.9M158.3 436.8V437.1M152.9 436.9V437.2M162.5 437.6V437.8M156.0 437.4V437.7M156.8 437.9V438.0M148.7 437.5V437.9M142.5 437.1V437.7M161.7 438.4V438.5M156.5 438.2V438.4M150.2 438.1V438.3M158.4 438.7V438.9M159.1 439.0V439.2M156.8 438.8V439.1M147.9 438.2V438.9M151.7 439.3V439.5M165.6 439.7V439.8M160.7 439.6V439.8M156.1 439.7V440.0M146.1 439.4V439.8M141.4 438.6V439.6M157.4 440.1V440.3M167.3 440.7V440.8M163.7 440.6V440.7M159.9 440.4V440.7M157.4 441.0V441.1M154.0 440.6V441.0M147.6 440.2V440.8M141.0 440.5V441.3M129.6 439.1V440.9M126.1 437.4V440.0M165.3 441.4V441.5M158.4 441.4V441.7M165.2 442.0V442.2M159.0 441.9V442.1M148.5 441.6V442.0M144.8 441.8V442.3M156.7 442.5V442.6M155.1 442.5V442.7M142.3 442.6V442.8M139.8 442.7V443.0M134.8 442.0V442.8M165.4 443.1V443.2M163.4 443.1V443.4M157.4 443.3V443.5M154.4 443.6V443.8M152.7 443.4V443.7M144.4 443.5V443.9M156.1 444.1V444.3M147.5 444.2V444.4M136.3 443.7V444.3M132.3 442.4V444.0M163.0 444.5V444.7M154.8 444.6V444.8M156.4 444.9V445.1M161.7 445.3V445.4M160.0 445.6V445.8M157.3 445.4V445.7M155.0 445.0V445.5M172.2 445.9V446.1M170.9 446.0V446.2M173.4 446.4V446.5M171.9 446.4V446.6M168.1 446.5V446.7M166.5 446.1V446.6M171.5 446.9V447.1M169.1 447.0V447.2M167.6 447.3V447.5M165.5 447.1V447.4M160.3 446.4V447.2M167.2 447.6V447.7M171.5 448.0V448.2M167.7 448.1V448.4M166.5 447.8V448.3M163.8 448.0V448.5M162.6 447.6V448.3M163.3 448.7V448.8M170.7 449.1V449.3M166.5 448.9V449.2M160.8 448.7V449.1M158.5 448.0V448.9M156.1 446.8V448.4M153.4 445.3V447.6M159.2 449.4V449.7M160.4 450.0V450.2M158.9 450.1V450.3M153.2 449.9V450.2M150.2 449.5V450.0M145.5 446.4V449.8M143.2 444.7V448.1M130.0 443.2V446.4M118.7 438.7V444.8M103.6 432.2V441.8M140.6 450.5V450.6M131.1 450.8V450.9M122.7 450.5V450.9M146.2 451.0V451.2M131.0 451.1V451.3M151.0 451.5V451.7M140.4 451.6V451.9M122.7 451.2V451.8M113.4 450.7V451.5M95.0 437.0V451.1M164.4 452.1V452.3M158.7 452.2V452.4M161.3 452.6V452.8M152.7 452.3V452.7M160.8 453.1V453.3M152.6 453.0V453.2M149.6 452.5V453.1M155.9 453.4V453.6M158.0 453.7V453.9M151.9 453.5V453.8M139.4 452.8V453.6M159.3 454.1V454.2M158.6 454.3V454.5M155.4 454.1V454.4M154.3 454.7V454.9M150.4 454.3V454.8M137.6 453.2V454.5M162.7 455.0V455.1M161.1 455.0V455.2M154.6 455.3V455.5M151.9 455.1V455.4M166.2 455.6V455.8M162.8 455.7V455.9M166.9 456.2V456.4M166.3 456.1V456.3M167.6 456.6V456.7M164.8 456.2V456.6M159.4 455.8V456.4M149.2 455.3V456.1M156.5 456.9V457.0M153.6 457.0V457.2M162.4 457.4V457.5M155.2 457.5V457.6M162.4 457.7V457.9M153.4 457.5V457.8M149.8 457.1V457.7M157.6 458.0V458.2M159.3 458.3V458.4M157.7 458.4V458.6M146.7 458.1V458.5M138.9 457.4V458.3M134.0 455.7V457.8M125.6 453.9V456.8M168.2 458.7V458.9M176.1 459.4V459.6M174.5 459.5V459.6M172.8 459.3V459.6M170.6 459.1V459.4M167.2 458.8V459.3M169.2 459.7V459.9M165.4 459.8V460.1M163.9 459.0V459.9M168.2 460.3V460.5M166.5 460.4V460.7M166.3 460.9V461.0M162.3 460.5V460.9M159.1 459.5V460.7M169.2 461.2V461.4M167.2 461.3V461.6M166.6 461.4V461.7M169.8 461.8V462.0M171.3 462.1V462.2M171.0 462.2V462.3M168.6 461.9V462.2M165.5 461.6V462.1M161.6 461.8V462.5M171.6 462.7V462.9M168.2 462.6V462.8M164.4 462.7V463.1M162.4 462.9V463.2M158.3 462.1V463.0M155.0 460.1V462.6M168.0 463.5V463.7M164.5 463.3V463.6M171.7 464.0V464.1M168.8 463.8V464.0M167.8 463.7V463.9M162.1 463.5V463.8M170.5 464.3V464.5M169.9 464.9V465.0M166.9 464.7V464.9M166.2 464.4V464.8M164.8 464.6V465.2M161.4 463.6V464.9M168.0 465.4V465.6M170.2 465.8V465.9M169.4 466.1V466.3M165.7 465.9V466.2M165.1 465.5V466.0M158.8 464.3V465.8M149.3 461.4V465.0M156.3 466.4V466.5M174.0 466.8V467.0M171.8 466.7V466.9M171.0 467.1V467.3M170.2 466.8V467.2M173.9 467.4V467.5M173.5 467.6V467.7M174.0 467.9V468.1M172.9 467.7V468.0M171.9 467.4V467.8M168.0 467.6V468.2M167.0 467.0V467.9M162.6 467.5V468.3M155.1 467.9V468.5M150.8 466.5V468.2M169.4 468.7V468.9M169.6 469.0V469.2M167.2 468.8V469.1M166.7 469.4V469.6M164.9 469.5V469.7M163.5 468.9V469.6M169.1 470.1V470.3M168.5 470.2V470.4M162.9 470.3V470.5M162.2 469.9V470.4M159.3 469.3V470.2M149.1 467.3V469.7M138.2 463.2V468.5M118.9 455.3V465.9M156.6 470.7V470.8M153.7 470.8V470.9M151.8 470.8V471.1M149.8 470.6V471.0M158.4 471.4V471.5M154.9 471.2V471.4M144.7 470.8V471.3M154.7 471.9V472.0M144.6 471.7V472.0M142.4 471.6V471.8M139.2 471.0V471.7M161.0 472.2V472.4M171.4 472.6V472.8M168.2 472.6V472.7M167.7 473.0V473.1M166.7 472.6V473.0M164.2 472.8V473.2M159.8 472.3V473.0M164.2 473.4V473.5M156.9 473.3V473.5M152.2 472.7V473.4M160.4 473.7V473.8M155.9 474.0V474.3M151.0 473.8V474.1M142.1 473.0V473.9M164.2 474.6V474.8M156.9 474.7V474.8M154.4 474.5V474.8M162.4 474.9V475.1M158.1 474.8V475.0M159.4 475.2V475.4M153.2 474.9V475.3M148.8 474.6V475.1M137.6 473.5V474.8M122.2 471.4V474.2M148.4 475.5V475.6M137.0 475.6V475.7M121.6 475.6V475.9M105.3 472.8V475.8M95.0 460.6V474.3M85.5 444.0V467.4M66.3 423.4V455.7M57.8 376.3V439.6M53.2 271.7V407.9M154.4 476.1V476.3M162.2 476.4V476.6M159.9 476.5V476.7M157.6 476.6V476.9M147.5 476.2V476.7M152.1 477.0V477.2M154.7 477.3V477.5M149.0 477.1V477.4M167.0 478.1V478.2M163.0 478.2V478.4M156.9 477.9V478.3M153.5 477.7V478.1M158.0 478.5V478.6M162.8 478.8V478.9M155.6 478.5V478.8M143.3 477.9V478.7M141.6 477.3V478.3M139.1 476.5V477.8M147.4 479.1V479.3M154.4 479.5V479.6M141.7 479.2V479.6M152.3 479.9V480.1M143.9 479.8V480.0M139.2 479.7V479.9M133.3 479.4V479.8M125.3 477.1V479.6M159.2 480.3V480.5M171.2 480.6V480.8M171.3 481.0V481.1M168.8 480.7V481.0M165.0 480.9V481.3M169.2 481.4V481.6M164.4 481.1V481.5M163.3 481.7V481.9M161.0 481.3V481.8M169.4 482.0V482.1M165.6 482.0V482.2M169.9 482.4V482.6M167.2 482.3V482.5M163.1 482.1V482.4M160.0 481.5V482.3M150.0 480.4V481.9M156.1 483.0V483.1M152.0 483.0V483.1M151.6 483.2V483.3M148.8 483.1V483.3M143.9 482.8V483.2M134.5 481.1V483.0M168.8 483.6V483.8M165.0 483.7V483.9M159.9 483.5V483.8M157.1 484.1V484.3M152.5 483.7V484.2M154.9 484.5V484.6M159.8 484.9V485.1M153.6 484.7V485.0M150.8 484.6V484.8M144.1 483.9V484.7M153.9 485.5V485.7M149.9 485.4V485.6M142.6 485.2V485.5M152.7 486.1V486.2M147.2 485.9V486.1M139.0 485.4V486.0M131.9 484.3V485.7M129.9 482.1V485.0M116.9 478.4V483.5M130.2 486.3V486.5M138.2 486.7V486.9M132.8 486.6V486.8M118.3 486.4V486.7M94.3 480.9V486.6M148.6 487.1V487.3M137.2 487.2V487.4M156.8 487.8V487.9M145.2 487.9V488.0M135.9 487.6V487.9M129.3 487.3V487.8M139.9 488.2V488.3M142.8 488.5V488.7M136.8 488.4V488.6M122.2 488.2V488.5M115.6 487.5V488.4M145.5 488.8V489.0M140.2 488.9V489.2M156.2 489.4V489.5M145.6 489.4V489.7M135.4 489.0V489.6M149.1 490.1V490.3M143.7 490.0V490.2M138.5 489.9V490.1M118.6 489.3V490.0M112.0 488.0V489.7M167.4 490.6V490.8M165.1 490.7V490.8M158.0 490.4V490.8M167.6 491.3V491.5M164.7 491.2V491.4M157.9 491.0V491.3M161.7 491.7V491.9M154.3 491.1V491.8M150.5 490.6V491.5M166.4 492.1V492.3M165.3 492.0V492.2M160.5 492.1V492.5M167.6 492.8V492.9M165.9 492.7V492.9M158.7 492.3V492.8M167.3 493.0V493.2M166.3 493.1V493.4M162.5 493.3V493.6M169.0 493.9V494.1M169.5 494.2V494.5M168.8 494.3V494.6M167.1 494.0V494.5M167.3 495.0V495.2M171.0 495.4V495.5M169.2 495.3V495.5M165.7 495.1V495.4M164.5 494.8V495.2M161.6 494.2V495.0M159.2 493.5V494.6M151.9 492.5V494.0M141.0 491.0V493.3M169.6 496.0V496.1M164.8 496.0V496.1M163.0 496.1V496.2M161.1 495.8V496.2M171.1 496.4V496.5M167.3 496.4V496.7M169.1 496.9V497.0M166.9 496.9V497.2M162.5 497.1V497.3M161.4 496.6V497.2M152.1 496.0V496.9M165.3 497.4V497.6M168.7 497.8V498.0M166.4 497.9V498.1M164.1 497.5V498.0M170.9 498.5V498.6M166.7 498.3V498.6M165.8 498.5V498.8M172.6 499.1V499.3M171.1 499.0V499.2M169.6 499.0V499.1M171.5 499.7V499.8M170.4 499.5V499.8M168.1 499.1V499.6M168.6 499.9V500.1M167.4 499.3V500.0M163.8 498.7V499.7M159.5 497.8V499.2M149.9 496.4V498.5M165.8 500.2V500.3M165.7 500.5V500.7M165.0 500.3V500.6M161.8 500.4V500.9M153.6 500.6V501.0M148.1 497.4V500.8M163.0 501.3V501.5M159.0 501.1V501.4M154.3 501.2V501.5M170.6 501.9V502.0M166.7 501.9V502.1M164.7 501.7V502.0M159.8 501.9V502.2M152.2 501.4V502.0M140.7 499.1V501.7M126.3 492.2V500.4M142.0 502.3V502.5M133.4 502.4V502.7M151.6 502.8V503.0M140.0 502.9V503.2M128.4 502.5V503.1M124.6 502.8V503.4M160.2 503.5V503.6M153.5 503.6V503.8M163.4 504.0V504.2M166.8 504.3V504.5M160.3 504.1V504.4M152.0 503.7V504.2M155.6 504.7V504.9M166.8 505.3V505.4M160.2 505.1V505.3M152.5 504.8V505.2M143.8 504.0V505.0M158.7 505.6V505.8M153.8 505.5V505.7M162.5 505.9V506.1M164.5 506.3V506.4M163.7 506.3V506.5M172.3 506.7V506.9M169.7 506.8V507.0M172.1 507.3V507.4M168.3 507.4V507.6M166.1 506.9V507.5M162.2 506.4V507.2M155.8 506.0V506.8M147.9 505.6V506.4M158.4 507.7V507.8M153.6 507.8V508.0M167.1 508.2V508.4M162.1 508.1V508.3M164.6 508.5V508.6M162.1 508.6V508.8M157.6 508.2V508.7M154.3 508.4V508.9M150.9 507.9V508.7M162.9 509.0V509.2M160.4 509.1V509.4M156.6 509.3V509.6M159.4 509.7V509.8M157.7 509.8V509.9M149.2 509.8V510.0M147.4 509.4V509.9M145.6 508.3V509.7M154.5 510.2V510.4M153.1 510.3V510.5M156.8 510.6V510.7M163.3 510.9V511.1M159.4 511.0V511.2M150.7 510.7V511.1M142.2 510.4V510.9M140.4 509.0V510.6M138.5 506.0V509.8M134.4 504.5V507.9M112.8 503.1V506.2M106.8 496.3V504.6M91.1 488.8V500.5M140.9 511.8V512.0M138.8 511.6V511.9M122.4 511.4V511.8M151.1 512.2V512.4M142.0 512.3V512.5M138.7 512.8V513.0M135.7 512.9V513.0M126.5 512.6V513.0M122.3 512.4V512.8M130.8 513.1V513.3M144.8 513.4V513.5M146.2 513.7V513.9M137.3 513.4V513.8M121.5 513.2V513.6M117.9 512.6V513.4M98.3 511.6V513.0M64.5 494.6V512.3M142.2 514.1V514.3M131.5 514.2V514.4M110.0 514.3V514.5M162.3 515.1V515.3M157.3 515.0V515.2M146.2 515.1V515.3M134.3 514.8V515.2M134.6 515.4V515.6M114.8 515.0V515.5M94.9 514.4V515.2M121.0 516.0V516.2M111.4 515.8V516.1M143.7 516.4V516.6M128.8 516.5V516.7M129.9 516.8V516.9M115.4 516.6V516.8M91.8 516.0V516.7M88.0 514.8V516.3M165.4 517.6V517.8M162.2 517.7V517.9M160.4 517.3V517.8M154.0 517.1V517.5M168.9 518.0V518.2M166.1 518.1V518.3M164.6 518.4V518.6M163.4 518.2V518.5M165.6 518.8V519.0M166.2 519.1V519.3M161.9 518.9V519.2M157.0 518.3V519.0M148.8 517.3V518.7M164.2 519.5V519.6M170.3 520.1V520.3M169.8 519.9V520.2M166.7 519.8V520.1M160.4 519.5V519.9M158.7 520.6V520.8M155.4 520.4V520.7M153.5 519.7V520.6M143.8 518.0V520.2M155.4 521.1V521.2M153.8 521.2V521.4M148.5 521.3V521.6M135.0 521.0V521.4M127.7 519.1V521.2M147.7 521.7V521.8M133.3 521.8V522.0M150.9 522.1V522.2M140.5 522.4V522.6M137.0 522.2V522.5M128.7 521.9V522.3M152.2 522.7V522.9M138.8 522.8V523.1M121.9 522.1V523.0M111.4 520.1V522.5M161.5 523.5V523.7M155.8 523.6V523.8M154.7 523.3V523.7M157.8 523.9V524.1M150.3 524.3V524.5M148.8 524.0V524.4M142.5 523.5V524.2M160.0 524.7V524.8M157.1 524.9V525.0M152.9 524.7V524.9M138.9 523.9V524.8M145.4 525.2V525.4M135.7 524.3V525.3M164.1 525.9V526.0M161.2 525.9V526.1M159.5 525.7V526.0M148.9 525.5V525.8M166.6 526.2V526.4M159.9 526.3V526.5M153.5 526.1V526.4M145.8 525.7V526.3M167.0 526.7V526.9M163.9 526.5V526.8M165.2 527.1V527.2M162.7 526.7V527.1M165.7 527.5V527.6M164.8 527.3V527.5M162.1 527.4V527.7M160.7 526.9V527.6M171.9 527.8V527.9M168.7 527.9V528.1M168.9 528.3V528.5M168.0 528.0V528.4M162.1 528.2V528.7M153.8 527.2V528.4M165.6 528.9V529.0M158.5 528.9V529.1M166.9 529.3V529.4M166.3 529.4V529.6M165.2 529.5V529.8M160.5 529.6V530.0M153.3 529.0V529.8M151.7 530.1V530.2M145.7 529.4V530.1M143.9 527.8V529.8M130.8 526.0V528.8M122.6 524.8V527.4M107.7 521.3V526.1M141.8 530.4V530.6M153.6 531.0V531.2M149.4 530.9V531.1M146.1 530.8V531.0M138.0 530.5V530.9M154.7 531.5V531.6M146.7 531.3V531.5M159.7 532.0V532.2M155.2 532.1V532.3M153.5 531.8V532.2M140.2 531.4V532.0M132.2 530.7V531.7M152.4 532.5V532.6M166.2 533.0V533.2M162.0 533.1V533.3M155.2 533.2V533.5M150.7 532.8V533.4M138.1 532.5V533.1M151.8 533.7V533.8M149.4 533.7V534.0M169.2 534.1V534.2M165.0 534.2V534.4M160.9 534.3V534.5M159.5 534.9V535.0M154.3 534.7V534.9M151.5 534.4V534.8M143.1 533.9V534.6M131.2 532.8V534.2M110.4 531.2V533.5M145.8 535.3V535.5M134.1 535.1V535.4M132.9 535.6V535.7M127.2 535.3V535.6M121.5 535.1V535.5M166.8 536.2V536.3M163.6 536.1V536.2M160.6 535.9V536.2M158.8 536.0V536.4M151.7 536.6V536.8M148.7 536.2V536.7M134.3 536.5V537.0M150.9 537.2V537.4M157.4 537.5V537.7M150.1 537.6V537.7M141.0 537.3V537.6M139.8 537.8V537.9M121.4 537.5V537.8M117.0 536.7V537.7M111.0 535.3V537.2M107.1 532.4V536.2M88.6 523.7V534.3M70.0 515.6V529.0M161.1 538.4V538.5M156.0 538.1V538.4M166.9 538.9V539.0M164.4 538.7V538.9M161.9 539.1V539.3M159.5 538.8V539.2M159.5 539.4V539.6M156.4 539.0V539.5M149.9 538.3V539.3M160.9 540.0V540.1M158.2 540.3V540.4M155.6 540.0V540.4M169.7 540.9V541.1M167.6 540.7V541.0M169.4 541.2V541.4M164.6 540.8V541.3M161.6 541.6V541.8M158.2 541.5V541.7M157.0 541.1V541.6M150.6 540.2V541.3M143.2 539.8V540.8M135.4 538.8V540.3M157.9 542.0V542.2M154.2 542.1V542.4M163.0 542.7V542.9M158.1 542.5V542.8M149.0 542.2V542.7M160.8 543.1V543.3M165.3 543.5V543.7M164.1 543.6V543.9M164.7 544.0V544.2M159.4 543.7V544.1M151.1 543.2V543.9M139.5 542.5V543.6M132.8 539.5V543.0M165.6 544.5V544.7M163.1 544.4V544.6M157.6 544.3V544.5M150.1 544.4V544.8M162.3 544.9V545.0M165.7 545.2V545.3M161.0 545.2V545.5M158.1 545.0V545.4M147.2 544.6V545.2M154.6 545.6V545.8M142.2 544.9V545.7M163.0 546.0V546.2M157.4 546.1V546.3M154.9 546.5V546.6M148.3 546.2V546.5M142.0 546.4V546.7M159.5 547.2V547.3M149.2 547.0V547.2M143.7 546.8V547.1M148.6 547.4V547.6M140.1 547.0V547.5M132.1 546.5V547.2M128.6 545.3V546.9M122.4 541.3V546.1M165.5 547.7V547.8M161.4 547.8V548.0M158.9 548.2V548.4M156.7 547.9V548.3M154.8 548.1V548.6M147.7 548.8V549.0M145.0 548.3V548.9M171.7 549.7V549.8M168.3 549.5V549.7M163.0 549.4V549.6M156.6 549.2V549.5M161.1 550.0V550.2M152.7 549.4V550.1M141.7 548.6V549.7M164.4 550.4V550.5M159.3 550.3V550.5M155.8 550.4V550.8M164.4 551.2V551.4M162.8 551.6V551.8M160.8 551.3V551.7M156.3 551.5V552.0M154.4 551.0V551.8M153.2 550.6V551.4M167.8 552.2V552.4M164.1 552.1V552.3M168.4 552.7V552.9M165.0 552.6V552.8M157.6 552.2V552.7M150.6 551.0V552.5M161.5 553.1V553.2M152.8 553.0V553.2M151.7 553.4V553.6M145.5 553.1V553.5M166.3 553.8V554.0M166.8 554.1V554.3M161.9 553.9V554.2M168.4 554.4V554.6M163.2 554.5V554.7M159.8 554.1V554.6M151.1 553.7V554.3M143.8 553.3V554.0M141.4 551.7V553.7M128.6 549.2V552.7M166.8 555.0V555.2M168.3 555.2V555.4M164.8 555.2V555.3M161.9 555.1V555.3M154.5 554.8V555.2M163.9 555.8V556.0M162.3 555.6V555.9M156.6 555.8V556.1M158.1 556.2V556.4M153.3 555.9V556.3M146.5 555.0V556.1M147.2 556.5V556.7M143.0 555.6V556.6M125.6 550.9V556.1M160.7 557.0V557.2M170.0 557.4V557.6M168.4 557.5V557.7M167.1 557.6V557.7M163.0 557.7V557.8M154.3 557.1V557.7M150.6 556.8V557.4M166.2 557.9V558.1M166.9 558.2V558.4M161.6 558.3V558.6M159.9 558.0V558.4M162.6 558.8V559.0M163.0 559.2V559.4M159.5 558.9V559.3M157.3 558.2V559.1M165.5 559.8V560.0M159.2 559.9V560.1M156.6 559.7V560.0M155.6 559.5V559.8M149.7 558.7V559.7M135.3 557.1V559.2M159.6 560.5V560.7M151.8 560.3V560.6M150.0 560.4V560.9M155.6 561.1V561.3M144.9 560.7V561.2M163.4 561.4V561.5M158.6 561.4V561.7M165.8 562.0V562.1M160.6 561.8V562.0M151.9 561.6V561.9M147.6 562.3V562.5M158.7 562.6V562.8M157.3 562.7V562.9M146.1 562.4V562.8M143.0 561.7V562.6M138.4 560.9V562.2M116.9 558.1V561.5M112.8 553.5V559.8M101.2 543.7V556.7M144.5 563.4V563.6M139.2 563.2V563.5M125.4 563.0V563.4M122.2 563.2V563.7M121.2 563.8V563.9M123.0 564.3V564.4M118.4 564.1V564.4M115.2 563.8V564.2M107.5 563.4V564.0M140.5 564.6V564.8M127.5 564.7V564.9M141.8 565.1V565.2M129.7 565.1V565.3M110.7 565.2V565.3M105.9 564.8V565.3M98.5 565.0V565.5M94.8 563.7V565.3M74.0 550.2V564.5M56.7 522.3V557.3M53.3 503.5V539.8M46.7 483.7V521.6M35.3 339.8V502.7" stroke="#1a1a1a" stroke-width="0.7" stroke-opacity="0.75" fill="none"/>
<text x="14.8" y="599.2" font-size="25" font-weight="bold" fill="#000" text-anchor="start" stroke="#000" stroke-width="0.3">C</text>
<text x="118.5" y="602.9" font-size="22.5" fill="#000" text-anchor="start" textLength="321" lengthAdjust="spacingAndGlyphs">Principal component analysis</text>
<rect x="81.6" y="633.6" width="394.1" height="251.2" fill="none" stroke="#333" stroke-width="1.1"/>
<line x1="73.5" y1="651.5" x2="81.6" y2="651.5" stroke="#333" stroke-width="1.1"/>
<text transform="translate(62.8 650.9) rotate(-90) scale(0.86 1)" x="0" y="0" font-size="15" font-weight="bold" text-anchor="middle" stroke="#000" stroke-width="0.3">10</text>
<line x1="73.5" y1="704.2" x2="81.6" y2="704.2" stroke="#333" stroke-width="1.1"/>
<text transform="translate(62.8 703.6) rotate(-90) scale(0.86 1)" x="0" y="0" font-size="15" font-weight="bold" text-anchor="middle" stroke="#000" stroke-width="0.3">0</text>
<line x1="73.5" y1="757.0" x2="81.6" y2="757.0" stroke="#333" stroke-width="1.1"/>
<text transform="translate(62.8 756.4) rotate(-90) scale(0.86 1)" x="0" y="0" font-size="15" font-weight="bold" text-anchor="middle" stroke="#000" stroke-width="0.3">-10</text>
<line x1="73.5" y1="809.7" x2="81.6" y2="809.7" stroke="#333" stroke-width="1.1"/>
<text transform="translate(62.8 809.1) rotate(-90) scale(0.86 1)" x="0" y="0" font-size="15" font-weight="bold" text-anchor="middle" stroke="#000" stroke-width="0.3">-20</text>
<line x1="73.5" y1="862.5" x2="81.6" y2="862.5" stroke="#333" stroke-width="1.1"/>
<text transform="translate(62.8 861.9) rotate(-90) scale(0.86 1)" x="0" y="0" font-size="15" font-weight="bold" text-anchor="middle" stroke="#000" stroke-width="0.3">-30</text>
<line x1="100.9" y1="884.8" x2="100.9" y2="892.4" stroke="#333" stroke-width="1.1"/>
<text x="100.9" y="913.3" font-size="13" font-weight="bold" fill="#000" text-anchor="middle" letter-spacing="-0.5" stroke="#000" stroke-width="0.45">-20</text>
<line x1="157.2" y1="884.8" x2="157.2" y2="892.4" stroke="#333" stroke-width="1.1"/>
<text x="157.2" y="913.3" font-size="13" font-weight="bold" fill="#000" text-anchor="middle" letter-spacing="-0.5" stroke="#000" stroke-width="0.45">-10</text>
<line x1="213.5" y1="884.8" x2="213.5" y2="892.4" stroke="#333" stroke-width="1.1"/>
<text x="213.5" y="913.3" font-size="13" font-weight="bold" fill="#000" text-anchor="middle" letter-spacing="-0.5" stroke="#000" stroke-width="0.45">0</text>
<line x1="269.8" y1="884.8" x2="269.8" y2="892.4" stroke="#333" stroke-width="1.1"/>
<text x="269.8" y="913.3" font-size="13" font-weight="bold" fill="#000" text-anchor="middle" letter-spacing="-0.5" stroke="#000" stroke-width="0.45">10</text>
<line x1="326.1" y1="884.8" x2="326.1" y2="892.4" stroke="#333" stroke-width="1.1"/>
<text x="326.1" y="913.3" font-size="13" font-weight="bold" fill="#000" text-anchor="middle" letter-spacing="-0.5" stroke="#000" stroke-width="0.45">20</text>
<line x1="382.4" y1="884.8" x2="382.4" y2="892.4" stroke="#333" stroke-width="1.1"/>
<text x="382.4" y="913.3" font-size="13" font-weight="bold" fill="#000" text-anchor="middle" letter-spacing="-0.5" stroke="#000" stroke-width="0.45">30</text>
<line x1="438.7" y1="884.8" x2="438.7" y2="892.4" stroke="#333" stroke-width="1.1"/>
<text x="438.7" y="913.3" font-size="13" font-weight="bold" fill="#000" text-anchor="middle" letter-spacing="-0.5" stroke="#000" stroke-width="0.45">40</text>
<text x="175.2" y="939.2" font-size="23" fill="#000" text-anchor="start" textLength="217.2" lengthAdjust="spacingAndGlyphs">PC1: 20% Variance</text>
<text transform="translate(45.7 855.8) rotate(-90)" x="0" y="0" font-size="25" textLength="210.5" lengthAdjust="spacingAndGlyphs">PC2:10% Variance</text>
<circle cx="95.6" cy="744.1" r="6" fill="#8eeefa"/><circle cx="256.8" cy="746.8" r="6" fill="#8eeefa"/><circle cx="461.1" cy="735.3" r="6" fill="#8eeefa"/><path d="M152.6 650.7L159.79999999999998 662.9L145.4 662.9Z" fill="#8eeefa"/><path d="M194.9 668.2L202.1 680.4L187.70000000000002 680.4Z" fill="#8eeefa"/><path d="M170.4 700.3L177.6 712.8L163.20000000000002 712.8Z" fill="#8eeefa"/><path d="M163.1 725.1L170.29999999999998 737.7L155.9 737.7Z" fill="#8eeefa"/><path d="M323.4 643.8L330.59999999999997 657.1L316.2 657.1Z" fill="#8eeefa"/><path d="M265.2 675.0L272.4 688.7L258.0 688.7Z" fill="#8eeefa"/><path d="M196.6 867.9L203.79999999999998 880.9L189.4 880.9Z" fill="#8eeefa"/><path d="M201.0 644.8L208.2 657.0L193.8 657.0Z" fill="#3f78ae"/><circle cx="132.1" cy="669.1" r="6" fill="#3f78ae"/><circle cx="212.4" cy="642.2" r="6" fill="#3f78ae"/><circle cx="205.1" cy="672.0" r="6" fill="#3f78ae"/><circle cx="218.0" cy="689.2" r="6" fill="#3f78ae"/><circle cx="168.9" cy="718.4" r="6" fill="#3f78ae"/>
<path d="M498.8 653.6L510 675.7L487.6 675.7Z" fill="#000"/>
<text x="522.6" y="675" font-size="24" fill="#000" text-anchor="start" textLength="53.2" lengthAdjust="spacingAndGlyphs">male</text>
<circle cx="498.4" cy="698.5" r="12.2" fill="#000"/>
<text x="526.6" y="708.8" font-size="24" fill="#000" text-anchor="start" textLength="73" lengthAdjust="spacingAndGlyphs">female</text>
<circle cx="498.4" cy="735.1" r="12.2" fill="#8fdcf3"/>
<text x="519.2" y="743.6" font-size="24" fill="#000" text-anchor="start" textLength="52.3" lengthAdjust="spacingAndGlyphs">Lean</text>
<circle cx="498.4" cy="770.3" r="12.2" fill="#5a86b5"/>
<text x="519.2" y="779" font-size="24" fill="#000" text-anchor="start" textLength="72" lengthAdjust="spacingAndGlyphs">Obese</text>
<text x="501.3" y="828.3" font-size="24" fill="#000" text-anchor="start" textLength="156.5" lengthAdjust="spacingAndGlyphs">PC correlation</text>
<text x="501.5" y="858.1" font-size="24" textLength="100" lengthAdjust="spacingAndGlyphs">(<tspan font-style="italic">P</tspan> = n.s.)</text>
<text x="15.2" y="983.8" font-size="24" font-weight="bold" fill="#000" text-anchor="start" stroke="#000" stroke-width="0.3">D</text>
<text x="248.3" y="993" font-size="23" fill="#000" text-anchor="start" textLength="284.2" lengthAdjust="spacingAndGlyphs">Model: ~Maternal Obesity</text>
<line x1="16" y1="1012.3" x2="655.8" y2="1012.3" stroke="#000" stroke-width="2.5"/>
<text x="178.7" y="1046" font-size="26.8" fill="#000" text-anchor="start" textLength="150" lengthAdjust="spacingAndGlyphs">Comparison</text>
<text x="506.8" y="1046" font-size="26.5" fill="#000" text-anchor="start" textLength="34.3" lengthAdjust="spacingAndGlyphs">Up</text>
<text x="571.1" y="1046" font-size="26.5" fill="#000" text-anchor="start" textLength="69.6" lengthAdjust="spacingAndGlyphs">Down</text>
<line x1="18.4" y1="1052" x2="653" y2="1052" stroke="#000" stroke-width="2.5"/>
<text x="18.7" y="1086.6" font-size="23.5" font-weight="bold" fill="#000" text-anchor="start" textLength="176.3" lengthAdjust="spacingAndGlyphs">Obese vs Lean</text>
<text x="518.5" y="1086.4" font-size="23.5" font-weight="bold" fill="#000" text-anchor="start">1</text>
<text x="599.6" y="1086.4" font-size="23.5" font-weight="bold" fill="#000" text-anchor="start">0</text>
</svg>
<div style="position:absolute;left:184.90px;top:259.9px;width:29.36px;height:305.9px;background:linear-gradient(#ececfd 0px 1px,#f6f6fe 1px 2px,#ffffff 2px 3px,#f6f6fe 3px 4px,#ececfd 4px 6px,#f6f6fe 6px 7px,#ececfd 7px 8px,#dadafb 8px 9px,#e3e3fc 9px 10px,#f6f6fe 10px 12px,#e3e3fc 12px 13px,#ececfd 13px 14px,#e3e3fc 14px 15px,#c8c8f9 15px 16px,#bebef8 16px 18px,#d1d1fa 18px 19px,#ececfd 19px 20px,#e3e3fc 20px 21px,#dadafb 21px 23px,#d1d1fa 23px 24px,#e3e3fc 24px 25px,#dadafb 25px 27px,#ececfd 27px 28px,#e3e3fc 28px 29px,#dadafb 29px 30px,#d1d1fa 30px 31px,#e3e3fc 31px 32px,#d1d1fa 32px 33px,#dadafb 33px 34px,#ececfd 34px 35px,#f6f6fe 35px 37px,#d1d1fa 37px 38px,#e3e3fc 38px 39px,#ececfd 39px 40px,#d1d1fa 40px 42px,#dadafb 42px 44px,#ececfd 44px 46px,#e3e3fc 46px 49px,#ececfd 49px 52px,#e3e3fc 52px 53px,#c8c8f9 53px 54px,#d1d1fa 54px 55px,#bebef8 55px 56px,#8787f2 56px 57px,#7e7ef1 57px 58px,#8787f2 58px 59px,#b5b5f7 59px 60px,#acacf6 60px 62px,#b5b5f7 62px 69px,#a2a2f5 69px 70px,#8787f2 70px 71px,#bebef8 71px 73px,#b5b5f7 73px 74px,#9999f4 74px 76px,#c8c8f9 76px 77px,#d1d1fa 77px 79px,#c8c8f9 79px 80px,#bebef8 80px 82px,#b5b5f7 82px 83px,#bebef8 83px 85px,#c8c8f9 85px 87px,#dadafb 87px 88px,#d1d1fa 88px 89px,#b5b5f7 89px 90px,#acacf6 90px 91px,#b5b5f7 91px 92px,#bebef8 92px 93px,#acacf6 93px 95px,#a2a2f5 95px 96px,#bebef8 96px 97px,#acacf6 97px 98px,#b5b5f7 98px 99px,#dadafb 99px 101px,#bebef8 101px 102px,#9999f4 102px 105px,#a2a2f5 105px 107px,#acacf6 107px 108px,#b5b5f7 108px 109px,#c8c8f9 109px 110px,#acacf6 110px 112px,#bebef8 112px 113px,#d1d1fa 113px 115px,#ececfd 115px 116px,#dadafb 116px 117px,#bebef8 117px 119px,#c8c8f9 119px 120px,#ececfd 120px 121px,#dadafb 121px 122px,#d1d1fa 122px 123px,#e3e3fc 123px 124px,#dadafb 124px 125px,#c8c8f9 125px 126px,#bebef8 126px 127px,#c8c8f9 127px 128px,#d1d1fa 128px 129px,#ececfd 129px 130px,#e3e3fc 130px 131px,#c8c8f9 131px 132px,#b5b5f7 132px 133px,#e3e3fc 133px 134px,#ececfd 134px 135px,#c8c8f9 135px 136px,#bebef8 136px 138px,#acacf6 138px 139px,#bebef8 139px 140px,#dadafb 140px 142px,#b5b5f7 142px 143px,#d1d1fa 143px 144px,#bebef8 144px 146px,#b5b5f7 146px 147px,#d1d1fa 147px 149px,#bebef8 149px 150px,#d1d1fa 150px 151px,#bebef8 151px 153px,#b5b5f7 153px 154px,#c8c8f9 154px 155px,#b5b5f7 155px 158px,#ececfd 158px 160px,#e3e3fc 160px 161px,#f6f6fe 161px 164px,#c8c8f9 164px 168px,#d1d1fa 168px 169px,#c8c8f9 169px 171px,#bebef8 171px 172px,#c8c8f9 172px 174px,#bebef8 174px 175px,#9999f4 175px 176px,#9090f3 176px 177px,#a2a2f5 177px 178px,#e3e3fc 178px 179px,#ececfd 179px 180px,#e3e3fc 180px 182px,#dadafb 182px 184px,#ececfd 184px 185px,#f6f6fe 185px 186px,#ffffff 186px 187px,#e3e3fc 187px 189px,#dadafb 189px 190px,#ececfd 190px 191px,#dadafb 191px 192px,#d1d1fa 192px 193px,#ececfd 193px 194px,#e3e3fc 194px 196px,#f6f6fe 196px 197px,#ececfd 197px 198px,#e3e3fc 198px 199px,#d1d1fa 199px 200px,#e3e3fc 200px 201px,#dadafb 201px 202px,#d1d1fa 202px 203px,#e3e3fc 203px 204px,#f6f6fe 204px 206px,#ececfd 206px 207px,#fce2e2 207px 208px,#fcd8d8 208px 210px,#fdecec 210px 211px,#f6f6fe 211px 212px,#ececfd 212px 213px,#f6f6fe 213px 215px,#ececfd 215px 216px,#ffffff 216px 217px,#fef5f5 217px 218px,#ffffff 218px 219px,#fdecec 219px 220px,#f69e9e 220px 221px,#f58b8b 221px 222px,#f69e9e 222px 223px,#f58b8b 223px 224px,#f48282 224px 227px,#f69595 227px 228px,#f16565 228px 230px,#f15b5b 230px 231px,#f16565 231px 232px,#f26e6e 232px 233px,#f37878 233px 234px,#f15b5b 234px 236px,#f8b2b2 236px 237px,#fac5c5 237px 238px,#fbcfcf 238px 239px,#fce2e2 239px 240px,#fcd8d8 240px 241px,#fdecec 241px 243px,#fef5f5 243px 244px,#fdecec 244px 245px,#fcd8d8 245px 247px,#fce2e2 247px 249px,#fbcfcf 249px 250px,#fac5c5 250px 251px,#fdecec 251px 252px,#acacf6 252px 253px,#a2a2f5 253px 255px,#acacf6 255px 256px,#ffffff 256px 257px,#fce2e2 257px 258px,#fef5f5 258px 259px,#fce2e2 259px 260px,#f9bbbb 260px 261px,#fbcfcf 261px 262px,#fce2e2 262px 263px,#fef5f5 263px 264px,#ffffff 264px 265px,#fdecec 265px 267px,#ffffff 267px 269px,#fdecec 269px 270px,#fcd8d8 270px 271px,#fdecec 271px 272px,#fef5f5 272px 273px,#fdecec 273px 274px,#fce2e2 274px 275px,#fac5c5 275px 276px,#fbcfcf 276px 278px,#fce2e2 278px 279px,#fac5c5 279px 281px,#f8b2b2 281px 282px,#f7a8a8 282px 283px,#f9bbbb 283px 284px,#fac5c5 284px 285px,#fcd8d8 285px 286px,#fbcfcf 286px 287px,#fce2e2 287px 288px,#fbcfcf 288px 290px,#fcd8d8 290px 291px,#fef5f5 291px 292px,#fdecec 292px 295px,#fef5f5 295px 296px,#fce2e2 296px 297px,#fef5f5 297px 298px,#fce2e2 298px 299px,#fdecec 299px 301px,#fce2e2 301px 302px,#fdecec 302px 305px,#fce2e2 305px 306px)"></div><div style="position:absolute;left:213.91px;top:259.9px;width:29.36px;height:305.9px;background:linear-gradient(#fef5f5 0px 2px,#fdecec 2px 3px,#fce2e2 3px 4px,#fcd8d8 4px 5px,#fbcfcf 5px 6px,#fcd8d8 6px 7px,#fbcfcf 7px 8px,#fcd8d8 8px 9px,#fce2e2 9px 10px,#fcd8d8 10px 11px,#fac5c5 11px 12px,#fce2e2 12px 15px,#fcd8d8 15px 16px,#ececfd 16px 17px,#e3e3fc 17px 18px,#ececfd 18px 21px,#f6f6fe 21px 22px,#ececfd 22px 23px,#e3e3fc 23px 24px,#f6f6fe 24px 25px,#ffffff 25px 26px,#e3e3fc 26px 27px,#c8c8f9 27px 28px,#bebef8 28px 29px,#e3e3fc 29px 30px,#ececfd 30px 31px,#dadafb 31px 32px,#b5b5f7 32px 33px,#c8c8f9 33px 34px,#dadafb 34px 35px,#c8c8f9 35px 36px,#e3e3fc 36px 37px,#dadafb 37px 38px,#d1d1fa 38px 39px,#c8c8f9 39px 40px,#dadafb 40px 41px,#c8c8f9 41px 42px,#dadafb 42px 43px,#c8c8f9 43px 44px,#bebef8 44px 45px,#acacf6 45px 48px,#e3e3fc 48px 49px,#f6f6fe 49px 51px,#ececfd 51px 54px,#f6f6fe 54px 55px,#ffffff 55px 56px,#ececfd 56px 57px,#e3e3fc 57px 58px,#dadafb 58px 59px,#c8c8f9 59px 60px,#ececfd 60px 62px,#f6f6fe 62px 63px,#e3e3fc 63px 64px,#ececfd 64px 66px,#f6f6fe 66px 67px,#ececfd 67px 68px,#e3e3fc 68px 69px,#ececfd 69px 72px,#f6f6fe 72px 73px,#ececfd 73px 74px,#f6f6fe 74px 77px,#e3e3fc 77px 78px,#dadafb 78px 79px,#f6f6fe 79px 80px,#fef5f5 80px 81px,#ffffff 81px 84px,#f6f6fe 84px 87px,#e3e3fc 87px 88px,#ffffff 88px 89px,#fdecec 89px 91px,#fce2e2 91px 92px,#f6f6fe 92px 93px,#ffffff 93px 94px,#fcd8d8 94px 95px,#fdecec 95px 96px,#fef5f5 96px 97px,#fcd8d8 97px 98px,#f6f6fe 98px 99px,#ffffff 99px 100px,#fef5f5 100px 102px,#ffffff 102px 104px,#f6f6fe 104px 106px,#fef5f5 106px 111px,#fbcfcf 111px 112px,#fdecec 112px 113px,#fce2e2 113px 115px,#f9bbbb 115px 116px,#fbcfcf 116px 117px,#fdecec 117px 120px,#fcd8d8 120px 121px,#fef5f5 121px 122px,#ffffff 122px 123px,#fdecec 123px 124px,#fef5f5 124px 125px,#ffffff 125px 128px,#fef5f5 128px 131px,#f6f6fe 131px 133px,#ffffff 133px 137px,#fef5f5 137px 138px,#f6f6fe 138px 139px,#ffffff 139px 141px,#f6f6fe 141px 143px,#ffffff 143px 144px,#fef5f5 144px 145px,#f6f6fe 145px 146px,#fef5f5 146px 147px,#fcd8d8 147px 148px,#fce2e2 148px 149px,#fef5f5 149px 150px,#ffffff 150px 151px,#fef5f5 151px 154px,#fce2e2 154px 155px,#fef5f5 155px 157px,#ffffff 157px 159px,#fce2e2 159px 162px,#fdecec 162px 163px,#fce2e2 163px 164px,#fac5c5 164px 167px,#f7a8a8 167px 168px,#fdecec 168px 169px,#fef5f5 169px 170px,#fdecec 170px 171px,#f6f6fe 171px 172px,#ffffff 172px 173px,#fef5f5 173px 174px,#fdecec 174px 177px,#fef5f5 177px 179px,#fdecec 179px 181px,#ffffff 181px 182px,#f6f6fe 182px 183px,#fdecec 183px 185px,#fcd8d8 185px 187px,#fce2e2 187px 189px,#fef5f5 189px 195px,#fce2e2 195px 196px,#fdecec 196px 198px,#fef5f5 198px 199px,#ffffff 199px 201px,#fef5f5 201px 202px,#ffffff 202px 203px,#fef5f5 203px 204px,#ffffff 204px 205px,#fef5f5 205px 207px,#fdecec 207px 208px,#fef5f5 208px 210px,#ffffff 210px 211px,#f6f6fe 211px 212px,#ffffff 212px 213px,#fce2e2 213px 214px,#fdecec 214px 215px,#fef5f5 215px 217px,#fdecec 217px 218px,#ffffff 218px 219px,#fef5f5 219px 220px,#f9bbbb 220px 221px,#f8b2b2 221px 224px,#f69e9e 224px 225px,#f58b8b 225px 227px,#f69595 227px 228px,#f69e9e 228px 230px,#f58b8b 230px 231px,#f48282 231px 232px,#f69595 232px 233px,#f58b8b 233px 234px,#f69595 234px 235px,#f8b2b2 235px 236px,#fef5f5 236px 237px,#f6f6fe 237px 238px,#ffffff 238px 243px,#ececfd 243px 244px,#f6f6fe 244px 247px,#fce2e2 247px 249px,#fcd8d8 249px 250px,#fbcfcf 250px 251px,#fac5c5 251px 252px,#fce2e2 252px 253px,#fcd8d8 253px 255px,#fce2e2 255px 256px,#fbcfcf 256px 257px,#fac5c5 257px 258px,#fef5f5 258px 259px,#e3e3fc 259px 260px,#dadafb 260px 261px,#e3e3fc 261px 262px,#dadafb 262px 264px,#e3e3fc 264px 265px,#f6f6fe 265px 266px,#e3e3fc 266px 268px,#ffffff 268px 270px,#ececfd 270px 271px,#f6f6fe 271px 273px,#ffffff 273px 274px,#f6f6fe 274px 275px,#ffffff 275px 276px,#fef5f5 276px 277px,#fdecec 277px 278px,#fef5f5 278px 280px,#fdecec 280px 282px,#fce2e2 282px 283px,#fef5f5 283px 284px,#fdecec 284px 285px,#fef5f5 285px 286px,#e3e3fc 286px 287px,#bebef8 287px 288px,#c8c8f9 288px 289px,#d1d1fa 289px 290px,#e3e3fc 290px 291px,#dadafb 291px 293px,#e3e3fc 293px 294px,#fef5f5 294px 296px,#ffffff 296px 298px,#fef5f5 298px 300px,#fdecec 300px 302px,#fce2e2 302px 303px,#fdecec 303px 304px,#ffffff 304px 305px,#fdecec 305px 306px)"></div><div style="position:absolute;left:242.91px;top:259.9px;width:29.36px;height:305.9px;background:linear-gradient(#ffffff 0px 1px,#fac5c5 1px 2px,#f8b2b2 2px 3px,#fac5c5 3px 4px,#fce2e2 4px 5px,#fdecec 5px 7px,#fef5f5 7px 8px,#ffffff 8px 9px,#fef5f5 9px 14px,#ececfd 14px 15px,#8787f2 15px 16px,#6b6bef 16px 17px,#9999f4 17px 18px,#acacf6 18px 19px,#dadafb 19px 20px,#f6f6fe 20px 22px,#ececfd 22px 23px,#ffffff 23px 24px,#e3e3fc 24px 25px,#f6f6fe 25px 26px,#ececfd 26px 27px,#dadafb 27px 28px,#b5b5f7 28px 29px,#c8c8f9 29px 31px,#d1d1fa 31px 32px,#acacf6 32px 35px,#c8c8f9 35px 36px,#dadafb 36px 37px,#e3e3fc 37px 40px,#dadafb 40px 42px,#d1d1fa 42px 44px,#dadafb 44px 45px,#e3e3fc 45px 47px,#b5b5f7 47px 48px,#bebef8 48px 49px,#d1d1fa 49px 50px,#c8c8f9 50px 51px,#bebef8 51px 52px,#c8c8f9 52px 53px,#acacf6 53px 54px,#8787f2 54px 55px,#acacf6 55px 56px,#c8c8f9 56px 57px,#acacf6 57px 58px,#bebef8 58px 60px,#f6f6fe 60px 67px,#ececfd 67px 69px,#f6f6fe 69px 70px,#ffffff 70px 71px,#fce2e2 71px 72px,#fcd8d8 72px 73px,#fdecec 73px 75px,#fef5f5 75px 79px,#fce2e2 79px 80px,#fef5f5 80px 81px,#d1d1fa 81px 82px,#bebef8 82px 83px,#dadafb 83px 85px,#c8c8f9 85px 86px,#d1d1fa 86px 87px,#dadafb 87px 88px,#d1d1fa 88px 89px,#e3e3fc 89px 90px,#fef5f5 90px 91px,#fdecec 91px 92px,#fce2e2 92px 93px,#fdecec 93px 94px,#fef5f5 94px 95px,#fce2e2 95px 99px,#ffffff 99px 101px,#fef5f5 101px 102px,#fdecec 102px 103px,#fef5f5 103px 104px,#ececfd 104px 105px,#f6f6fe 105px 106px,#fce2e2 106px 107px,#f9bbbb 107px 108px,#fbcfcf 108px 110px,#fce2e2 110px 113px,#fdecec 113px 114px,#fce2e2 114px 115px,#fbcfcf 115px 117px,#fcd8d8 117px 119px,#fce2e2 119px 120px,#fef5f5 120px 121px,#f6f6fe 121px 122px,#ececfd 122px 123px,#fef5f5 123px 124px,#ffffff 124px 125px,#f6f6fe 125px 127px,#e3e3fc 127px 128px,#ffffff 128px 130px,#fef5f5 130px 131px,#ececfd 131px 132px,#e3e3fc 132px 133px,#ececfd 133px 136px,#f6f6fe 136px 138px,#ffffff 138px 139px,#f6f6fe 139px 142px,#fdecec 142px 143px,#fef5f5 143px 144px,#fdecec 144px 145px,#fce2e2 145px 149px,#fcd8d8 149px 150px,#fce2e2 150px 151px,#fef5f5 151px 152px,#fce2e2 152px 154px,#fef5f5 154px 155px,#ffffff 155px 156px,#ececfd 156px 157px,#ffffff 157px 158px,#fce2e2 158px 159px,#f8b2b2 159px 161px,#fac5c5 161px 162px,#fcd8d8 162px 163px,#f8b2b2 163px 165px,#fac5c5 165px 166px,#f9bbbb 166px 167px,#fcd8d8 167px 168px,#fbcfcf 168px 169px,#fce2e2 169px 170px,#fef5f5 170px 171px,#ffffff 171px 172px,#fef5f5 172px 173px,#fdecec 173px 174px,#fcd8d8 174px 175px,#fdecec 175px 178px,#fef5f5 178px 179px,#fdecec 179px 180px,#fce2e2 180px 181px,#fdecec 181px 182px,#fef5f5 182px 183px,#fce2e2 183px 185px,#fcd8d8 185px 186px,#fdecec 186px 187px,#fce2e2 187px 188px,#fcd8d8 188px 189px,#fdecec 189px 190px,#fef5f5 190px 192px,#fce2e2 192px 193px,#fdecec 193px 194px,#fcd8d8 194px 195px,#fbcfcf 195px 196px,#fcd8d8 196px 197px,#fef5f5 197px 200px,#fce2e2 200px 202px,#fdecec 202px 204px,#fce2e2 204px 206px,#fcd8d8 206px 208px,#fce2e2 208px 209px,#fac5c5 209px 210px,#f7a8a8 210px 211px,#fcd8d8 211px 213px,#fac5c5 213px 216px,#f9bbbb 216px 217px,#fac5c5 217px 218px,#fbcfcf 218px 219px,#fdecec 219px 220px,#fce2e2 220px 221px,#fbcfcf 221px 222px,#f9bbbb 222px 225px,#f7a8a8 225px 226px,#f8b2b2 226px 227px,#fbcfcf 227px 228px,#f9bbbb 228px 229px,#fcd8d8 229px 230px,#fbcfcf 230px 231px,#f6f6fe 231px 233px,#fef5f5 233px 234px,#ffffff 234px 236px,#ececfd 236px 237px,#f6f6fe 237px 239px,#dadafb 239px 240px,#d1d1fa 240px 241px,#dadafb 241px 242px,#ececfd 242px 244px,#e3e3fc 244px 245px,#dadafb 245px 246px,#c8c8f9 246px 247px,#9999f4 247px 248px,#bebef8 248px 249px,#ececfd 249px 250px,#fac5c5 250px 251px,#f8b2b2 251px 253px,#fac5c5 253px 254px,#fbcfcf 254px 255px,#fdecec 255px 256px,#fef5f5 256px 257px,#ffffff 257px 259px,#f6f6fe 259px 261px,#ececfd 261px 262px,#f6f6fe 262px 263px,#e3e3fc 263px 265px,#ececfd 265px 267px,#f6f6fe 267px 269px,#ececfd 269px 270px,#f6f6fe 270px 271px,#dadafb 271px 272px,#e3e3fc 272px 273px,#ececfd 273px 274px,#ffffff 274px 275px,#fef5f5 275px 276px,#fcd8d8 276px 277px,#fdecec 277px 279px,#fbcfcf 279px 280px,#fce2e2 280px 281px,#fbcfcf 281px 282px,#fcd8d8 282px 283px,#fce2e2 283px 284px,#fcd8d8 284px 285px,#fac5c5 285px 286px,#fce2e2 286px 287px,#fcd8d8 287px 288px,#fce2e2 288px 289px,#fcd8d8 289px 290px,#fdecec 290px 291px,#fef5f5 291px 292px,#f6f6fe 292px 295px,#ececfd 295px 296px,#f6f6fe 296px 297px,#ececfd 297px 298px,#dadafb 298px 300px,#e3e3fc 300px 301px,#f6f6fe 301px 302px,#ececfd 302px 303px,#dadafb 303px 304px,#ececfd 304px 305px,#dadafb 305px 306px)"></div><div style="position:absolute;left:271.92px;top:259.9px;width:29.36px;height:305.9px;background:linear-gradient(#ffffff 0px 1px,#e3e3fc 1px 2px,#f6f6fe 2px 3px,#ffffff 3px 5px,#f6f6fe 5px 7px,#ffffff 7px 8px,#f6f6fe 8px 11px,#ffffff 11px 13px,#ececfd 13px 15px,#fef5f5 15px 16px,#fcd8d8 16px 17px,#fdecec 17px 18px,#ffffff 18px 20px,#fdecec 20px 21px,#fce2e2 21px 23px,#fcd8d8 23px 24px,#fdecec 24px 25px,#fef5f5 25px 26px,#ffffff 26px 29px,#fdecec 29px 35px,#fef5f5 35px 36px,#fce2e2 36px 39px,#fdecec 39px 41px,#fcd8d8 41px 42px,#fce2e2 42px 43px,#fef5f5 43px 44px,#fdecec 44px 45px,#fef5f5 45px 46px,#fdecec 46px 48px,#fcd8d8 48px 49px,#fce2e2 49px 50px,#fcd8d8 50px 52px,#fac5c5 52px 53px,#fdecec 53px 54px,#f6f6fe 54px 55px,#ececfd 55px 56px,#dadafb 56px 57px,#e3e3fc 57px 59px,#dadafb 59px 60px,#e3e3fc 60px 63px,#dadafb 63px 64px,#ececfd 64px 65px,#d1d1fa 65px 66px,#dadafb 66px 67px,#ececfd 67px 69px,#dadafb 69px 71px,#ececfd 71px 72px,#e3e3fc 72px 73px,#f6f6fe 73px 78px,#ececfd 78px 79px,#f6f6fe 79px 80px,#ffffff 80px 81px,#dadafb 81px 82px,#d1d1fa 82px 83px,#ececfd 83px 84px,#e3e3fc 84px 87px,#dadafb 87px 88px,#ececfd 88px 89px,#f6f6fe 89px 90px,#dadafb 90px 91px,#d1d1fa 91px 93px,#c8c8f9 93px 94px,#dadafb 94px 95px,#ececfd 95px 96px,#f6f6fe 96px 98px,#ececfd 98px 99px,#e3e3fc 99px 100px,#ececfd 100px 102px,#f6f6fe 102px 103px,#e3e3fc 103px 104px,#d1d1fa 104px 105px,#dadafb 105px 107px,#d1d1fa 107px 108px,#e3e3fc 108px 109px,#dadafb 109px 110px,#d1d1fa 110px 111px,#c8c8f9 111px 112px,#d1d1fa 112px 113px,#e3e3fc 113px 114px,#f6f6fe 114px 116px,#ffffff 116px 119px,#fef5f5 119px 120px,#fdecec 120px 121px,#fef5f5 121px 122px,#fdecec 122px 123px,#fef5f5 123px 125px,#fdecec 125px 128px,#fce2e2 128px 130px,#fef5f5 130px 132px,#f6f6fe 132px 133px,#fef5f5 133px 134px,#fdecec 134px 135px,#f6f6fe 135px 136px,#ffffff 136px 137px,#fef5f5 137px 138px,#fce2e2 138px 139px,#fdecec 139px 141px,#fce2e2 141px 142px,#fdecec 142px 143px,#fef5f5 143px 144px,#ffffff 144px 145px,#fef5f5 145px 146px,#ffffff 146px 147px,#fce2e2 147px 148px,#fdecec 148px 149px,#f6f6fe 149px 151px,#fef5f5 151px 152px,#fdecec 152px 153px,#fce2e2 153px 154px,#fdecec 154px 155px,#fef5f5 155px 156px,#f6f6fe 156px 158px,#fef5f5 158px 160px,#ececfd 160px 161px,#f6f6fe 161px 162px,#ffffff 162px 163px,#fef5f5 163px 164px,#bebef8 164px 165px,#9999f4 165px 166px,#9090f3 166px 168px,#a2a2f5 168px 169px,#9999f4 169px 170px,#c8c8f9 170px 171px,#e3e3fc 171px 172px,#ececfd 172px 173px,#ffffff 173px 174px,#f6f6fe 174px 175px,#ececfd 175px 176px,#e3e3fc 176px 178px,#ececfd 178px 180px,#f6f6fe 180px 181px,#ececfd 181px 183px,#f6f6fe 183px 187px,#e3e3fc 187px 188px,#ececfd 188px 189px,#d1d1fa 189px 190px,#c8c8f9 190px 191px,#b5b5f7 191px 192px,#c8c8f9 192px 193px,#ececfd 193px 194px,#f6f6fe 194px 196px,#ffffff 196px 197px,#f6f6fe 197px 198px,#ffffff 198px 199px,#fef5f5 199px 200px,#fdecec 200px 201px,#fef5f5 201px 203px,#ffffff 203px 206px,#fef5f5 206px 209px,#fdecec 209px 213px,#fcd8d8 213px 214px,#fdecec 214px 216px,#fbcfcf 216px 217px,#fcd8d8 217px 218px,#fce2e2 218px 219px,#bebef8 219px 220px,#b5b5f7 220px 221px,#ececfd 221px 222px,#fdecec 222px 224px,#fef5f5 224px 225px,#fdecec 225px 227px,#fef5f5 227px 228px,#fce2e2 228px 229px,#fdecec 229px 231px,#fcd8d8 231px 232px,#fdecec 232px 234px,#fef5f5 234px 236px,#ffffff 236px 237px,#fdecec 237px 238px,#fce2e2 238px 239px,#fdecec 239px 240px,#fcd8d8 240px 242px,#f8b2b2 242px 244px,#f69e9e 244px 246px,#f9bbbb 246px 247px,#fdecec 247px 249px,#fce2e2 249px 250px,#fef5f5 250px 251px,#ffffff 251px 252px,#fef5f5 252px 253px,#fdecec 253px 254px,#fef5f5 254px 255px,#fdecec 255px 256px,#fcd8d8 256px 257px,#fce2e2 257px 259px,#fef5f5 259px 263px,#ececfd 263px 264px,#ffffff 264px 265px,#fdecec 265px 267px,#fce2e2 267px 268px,#fdecec 268px 272px,#fce2e2 272px 273px,#fef5f5 273px 274px,#fdecec 274px 275px,#fbcfcf 275px 276px,#fcd8d8 276px 277px,#fbcfcf 277px 279px,#f9bbbb 279px 280px,#f8b2b2 280px 281px,#f9bbbb 281px 282px,#fac5c5 282px 283px,#fcd8d8 283px 284px,#f8b2b2 284px 285px,#f69e9e 285px 286px,#fac5c5 286px 287px,#f9bbbb 287px 288px,#f8b2b2 288px 289px,#fac5c5 289px 290px,#f9bbbb 290px 292px,#f69e9e 292px 293px,#f7a8a8 293px 294px,#fcd8d8 294px 295px,#fce2e2 295px 296px,#fac5c5 296px 297px,#f9bbbb 297px 298px,#fac5c5 298px 299px,#fbcfcf 299px 301px,#fce2e2 301px 302px,#fdecec 302px 303px,#fce2e2 303px 304px,#fcd8d8 304px 306px)"></div><div style="position:absolute;left:300.93px;top:259.9px;width:29.36px;height:305.9px;background:linear-gradient(#ececfd 0px 1px,#fce2e2 1px 2px,#fbcfcf 2px 3px,#fce2e2 3px 4px,#fdecec 4px 7px,#fef5f5 7px 8px,#f6f6fe 8px 9px,#fef5f5 9px 10px,#ffffff 10px 15px,#f6f6fe 15px 16px,#bebef8 16px 17px,#dadafb 17px 20px,#e3e3fc 20px 22px,#dadafb 22px 23px,#d1d1fa 23px 24px,#dadafb 24px 25px,#ececfd 25px 26px,#f6f6fe 26px 27px,#e3e3fc 27px 31px,#ececfd 31px 33px,#e3e3fc 33px 34px,#dadafb 34px 36px,#e3e3fc 36px 37px,#ececfd 37px 40px,#e3e3fc 40px 41px,#f6f6fe 41px 42px,#e3e3fc 42px 43px,#dadafb 43px 44px,#ececfd 44px 45px,#ffffff 45px 46px,#fef5f5 46px 47px,#fdecec 47px 49px,#fef5f5 49px 53px,#ffffff 53px 54px,#d1d1fa 54px 55px,#e3e3fc 55px 56px,#ececfd 56px 57px,#b5b5f7 57px 58px,#ececfd 58px 59px,#fdecec 59px 61px,#fce2e2 61px 62px,#fdecec 62px 63px,#f6f6fe 63px 64px,#fef5f5 64px 65px,#fdecec 65px 68px,#fce2e2 68px 70px,#fef5f5 70px 74px,#fdecec 74px 75px,#fce2e2 75px 76px,#fef5f5 76px 77px,#ffffff 77px 79px,#fef5f5 79px 80px,#fce2e2 80px 81px,#fdecec 81px 82px,#fce2e2 82px 83px,#fcd8d8 83px 84px,#fce2e2 84px 85px,#fef5f5 85px 87px,#fdecec 87px 89px,#fce2e2 89px 92px,#fdecec 92px 93px,#fef5f5 93px 94px,#fdecec 94px 95px,#fce2e2 95px 96px,#fcd8d8 96px 97px,#fce2e2 97px 99px,#fcd8d8 99px 100px,#fce2e2 100px 102px,#fcd8d8 102px 103px,#fdecec 103px 104px,#fef5f5 104px 105px,#ffffff 105px 106px,#fef5f5 106px 107px,#fdecec 107px 108px,#fcd8d8 108px 109px,#fbcfcf 109px 112px,#fce2e2 112px 114px,#fdecec 114px 115px,#fce2e2 115px 116px,#fef5f5 116px 117px,#ececfd 117px 119px,#e3e3fc 119px 120px,#ececfd 120px 122px,#dadafb 122px 123px,#ececfd 123px 124px,#f6f6fe 124px 126px,#ffffff 126px 127px,#fdecec 127px 128px,#fce2e2 128px 130px,#fcd8d8 130px 131px,#fdecec 131px 132px,#ffffff 132px 134px,#fef5f5 134px 136px,#fdecec 136px 137px,#fef5f5 137px 139px,#fdecec 139px 140px,#ffffff 140px 142px,#fdecec 142px 144px,#fef5f5 144px 147px,#fdecec 147px 149px,#ffffff 149px 151px,#fdecec 151px 152px,#fef5f5 152px 153px,#ffffff 153px 154px,#fef5f5 154px 156px,#ffffff 156px 158px,#f6f6fe 158px 159px,#c8c8f9 159px 160px,#e3e3fc 160px 161px,#f6f6fe 161px 163px,#ffffff 163px 164px,#f6f6fe 164px 165px,#ffffff 165px 166px,#ececfd 166px 167px,#c8c8f9 167px 168px,#fef5f5 168px 169px,#fce2e2 169px 170px,#fdecec 170px 171px,#ffffff 171px 173px,#fef5f5 173px 176px,#fdecec 176px 177px,#fef5f5 177px 178px,#fce2e2 178px 179px,#fef5f5 179px 180px,#ffffff 180px 181px,#fef5f5 181px 183px,#fdecec 183px 184px,#fce2e2 184px 185px,#fdecec 185px 186px,#fce2e2 186px 187px,#fdecec 187px 192px,#bebef8 192px 193px,#acacf6 193px 194px,#bebef8 194px 195px,#ffffff 195px 196px,#fef5f5 196px 200px,#ffffff 200px 201px,#f6f6fe 201px 202px,#ffffff 202px 204px,#fef5f5 204px 205px,#fce2e2 205px 206px,#fcd8d8 206px 207px,#fce2e2 207px 208px,#fef5f5 208px 209px,#fce2e2 209px 210px,#fdecec 210px 211px,#fef5f5 211px 212px,#fdecec 212px 213px,#fef5f5 213px 215px,#fdecec 215px 216px,#fef5f5 216px 217px,#fdecec 217px 218px,#fef5f5 218px 219px,#ececfd 219px 220px,#c8c8f9 220px 221px,#f6f6fe 221px 223px,#ffffff 223px 224px,#fdecec 224px 225px,#fce2e2 225px 227px,#ffffff 227px 228px,#ececfd 228px 230px,#fef5f5 230px 232px,#fdecec 232px 234px,#ffffff 234px 236px,#fdecec 236px 239px,#fef5f5 239px 240px,#fdecec 240px 241px,#fef5f5 241px 243px,#fdecec 243px 244px,#fce2e2 244px 245px,#fdecec 245px 246px,#f6f6fe 246px 247px,#8787f2 247px 248px,#6b6bef 248px 249px,#7e7ef1 249px 251px,#7474f0 251px 252px,#6262ee 252px 253px,#7e7ef1 253px 254px,#c8c8f9 254px 255px,#dadafb 255px 256px,#ffffff 256px 257px,#f6f6fe 257px 258px,#e3e3fc 258px 259px,#f6f6fe 259px 261px,#e3e3fc 261px 262px,#ececfd 262px 264px,#d1d1fa 264px 266px,#ececfd 266px 267px,#e3e3fc 267px 268px,#ececfd 268px 269px,#e3e3fc 269px 270px,#dadafb 270px 271px,#f6f6fe 271px 274px,#e3e3fc 274px 275px,#bebef8 275px 276px,#c8c8f9 276px 277px,#dadafb 277px 278px,#bebef8 278px 279px,#e3e3fc 279px 281px,#d1d1fa 281px 282px,#bebef8 282px 284px,#d1d1fa 284px 285px,#dadafb 285px 286px,#acacf6 286px 287px,#9999f4 287px 288px,#acacf6 288px 289px,#dadafb 289px 291px,#e3e3fc 291px 292px,#d1d1fa 292px 295px,#e3e3fc 295px 297px,#d1d1fa 297px 298px,#dadafb 298px 299px,#d1d1fa 299px 300px,#dadafb 300px 301px,#d1d1fa 301px 302px,#c8c8f9 302px 303px,#bebef8 303px 305px,#c8c8f9 305px 306px)"></div><div style="position:absolute;left:329.93px;top:259.9px;width:29.36px;height:305.9px;background:linear-gradient(#ffffff 0px 1px,#fdecec 1px 5px,#fce2e2 5px 8px,#fdecec 8px 9px,#fef5f5 9px 10px,#fdecec 10px 13px,#fce2e2 13px 15px,#fdecec 15px 16px,#fcd8d8 16px 17px,#fdecec 17px 18px,#ffffff 18px 19px,#f6f6fe 19px 20px,#ffffff 20px 21px,#fdecec 21px 22px,#fef5f5 22px 23px,#fdecec 23px 24px,#fce2e2 24px 25px,#fcd8d8 25px 26px,#fbcfcf 26px 27px,#fce2e2 27px 28px,#fdecec 28px 29px,#fce2e2 29px 30px,#fef5f5 30px 31px,#fdecec 31px 32px,#fcd8d8 32px 33px,#fce2e2 33px 34px,#fdecec 34px 35px,#fef5f5 35px 36px,#fdecec 36px 38px,#fef5f5 38px 40px,#fdecec 40px 43px,#fce2e2 43px 44px,#fdecec 44px 47px,#fef5f5 47px 48px,#fce2e2 48px 49px,#fdecec 49px 50px,#fef5f5 50px 53px,#f6f6fe 53px 54px,#ffffff 54px 56px,#e3e3fc 56px 57px,#bebef8 57px 58px,#ffffff 58px 59px,#fdecec 59px 61px,#fce2e2 61px 62px,#fef5f5 62px 63px,#fdecec 63px 64px,#fce2e2 64px 65px,#fdecec 65px 66px,#fef5f5 66px 70px,#fdecec 70px 71px,#fef5f5 71px 72px,#fdecec 72px 73px,#fce2e2 73px 74px,#fcd8d8 74px 75px,#f9bbbb 75px 76px,#fcd8d8 76px 77px,#fef5f5 77px 79px,#f6f6fe 79px 80px,#ffffff 80px 81px,#f6f6fe 81px 82px,#ececfd 82px 83px,#f6f6fe 83px 84px,#ffffff 84px 86px,#f6f6fe 86px 88px,#ffffff 88px 90px,#fef5f5 90px 91px,#f6f6fe 91px 92px,#ececfd 92px 93px,#dadafb 93px 95px,#f6f6fe 95px 96px,#fdecec 96px 97px,#fce2e2 97px 98px,#fdecec 98px 99px,#ffffff 99px 101px,#f6f6fe 101px 105px,#ffffff 105px 107px,#f6f6fe 107px 110px,#ffffff 110px 111px,#f6f6fe 111px 114px,#ffffff 114px 119px,#ececfd 119px 122px,#f6f6fe 122px 124px,#ececfd 124px 126px,#fce2e2 126px 127px,#fdecec 127px 128px,#fcd8d8 128px 129px,#fbcfcf 129px 131px,#fdecec 131px 132px,#fce2e2 132px 133px,#fdecec 133px 134px,#fcd8d8 134px 135px,#fdecec 135px 138px,#fce2e2 138px 139px,#fac5c5 139px 140px,#fcd8d8 140px 142px,#fbcfcf 142px 144px,#fcd8d8 144px 145px,#fac5c5 145px 146px,#fcd8d8 146px 147px,#fbcfcf 147px 150px,#fce2e2 150px 152px,#fcd8d8 152px 153px,#fdecec 153px 157px,#fef5f5 157px 158px,#fbcfcf 158px 159px,#fac5c5 159px 162px,#fce2e2 162px 163px,#fdecec 163px 164px,#a2a2f5 164px 165px,#8787f2 165px 166px,#7e7ef1 166px 167px,#9090f3 167px 168px,#d1d1fa 168px 169px,#c8c8f9 169px 170px,#ececfd 170px 172px,#dadafb 172px 173px,#e3e3fc 173px 174px,#ececfd 174px 175px,#dadafb 175px 177px,#e3e3fc 177px 178px,#dadafb 178px 179px,#d1d1fa 179px 181px,#c8c8f9 181px 183px,#dadafb 183px 187px,#e3e3fc 187px 188px,#f6f6fe 188px 189px,#dadafb 189px 190px,#e3e3fc 190px 192px,#c8c8f9 192px 193px,#d1d1fa 193px 194px,#ececfd 194px 196px,#dadafb 196px 197px,#d1d1fa 197px 199px,#ececfd 199px 201px,#e3e3fc 201px 202px,#c8c8f9 202px 204px,#e3e3fc 204px 205px,#dadafb 205px 206px,#ececfd 206px 209px,#f6f6fe 209px 211px,#ececfd 211px 212px,#d1d1fa 212px 213px,#dadafb 213px 215px,#e3e3fc 215px 216px,#d1d1fa 216px 217px,#e3e3fc 217px 219px,#ececfd 219px 220px,#f6f6fe 220px 221px,#ffffff 221px 224px,#fef5f5 224px 225px,#fdecec 225px 226px,#fef5f5 226px 227px,#ffffff 227px 228px,#fef5f5 228px 229px,#ececfd 229px 230px,#fdecec 230px 231px,#fcd8d8 231px 232px,#fef5f5 232px 234px,#ffffff 234px 236px,#fef5f5 236px 238px,#ffffff 238px 240px,#fef5f5 240px 241px,#fdecec 241px 242px,#ffffff 242px 243px,#f6f6fe 243px 244px,#fef5f5 244px 245px,#f6f6fe 245px 246px,#ffffff 246px 247px,#fef5f5 247px 248px,#fdecec 248px 249px,#fce2e2 249px 250px,#fcd8d8 250px 251px,#fdecec 251px 252px,#fef5f5 252px 253px,#fce2e2 253px 254px,#fdecec 254px 255px,#fef5f5 255px 257px,#fdecec 257px 259px,#ffffff 259px 261px,#fef5f5 261px 266px,#fdecec 266px 267px,#fef5f5 267px 268px,#fce2e2 268px 269px,#fdecec 269px 270px,#ffffff 270px 271px,#f6f6fe 271px 272px,#ffffff 272px 273px,#fdecec 273px 277px,#fef5f5 277px 278px,#fce2e2 278px 279px,#fdecec 279px 280px,#fce2e2 280px 282px,#fcd8d8 282px 283px,#fef5f5 283px 284px,#fdecec 284px 285px,#fce2e2 285px 286px,#ffffff 286px 287px,#ececfd 287px 288px,#ffffff 288px 289px,#fdecec 289px 293px,#fce2e2 293px 294px,#fdecec 294px 295px,#fce2e2 295px 296px,#fdecec 296px 297px,#ececfd 297px 298px,#f6f6fe 298px 299px,#ffffff 299px 300px,#fef5f5 300px 301px,#fdecec 301px 302px,#fef5f5 302px 303px,#ffffff 303px 304px,#f6f6fe 304px 305px,#fdecec 305px 306px)"></div><div style="position:absolute;left:358.94px;top:259.9px;width:29.36px;height:305.9px;background:linear-gradient(#ececfd 0px 1px,#ffffff 1px 2px,#fef5f5 2px 4px,#fdecec 4px 5px,#ffffff 5px 7px,#fdecec 7px 11px,#fef5f5 11px 16px,#fce2e2 16px 18px,#ffffff 18px 20px,#fef5f5 20px 21px,#fce2e2 21px 23px,#fbcfcf 23px 24px,#fcd8d8 24px 25px,#fdecec 25px 26px,#fce2e2 26px 27px,#fdecec 27px 28px,#fef5f5 28px 29px,#ffffff 29px 31px,#f6f6fe 31px 32px,#c8c8f9 32px 33px,#d1d1fa 33px 34px,#fef5f5 34px 35px,#fce2e2 35px 36px,#fdecec 36px 39px,#fef5f5 39px 41px,#fce2e2 41px 42px,#f7a8a8 42px 44px,#fce2e2 44px 45px,#fdecec 45px 47px,#ffffff 47px 48px,#fdecec 48px 52px,#fef5f5 52px 53px,#f6f6fe 53px 54px,#ffffff 54px 55px,#fef5f5 55px 56px,#fce2e2 56px 57px,#fdecec 57px 58px,#fef5f5 58px 60px,#ffffff 60px 61px,#fef5f5 61px 62px,#fdecec 62px 63px,#f6f6fe 63px 64px,#ffffff 64px 67px,#fef5f5 67px 69px,#fdecec 69px 70px,#f6f6fe 70px 71px,#ffffff 71px 72px,#fef5f5 72px 74px,#fdecec 74px 77px,#fef5f5 77px 81px,#fdecec 81px 82px,#fef5f5 82px 85px,#fdecec 85px 86px,#fce2e2 86px 87px,#fef5f5 87px 88px,#fdecec 88px 89px,#fef5f5 89px 91px,#fdecec 91px 95px,#fef5f5 95px 96px,#ffffff 96px 97px,#fef5f5 97px 101px,#fdecec 101px 102px,#fce2e2 102px 103px,#fdecec 103px 104px,#f6f6fe 104px 105px,#ffffff 105px 106px,#fef5f5 106px 108px,#fdecec 108px 109px,#e3e3fc 109px 110px,#dadafb 110px 111px,#f6f6fe 111px 112px,#e3e3fc 112px 113px,#d1d1fa 113px 114px,#fef5f5 114px 115px,#fce2e2 115px 116px,#fdecec 116px 117px,#ffffff 117px 119px,#fce2e2 119px 121px,#fdecec 121px 123px,#fce2e2 123px 124px,#fdecec 124px 127px,#fce2e2 127px 129px,#fdecec 129px 131px,#fef5f5 131px 132px,#fce2e2 132px 133px,#fdecec 133px 134px,#fce2e2 134px 135px,#fdecec 135px 139px,#fef5f5 139px 140px,#ffffff 140px 141px,#fef5f5 141px 142px,#fce2e2 142px 144px,#f6f6fe 144px 145px,#c8c8f9 145px 146px,#bebef8 146px 147px,#c8c8f9 147px 148px,#d1d1fa 148px 149px,#b5b5f7 149px 150px,#bebef8 150px 152px,#b5b5f7 152px 153px,#bebef8 153px 154px,#d1d1fa 154px 155px,#dadafb 155px 156px,#ececfd 156px 157px,#f6f6fe 157px 159px,#ececfd 159px 161px,#dadafb 161px 162px,#ececfd 162px 163px,#ffffff 163px 166px,#fef5f5 166px 167px,#f9bbbb 167px 168px,#fce2e2 168px 170px,#fef5f5 170px 172px,#fdecec 172px 173px,#fcd8d8 173px 174px,#fdecec 174px 175px,#fef5f5 175px 176px,#fdecec 176px 177px,#fef5f5 177px 178px,#fdecec 178px 179px,#fef5f5 179px 181px,#ffffff 181px 183px,#fef5f5 183px 185px,#fdecec 185px 186px,#fcd8d8 186px 187px,#fdecec 187px 188px,#fef5f5 188px 189px,#fdecec 189px 190px,#fce2e2 190px 191px,#fef5f5 191px 192px,#ffffff 192px 193px,#fef5f5 193px 194px,#fce2e2 194px 196px,#fdecec 196px 197px,#fef5f5 197px 198px,#fdecec 198px 200px,#fcd8d8 200px 201px,#fdecec 201px 203px,#fef5f5 203px 206px,#fce2e2 206px 207px,#fbcfcf 207px 208px,#fce2e2 208px 209px,#fef5f5 209px 210px,#fce2e2 210px 212px,#f6f6fe 212px 213px,#fef5f5 213px 214px,#fdecec 214px 216px,#fef5f5 216px 217px,#fdecec 217px 218px,#fce2e2 218px 219px,#fef5f5 219px 220px,#d1d1fa 220px 221px,#f6f6fe 221px 223px,#fef5f5 223px 225px,#fce2e2 225px 226px,#ffffff 226px 229px,#fef5f5 229px 230px,#ffffff 230px 233px,#fef5f5 233px 234px,#fdecec 234px 235px,#fef5f5 235px 237px,#ffffff 237px 239px,#fef5f5 239px 241px,#ffffff 241px 243px,#fdecec 243px 244px,#fef5f5 244px 245px,#fdecec 245px 247px,#8787f2 247px 248px,#7474f0 248px 249px,#7e7ef1 249px 251px,#9090f3 251px 252px,#9999f4 252px 254px,#8787f2 254px 255px,#9090f3 255px 256px,#ececfd 256px 257px,#fef5f5 257px 259px,#ffffff 259px 263px,#fef5f5 263px 265px,#fdecec 265px 267px,#ffffff 267px 268px,#ececfd 268px 269px,#fef5f5 269px 271px,#ececfd 271px 272px,#ffffff 272px 273px,#fef5f5 273px 274px,#f6f6fe 274px 276px,#ffffff 276px 278px,#f6f6fe 278px 279px,#fef5f5 279px 280px,#fdecec 280px 282px,#fce2e2 282px 283px,#fdecec 283px 284px,#fcd8d8 284px 286px,#ffffff 286px 288px,#fdecec 288px 289px,#f8b2b2 289px 291px,#ffffff 291px 292px,#f6f6fe 292px 293px,#fef5f5 293px 294px,#ffffff 294px 295px,#ececfd 295px 297px,#e3e3fc 297px 298px,#ececfd 298px 299px,#e3e3fc 299px 300px,#ffffff 300px 301px,#fdecec 301px 303px,#ffffff 303px 304px,#f6f6fe 304px 306px)"></div><div style="position:absolute;left:387.94px;top:259.9px;width:29.36px;height:305.9px;background:linear-gradient(#fef5f5 0px 1px,#f9bbbb 1px 3px,#fcd8d8 3px 4px,#fac5c5 4px 5px,#fcd8d8 5px 7px,#fbcfcf 7px 8px,#fcd8d8 8px 9px,#fce2e2 9px 10px,#fdecec 10px 11px,#fce2e2 11px 13px,#fef5f5 13px 14px,#f6f6fe 14px 15px,#c8c8f9 15px 17px,#f6f6fe 17px 18px,#ececfd 18px 19px,#f6f6fe 19px 20px,#fef5f5 20px 21px,#ffffff 21px 22px,#f6f6fe 22px 24px,#fef5f5 24px 26px,#fdecec 26px 28px,#ffffff 28px 29px,#fef5f5 29px 30px,#ffffff 30px 33px,#fdecec 33px 34px,#fef5f5 34px 35px,#fdecec 35px 36px,#fcd8d8 36px 37px,#fce2e2 37px 39px,#fef5f5 39px 40px,#e3e3fc 40px 42px,#fdecec 42px 43px,#fcd8d8 43px 44px,#fdecec 44px 46px,#fcd8d8 46px 47px,#fbcfcf 47px 48px,#fcd8d8 48px 49px,#fdecec 49px 50px,#fbcfcf 50px 51px,#fce2e2 51px 52px,#fdecec 52px 53px,#fef5f5 53px 54px,#fcd8d8 54px 55px,#f7a8a8 55px 57px,#fbcfcf 57px 58px,#fce2e2 58px 60px,#fbcfcf 60px 61px,#fcd8d8 61px 62px,#fac5c5 62px 63px,#fbcfcf 63px 66px,#f9bbbb 66px 67px,#fbcfcf 67px 68px,#fce2e2 68px 69px,#fcd8d8 69px 71px,#fef5f5 71px 72px,#fdecec 72px 74px,#fef5f5 74px 79px,#fdecec 79px 80px,#fce2e2 80px 82px,#fdecec 82px 83px,#fce2e2 83px 84px,#fef5f5 84px 86px,#fdecec 86px 87px,#fbcfcf 87px 88px,#fcd8d8 88px 89px,#fdecec 89px 90px,#fce2e2 90px 91px,#fbcfcf 91px 92px,#fce2e2 92px 93px,#fdecec 93px 95px,#fce2e2 95px 96px,#fbcfcf 96px 97px,#fac5c5 97px 98px,#fbcfcf 98px 101px,#fac5c5 101px 103px,#f9bbbb 103px 104px,#fac5c5 104px 105px,#fbcfcf 105px 107px,#fcd8d8 107px 109px,#fce2e2 109px 111px,#fbcfcf 111px 112px,#fac5c5 112px 113px,#fce2e2 113px 114px,#fdecec 114px 116px,#fef5f5 116px 117px,#fdecec 117px 118px,#fce2e2 118px 119px,#fcd8d8 119px 120px,#fbcfcf 120px 121px,#fdecec 121px 122px,#fef5f5 122px 123px,#fce2e2 123px 124px,#fdecec 124px 126px,#fce2e2 126px 129px,#fef5f5 129px 131px,#ffffff 131px 132px,#f6f6fe 132px 133px,#ffffff 133px 134px,#fce2e2 134px 135px,#fef5f5 135px 137px,#fdecec 137px 138px,#fce2e2 138px 140px,#fdecec 140px 142px,#fce2e2 142px 144px,#fef5f5 144px 146px,#ffffff 146px 147px,#fce2e2 147px 148px,#fcd8d8 148px 149px,#fce2e2 149px 151px,#ffffff 151px 152px,#fef5f5 152px 153px,#dadafb 153px 154px,#ffffff 154px 155px,#fdecec 155px 156px,#ffffff 156px 157px,#f6f6fe 157px 158px,#fef5f5 158px 159px,#fce2e2 159px 160px,#ffffff 160px 161px,#f6f6fe 161px 163px,#fef5f5 163px 164px,#fdecec 164px 165px,#fef5f5 165px 166px,#fdecec 166px 167px,#fac5c5 167px 168px,#ffffff 168px 169px,#d1d1fa 169px 170px,#ececfd 170px 171px,#e3e3fc 171px 172px,#f6f6fe 172px 174px,#ececfd 174px 175px,#f6f6fe 175px 179px,#ececfd 179px 180px,#dadafb 180px 181px,#e3e3fc 181px 182px,#ececfd 182px 183px,#e3e3fc 183px 184px,#f6f6fe 184px 186px,#e3e3fc 186px 187px,#d1d1fa 187px 188px,#ececfd 188px 190px,#dadafb 190px 192px,#ececfd 192px 193px,#f6f6fe 193px 195px,#ffffff 195px 196px,#f6f6fe 196px 197px,#ececfd 197px 198px,#e3e3fc 198px 200px,#d1d1fa 200px 201px,#dadafb 201px 202px,#c8c8f9 202px 203px,#d1d1fa 203px 205px,#bebef8 205px 206px,#b5b5f7 206px 208px,#bebef8 208px 209px,#dadafb 209px 210px,#c8c8f9 210px 214px,#bebef8 214px 215px,#dadafb 215px 217px,#d1d1fa 217px 218px,#dadafb 218px 219px,#d1d1fa 219px 220px,#a2a2f5 220px 221px,#bebef8 221px 222px,#d1d1fa 222px 223px,#e3e3fc 223px 226px,#dadafb 226px 227px,#c8c8f9 227px 228px,#dadafb 228px 229px,#e3e3fc 229px 231px,#d1d1fa 231px 233px,#c8c8f9 233px 235px,#dadafb 235px 236px,#bebef8 236px 237px,#acacf6 237px 238px,#bebef8 238px 239px,#dadafb 239px 240px,#ececfd 240px 242px,#fac5c5 242px 244px,#fbcfcf 244px 246px,#fef5f5 246px 247px,#9090f3 247px 248px,#6262ee 248px 249px,#7474f0 249px 250px,#7e7ef1 250px 251px,#6b6bef 251px 253px,#7e7ef1 253px 254px,#d1d1fa 254px 255px,#e3e3fc 255px 256px,#ececfd 256px 258px,#e3e3fc 258px 259px,#c8c8f9 259px 260px,#ececfd 260px 261px,#f6f6fe 261px 262px,#ffffff 262px 263px,#ececfd 263px 264px,#d1d1fa 264px 265px,#e3e3fc 265px 266px,#dadafb 266px 268px,#e3e3fc 268px 269px,#ececfd 269px 270px,#d1d1fa 270px 271px,#e3e3fc 271px 274px,#d1d1fa 274px 275px,#c8c8f9 275px 276px,#bebef8 276px 277px,#acacf6 277px 278px,#c8c8f9 278px 279px,#dadafb 279px 280px,#e3e3fc 280px 281px,#d1d1fa 281px 282px,#bebef8 282px 283px,#dadafb 283px 284px,#ececfd 284px 285px,#e3e3fc 285px 286px,#dadafb 286px 288px,#d1d1fa 288px 290px,#ececfd 290px 291px,#dadafb 291px 292px,#ececfd 292px 293px,#e3e3fc 293px 294px,#ececfd 294px 295px,#f6f6fe 295px 296px,#ececfd 296px 297px,#e3e3fc 297px 298px,#f6f6fe 298px 300px,#ececfd 300px 301px,#bebef8 301px 302px,#b5b5f7 302px 303px,#e3e3fc 303px 304px,#ececfd 304px 305px,#e3e3fc 305px 306px)"></div><div style="position:absolute;left:416.95px;top:259.9px;width:29.36px;height:305.9px;background:linear-gradient(#fdecec 0px 1px,#f9bbbb 1px 3px,#fbcfcf 3px 5px,#fcd8d8 5px 6px,#fac5c5 6px 7px,#fbcfcf 7px 8px,#fdecec 8px 10px,#fce2e2 10px 11px,#fac5c5 11px 12px,#fce2e2 12px 13px,#fcd8d8 13px 15px,#fce2e2 15px 17px,#fef5f5 17px 18px,#f6f6fe 18px 19px,#fdecec 19px 22px,#fef5f5 22px 23px,#ffffff 23px 25px,#fcd8d8 25px 27px,#fef5f5 27px 28px,#f6f6fe 28px 29px,#ffffff 29px 32px,#e3e3fc 32px 33px,#ffffff 33px 36px,#fef5f5 36px 40px,#fce2e2 40px 41px,#fcd8d8 41px 42px,#fdecec 42px 43px,#fef5f5 43px 44px,#fdecec 44px 46px,#fef5f5 46px 47px,#d1d1fa 47px 48px,#c8c8f9 48px 49px,#f6f6fe 49px 50px,#fce2e2 50px 51px,#ffffff 51px 54px,#fdecec 54px 55px,#f8b2b2 55px 56px,#f7a8a8 56px 57px,#fce2e2 57px 58px,#fef5f5 58px 59px,#ffffff 59px 60px,#fdecec 60px 62px,#fce2e2 62px 63px,#fef5f5 63px 64px,#fdecec 64px 65px,#fce2e2 65px 66px,#fdecec 66px 67px,#fef5f5 67px 69px,#fce2e2 69px 71px,#fdecec 71px 73px,#fef5f5 73px 75px,#fdecec 75px 79px,#fcd8d8 79px 80px,#fac5c5 80px 81px,#fcd8d8 81px 82px,#fce2e2 82px 86px,#fdecec 86px 87px,#fef5f5 87px 88px,#fce2e2 88px 90px,#fef5f5 90px 91px,#fdecec 91px 93px,#fef5f5 93px 94px,#fdecec 94px 96px,#fce2e2 96px 98px,#fdecec 98px 100px,#fef5f5 100px 101px,#ffffff 101px 102px,#fef5f5 102px 104px,#f6f6fe 104px 105px,#fef5f5 105px 106px,#fdecec 106px 108px,#fef5f5 108px 110px,#ffffff 110px 111px,#fdecec 111px 112px,#ffffff 112px 114px,#fdecec 114px 115px,#fcd8d8 115px 116px,#fdecec 116px 117px,#ffffff 117px 118px,#fdecec 118px 121px,#ffffff 121px 122px,#fef5f5 122px 124px,#ececfd 124px 125px,#ffffff 125px 126px,#fdecec 126px 128px,#fef5f5 128px 129px,#fdecec 129px 130px,#fce2e2 130px 131px,#fef5f5 131px 132px,#ececfd 132px 133px,#ffffff 133px 136px,#fdecec 136px 139px,#ffffff 139px 141px,#fef5f5 141px 142px,#f6f6fe 142px 143px,#ffffff 143px 145px,#f6f6fe 145px 146px,#ffffff 146px 147px,#fce2e2 147px 149px,#fef5f5 149px 152px,#f6f6fe 152px 153px,#ffffff 153px 154px,#fdecec 154px 157px,#fce2e2 157px 158px,#fdecec 158px 159px,#ffffff 159px 160px,#f6f6fe 160px 163px,#fdecec 163px 164px,#fef5f5 164px 167px,#fdecec 167px 169px,#ffffff 169px 170px,#fef5f5 170px 171px,#fdecec 171px 172px,#fef5f5 172px 173px,#ffffff 173px 175px,#ececfd 175px 177px,#f6f6fe 177px 178px,#ececfd 178px 180px,#e3e3fc 180px 182px,#ececfd 182px 184px,#f6f6fe 184px 185px,#ececfd 185px 186px,#f6f6fe 186px 189px,#ffffff 189px 190px,#fef5f5 190px 191px,#ffffff 191px 193px,#fdecec 193px 195px,#ffffff 195px 196px,#f6f6fe 196px 197px,#ffffff 197px 199px,#f6f6fe 199px 200px,#ececfd 200px 202px,#d1d1fa 202px 203px,#e3e3fc 203px 205px,#ececfd 205px 206px,#ffffff 206px 207px,#fdecec 207px 208px,#f6f6fe 208px 209px,#fbcfcf 209px 210px,#fac5c5 210px 211px,#fcd8d8 211px 213px,#fac5c5 213px 214px,#fcd8d8 214px 216px,#fbcfcf 216px 217px,#fac5c5 217px 219px,#fce2e2 219px 220px,#e3e3fc 220px 221px,#bebef8 221px 223px,#e3e3fc 223px 225px,#bebef8 225px 226px,#d1d1fa 226px 227px,#c8c8f9 227px 228px,#bebef8 228px 230px,#c8c8f9 230px 231px,#b5b5f7 231px 232px,#c8c8f9 232px 233px,#dadafb 233px 234px,#d1d1fa 234px 235px,#c8c8f9 235px 236px,#ffffff 236px 237px,#fef5f5 237px 238px,#fdecec 238px 239px,#fce2e2 239px 240px,#fdecec 240px 241px,#fce2e2 241px 243px,#fdecec 243px 244px,#fcd8d8 244px 246px,#fef5f5 246px 247px,#9999f4 247px 248px,#8787f2 248px 250px,#9090f3 250px 253px,#a2a2f5 253px 254px,#8787f2 254px 256px,#e3e3fc 256px 257px,#f6f6fe 257px 258px,#ffffff 258px 259px,#fef5f5 259px 261px,#f6f6fe 261px 262px,#ffffff 262px 264px,#fef5f5 264px 265px,#ffffff 265px 267px,#fef5f5 267px 268px,#fdecec 268px 269px,#fef5f5 269px 270px,#ffffff 270px 273px,#fef5f5 273px 274px,#ffffff 274px 275px,#fef5f5 275px 279px,#fdecec 279px 281px,#fef5f5 281px 282px,#fcd8d8 282px 283px,#fdecec 283px 284px,#fef5f5 284px 285px,#ffffff 285px 286px,#f6f6fe 286px 289px,#fef5f5 289px 290px,#fce2e2 290px 291px,#ffffff 291px 292px,#fdecec 292px 293px,#fef5f5 293px 294px,#ffffff 294px 296px,#fef5f5 296px 297px,#ffffff 297px 299px,#f6f6fe 299px 300px,#fef5f5 300px 301px,#fbcfcf 301px 302px,#fcd8d8 302px 303px,#fef5f5 303px 304px,#ffffff 304px 305px,#fef5f5 305px 306px)"></div><div style="position:absolute;left:445.96px;top:259.9px;width:29.36px;height:305.9px;background:linear-gradient(#ececfd 0px 1px,#bebef8 1px 2px,#c8c8f9 2px 3px,#bebef8 3px 4px,#c8c8f9 4px 5px,#bebef8 5px 6px,#d1d1fa 6px 7px,#acacf6 7px 8px,#a2a2f5 8px 10px,#acacf6 10px 11px,#b5b5f7 11px 12px,#bebef8 12px 13px,#b5b5f7 13px 14px,#c8c8f9 14px 15px,#ffffff 15px 16px,#fce2e2 16px 17px,#fef5f5 17px 18px,#fce2e2 18px 19px,#ffffff 19px 22px,#fdecec 22px 23px,#fce2e2 23px 24px,#fef5f5 24px 26px,#fcd8d8 26px 28px,#fce2e2 28px 29px,#f9bbbb 29px 30px,#fac5c5 30px 31px,#fbcfcf 31px 32px,#fcd8d8 32px 33px,#fac5c5 33px 34px,#fbcfcf 34px 35px,#fac5c5 35px 36px,#f8b2b2 36px 37px,#fac5c5 37px 39px,#fbcfcf 39px 40px,#fcd8d8 40px 42px,#f6f6fe 42px 44px,#ececfd 44px 45px,#dadafb 45px 46px,#e3e3fc 46px 47px,#ececfd 47px 48px,#f6f6fe 48px 49px,#dadafb 49px 50px,#e3e3fc 50px 53px,#ffffff 53px 54px,#f8b2b2 54px 56px,#ffffff 56px 57px,#d1d1fa 57px 60px,#e3e3fc 60px 61px,#dadafb 61px 64px,#c8c8f9 64px 65px,#dadafb 65px 66px,#d1d1fa 66px 67px,#e3e3fc 67px 68px,#ececfd 68px 69px,#dadafb 69px 70px,#bebef8 70px 71px,#d1d1fa 71px 72px,#e3e3fc 72px 74px,#dadafb 74px 76px,#ffffff 76px 77px,#fce2e2 77px 79px,#fdecec 79px 80px,#fcd8d8 80px 81px,#fef5f5 81px 86px,#fce2e2 86px 87px,#fcd8d8 87px 88px,#fce2e2 88px 90px,#fdecec 90px 91px,#fef5f5 91px 92px,#fdecec 92px 93px,#fce2e2 93px 94px,#fdecec 94px 95px,#fef5f5 95px 96px,#fdecec 96px 97px,#fce2e2 97px 98px,#fdecec 98px 99px,#fef5f5 99px 100px,#fdecec 100px 101px,#fce2e2 101px 102px,#fef5f5 102px 104px,#ffffff 104px 105px,#f6f6fe 105px 107px,#fdecec 107px 109px,#f6f6fe 109px 110px,#ececfd 110px 111px,#dadafb 111px 112px,#e3e3fc 112px 113px,#dadafb 113px 114px,#f6f6fe 114px 115px,#ffffff 115px 116px,#f6f6fe 116px 117px,#ececfd 117px 119px,#ffffff 119px 121px,#ececfd 121px 123px,#f6f6fe 123px 125px,#e3e3fc 125px 126px,#d1d1fa 126px 127px,#dadafb 127px 128px,#f6f6fe 128px 130px,#ffffff 130px 131px,#ececfd 131px 132px,#dadafb 132px 133px,#e3e3fc 133px 134px,#dadafb 134px 135px,#e3e3fc 135px 136px,#f6f6fe 136px 137px,#e3e3fc 137px 138px,#c8c8f9 138px 139px,#b5b5f7 139px 140px,#8787f2 140px 141px,#b5b5f7 141px 142px,#c8c8f9 142px 143px,#bebef8 143px 145px,#dadafb 145px 146px,#e3e3fc 146px 147px,#ececfd 147px 148px,#fdecec 148px 149px,#ffffff 149px 151px,#fdecec 151px 152px,#fef5f5 152px 153px,#fdecec 153px 154px,#fce2e2 154px 155px,#fdecec 155px 156px,#fef5f5 156px 158px,#fdecec 158px 159px,#fef5f5 159px 160px,#ffffff 160px 161px,#fef5f5 161px 162px,#ffffff 162px 163px,#fce2e2 163px 164px,#f8b2b2 164px 165px,#fac5c5 165px 166px,#f8b2b2 166px 167px,#f9bbbb 167px 168px,#fcd8d8 168px 169px,#fbcfcf 169px 170px,#fcd8d8 170px 171px,#fac5c5 171px 172px,#f9bbbb 172px 173px,#f8b2b2 173px 175px,#fcd8d8 175px 176px,#fbcfcf 176px 177px,#fcd8d8 177px 178px,#fbcfcf 178px 179px,#f9bbbb 179px 180px,#fbcfcf 180px 181px,#f9bbbb 181px 182px,#f8b2b2 182px 183px,#f7a8a8 183px 184px,#f69e9e 184px 185px,#fac5c5 185px 186px,#f8b2b2 186px 187px,#f7a8a8 187px 188px,#f8b2b2 188px 189px,#f9bbbb 189px 191px,#fac5c5 191px 192px,#fbcfcf 192px 193px,#f8b2b2 193px 194px,#f69e9e 194px 195px,#fac5c5 195px 196px,#f7a8a8 196px 198px,#f8b2b2 198px 199px,#fac5c5 199px 203px,#fcd8d8 203px 204px,#f9bbbb 204px 205px,#f8b2b2 205px 206px,#f7a8a8 206px 207px,#f69595 207px 208px,#f8b2b2 208px 209px,#fbcfcf 209px 211px,#fdecec 211px 212px,#fef5f5 212px 213px,#fcd8d8 213px 214px,#fbcfcf 214px 215px,#fcd8d8 215px 216px,#fce2e2 216px 219px,#fdecec 219px 220px,#fef5f5 220px 221px,#f6f6fe 221px 222px,#ececfd 222px 223px,#f6f6fe 223px 224px,#ffffff 224px 225px,#fef5f5 225px 227px,#f6f6fe 227px 228px,#ffffff 228px 229px,#ececfd 229px 230px,#f6f6fe 230px 231px,#ffffff 231px 233px,#fef5f5 233px 234px,#fce2e2 234px 235px,#fef5f5 235px 237px,#ffffff 237px 239px,#fef5f5 239px 241px,#ffffff 241px 244px,#fdecec 244px 246px,#ffffff 246px 247px,#ececfd 247px 250px,#dadafb 250px 251px,#e3e3fc 251px 252px,#dadafb 252px 253px,#e3e3fc 253px 254px,#ececfd 254px 256px,#dadafb 256px 258px,#c8c8f9 258px 259px,#d1d1fa 259px 262px,#ececfd 262px 263px,#f6f6fe 263px 264px,#e3e3fc 264px 265px,#dadafb 265px 266px,#d1d1fa 266px 267px,#e3e3fc 267px 268px,#ececfd 268px 270px,#e3e3fc 270px 272px,#ececfd 272px 274px,#f6f6fe 274px 275px,#fef5f5 275px 276px,#dadafb 276px 277px,#f6f6fe 277px 279px,#fef5f5 279px 280px,#fce2e2 280px 281px,#fef5f5 281px 282px,#ffffff 282px 283px,#fef5f5 283px 284px,#f6f6fe 284px 286px,#e3e3fc 286px 287px,#fef5f5 287px 288px,#fdecec 288px 289px,#fce2e2 289px 290px,#fdecec 290px 291px,#e3e3fc 291px 292px,#f6f6fe 292px 293px,#fef5f5 293px 295px,#fdecec 295px 296px,#f6f6fe 296px 297px,#e3e3fc 297px 299px,#ffffff 299px 300px,#fdecec 300px 301px,#f8b2b2 301px 303px,#fef5f5 303px 304px,#ffffff 304px 305px,#f6f6fe 305px 306px)"></div><div style="position:absolute;left:474.96px;top:259.9px;width:29.36px;height:305.9px;background:linear-gradient(#bebef8 0px 1px,#9090f3 1px 2px,#8787f2 2px 3px,#9090f3 3px 4px,#9999f4 4px 5px,#b5b5f7 5px 6px,#e3e3fc 6px 7px,#ececfd 7px 8px,#c8c8f9 8px 9px,#e3e3fc 9px 10px,#ffffff 10px 12px,#f6f6fe 12px 14px,#dadafb 14px 15px,#ffffff 15px 16px,#fbcfcf 16px 17px,#fce2e2 17px 18px,#fdecec 18px 19px,#fef5f5 19px 20px,#fdecec 20px 21px,#fef5f5 21px 22px,#fdecec 22px 26px,#fce2e2 26px 27px,#fdecec 27px 28px,#fef5f5 28px 29px,#ffffff 29px 30px,#fef5f5 30px 31px,#fdecec 31px 32px,#fef5f5 32px 35px,#fce2e2 35px 36px,#fbcfcf 36px 37px,#fcd8d8 37px 38px,#fce2e2 38px 39px,#fef5f5 39px 43px,#fdecec 43px 44px,#fce2e2 44px 46px,#fdecec 46px 47px,#fbcfcf 47px 49px,#fdecec 49px 50px,#fcd8d8 50px 51px,#fbcfcf 51px 52px,#fcd8d8 52px 53px,#fce2e2 53px 54px,#fdecec 54px 55px,#e3e3fc 55px 56px,#a2a2f5 56px 57px,#acacf6 57px 58px,#fef5f5 58px 59px,#fce2e2 59px 61px,#fcd8d8 61px 62px,#fdecec 62px 64px,#fce2e2 64px 65px,#fef5f5 65px 66px,#fdecec 66px 67px,#fef5f5 67px 69px,#fce2e2 69px 70px,#fef5f5 70px 71px,#fce2e2 71px 72px,#fcd8d8 72px 74px,#fce2e2 74px 77px,#fdecec 77px 78px,#fef5f5 78px 79px,#fce2e2 79px 80px,#fdecec 80px 81px,#fcd8d8 81px 82px,#fdecec 82px 83px,#fef5f5 83px 84px,#fdecec 84px 85px,#fce2e2 85px 86px,#fdecec 86px 88px,#fbcfcf 88px 90px,#fce2e2 90px 92px,#fdecec 92px 95px,#fce2e2 95px 96px,#fcd8d8 96px 97px,#fdecec 97px 98px,#fef5f5 98px 99px,#fdecec 99px 100px,#fef5f5 100px 101px,#fdecec 101px 102px,#fcd8d8 102px 103px,#fce2e2 103px 104px,#f6f6fe 104px 105px,#ffffff 105px 106px,#fef5f5 106px 107px,#fce2e2 107px 108px,#fcd8d8 108px 109px,#f6f6fe 109px 111px,#ececfd 111px 112px,#f6f6fe 112px 113px,#ececfd 113px 115px,#f6f6fe 115px 116px,#ececfd 116px 117px,#e3e3fc 117px 118px,#f6f6fe 118px 119px,#ececfd 119px 122px,#f6f6fe 122px 123px,#ffffff 123px 124px,#f6f6fe 124px 125px,#ececfd 125px 126px,#c8c8f9 126px 127px,#bebef8 127px 128px,#dadafb 128px 129px,#e3e3fc 129px 130px,#c8c8f9 130px 131px,#e3e3fc 131px 132px,#c8c8f9 132px 133px,#d1d1fa 133px 134px,#c8c8f9 134px 135px,#bebef8 135px 137px,#c8c8f9 137px 138px,#d1d1fa 138px 139px,#dadafb 139px 140px,#e3e3fc 140px 141px,#c8c8f9 141px 142px,#bebef8 142px 144px,#c8c8f9 144px 145px,#fef5f5 145px 146px,#fdecec 146px 147px,#fcd8d8 147px 148px,#fbcfcf 148px 149px,#fcd8d8 149px 150px,#fdecec 150px 151px,#fce2e2 151px 152px,#fdecec 152px 154px,#fbcfcf 154px 155px,#fce2e2 155px 156px,#fdecec 156px 157px,#fef5f5 157px 158px,#fcd8d8 158px 160px,#fef5f5 160px 161px,#fdecec 161px 162px,#d1d1fa 162px 165px,#dadafb 165px 166px,#b5b5f7 166px 167px,#acacf6 167px 168px,#bebef8 168px 169px,#dadafb 169px 170px,#f6f6fe 170px 171px,#e3e3fc 171px 172px,#ececfd 172px 173px,#fef5f5 173px 175px,#f6f6fe 175px 176px,#e3e3fc 176px 177px,#f6f6fe 177px 178px,#ffffff 178px 179px,#f6f6fe 179px 180px,#e3e3fc 180px 181px,#dadafb 181px 182px,#e3e3fc 182px 183px,#f6f6fe 183px 184px,#ffffff 184px 186px,#fef5f5 186px 187px,#ffffff 187px 188px,#f6f6fe 188px 190px,#ffffff 190px 191px,#f6f6fe 191px 192px,#dadafb 192px 193px,#e3e3fc 193px 194px,#ececfd 194px 195px,#dadafb 195px 196px,#ececfd 196px 198px,#dadafb 198px 199px,#d1d1fa 199px 201px,#bebef8 201px 204px,#e3e3fc 204px 205px,#ececfd 205px 206px,#c8c8f9 206px 207px,#bebef8 207px 208px,#dadafb 208px 209px,#ececfd 209px 210px,#d1d1fa 210px 211px,#bebef8 211px 212px,#d1d1fa 212px 214px,#b5b5f7 214px 215px,#dadafb 215px 216px,#ececfd 216px 217px,#e3e3fc 217px 219px,#d1d1fa 219px 220px,#e3e3fc 220px 221px,#dadafb 221px 222px,#e3e3fc 222px 223px,#ececfd 223px 224px,#dadafb 224px 225px,#ffffff 225px 226px,#ececfd 226px 227px,#ffffff 227px 228px,#f8b2b2 228px 229px,#f69e9e 229px 230px,#f7a8a8 230px 231px,#fac5c5 231px 232px,#fce2e2 232px 233px,#ffffff 233px 234px,#fef5f5 234px 236px,#ffffff 236px 237px,#fef5f5 237px 238px,#ffffff 238px 239px,#fdecec 239px 242px,#fef5f5 242px 243px,#ffffff 243px 246px,#e3e3fc 246px 247px,#a2a2f5 247px 248px,#9999f4 248px 249px,#acacf6 249px 250px,#bebef8 250px 251px,#acacf6 251px 254px,#a2a2f5 254px 255px,#bebef8 255px 256px,#ffffff 256px 257px,#fce2e2 257px 258px,#fbcfcf 258px 259px,#fce2e2 259px 263px,#ffffff 263px 264px,#bebef8 264px 265px,#b5b5f7 265px 266px,#bebef8 266px 267px,#b5b5f7 267px 268px,#acacf6 268px 271px,#b5b5f7 271px 272px,#d1d1fa 272px 274px,#acacf6 274px 279px,#bebef8 279px 280px,#acacf6 280px 281px,#a2a2f5 281px 282px,#acacf6 282px 283px,#bebef8 283px 284px,#dadafb 284px 285px,#b5b5f7 285px 286px,#bebef8 286px 287px,#d1d1fa 287px 288px,#acacf6 288px 290px,#b5b5f7 290px 292px,#acacf6 292px 295px,#b5b5f7 295px 296px,#dadafb 296px 297px,#bebef8 297px 299px,#d1d1fa 299px 300px,#c8c8f9 300px 301px,#d1d1fa 301px 302px,#c8c8f9 302px 303px,#acacf6 303px 304px,#bebef8 304px 305px,#dadafb 305px 306px)"></div><div style="position:absolute;left:503.97px;top:259.9px;width:29.36px;height:305.9px;background:linear-gradient(#fef5f5 0px 1px,#fce2e2 1px 2px,#fdecec 2px 3px,#ffffff 3px 5px,#fef5f5 5px 8px,#ffffff 8px 10px,#fef5f5 10px 11px,#ffffff 11px 14px,#fef5f5 14px 15px,#ffffff 15px 16px,#fce2e2 16px 17px,#fdecec 17px 18px,#ffffff 18px 19px,#f6f6fe 19px 21px,#ffffff 21px 24px,#f6f6fe 24px 25px,#ffffff 25px 26px,#f6f6fe 26px 27px,#ffffff 27px 28px,#f6f6fe 28px 31px,#ececfd 31px 32px,#e3e3fc 32px 33px,#f6f6fe 33px 34px,#ffffff 34px 35px,#fdecec 35px 36px,#fce2e2 36px 37px,#ffffff 37px 38px,#f6f6fe 38px 39px,#ececfd 39px 40px,#f6f6fe 40px 41px,#ffffff 41px 42px,#fef5f5 42px 44px,#ffffff 44px 45px,#ececfd 45px 46px,#fef5f5 46px 47px,#ffffff 47px 48px,#f6f6fe 48px 49px,#e3e3fc 49px 50px,#ececfd 50px 51px,#fef5f5 51px 52px,#fce2e2 52px 54px,#fdecec 54px 55px,#fef5f5 55px 56px,#fce2e2 56px 59px,#fef5f5 59px 60px,#fcd8d8 60px 61px,#fbcfcf 61px 62px,#fce2e2 62px 65px,#fdecec 65px 66px,#fef5f5 66px 68px,#fdecec 68px 70px,#fce2e2 70px 71px,#fdecec 71px 72px,#fce2e2 72px 74px,#fdecec 74px 76px,#fef5f5 76px 77px,#fce2e2 77px 80px,#f8b2b2 80px 81px,#fce2e2 81px 82px,#fdecec 82px 83px,#fce2e2 83px 84px,#fdecec 84px 85px,#fcd8d8 85px 86px,#fac5c5 86px 87px,#fbcfcf 87px 89px,#fcd8d8 89px 90px,#fdecec 90px 91px,#fcd8d8 91px 92px,#fdecec 92px 93px,#fef5f5 93px 94px,#fdecec 94px 95px,#fef5f5 95px 97px,#fdecec 97px 98px,#fac5c5 98px 99px,#f8b2b2 99px 101px,#fac5c5 101px 102px,#fce2e2 102px 103px,#fbcfcf 103px 105px,#fcd8d8 105px 106px,#fce2e2 106px 109px,#fcd8d8 109px 110px,#f9bbbb 110px 112px,#fcd8d8 112px 113px,#fce2e2 113px 114px,#fbcfcf 114px 115px,#f9bbbb 115px 116px,#fbcfcf 116px 117px,#fce2e2 117px 118px,#fbcfcf 118px 119px,#f9bbbb 119px 120px,#fdecec 120px 121px,#ffffff 121px 122px,#f6f6fe 122px 124px,#ffffff 124px 125px,#fdecec 125px 126px,#ffffff 126px 127px,#ececfd 127px 128px,#d1d1fa 128px 129px,#ececfd 129px 130px,#ffffff 130px 132px,#e3e3fc 132px 133px,#ececfd 133px 134px,#f6f6fe 134px 135px,#ececfd 135px 136px,#fef5f5 136px 137px,#ececfd 137px 138px,#f6f6fe 138px 140px,#ececfd 140px 141px,#f6f6fe 141px 144px,#ffffff 144px 145px,#f6f6fe 145px 146px,#e3e3fc 146px 147px,#ffffff 147px 148px,#fef5f5 148px 149px,#ffffff 149px 150px,#fef5f5 150px 151px,#ececfd 151px 152px,#e3e3fc 152px 153px,#ececfd 153px 154px,#ffffff 154px 155px,#d1d1fa 155px 156px,#c8c8f9 156px 157px,#e3e3fc 157px 158px,#ececfd 158px 159px,#e3e3fc 159px 160px,#ececfd 160px 161px,#f6f6fe 161px 163px,#fef5f5 163px 164px,#fce2e2 164px 165px,#fdecec 165px 166px,#f6f6fe 166px 167px,#ececfd 167px 168px,#fef5f5 168px 170px,#fdecec 170px 172px,#fef5f5 172px 174px,#fdecec 174px 175px,#fef5f5 175px 176px,#fdecec 176px 177px,#fce2e2 177px 178px,#fdecec 178px 179px,#fcd8d8 179px 180px,#fef5f5 180px 181px,#ffffff 181px 182px,#fef5f5 182px 183px,#fdecec 183px 184px,#fce2e2 184px 185px,#fdecec 185px 189px,#ffffff 189px 190px,#fef5f5 190px 191px,#fdecec 191px 192px,#fef5f5 192px 193px,#fdecec 193px 195px,#fef5f5 195px 196px,#fdecec 196px 197px,#fef5f5 197px 201px,#ffffff 201px 202px,#f6f6fe 202px 203px,#fdecec 203px 204px,#fef5f5 204px 206px,#fdecec 206px 208px,#ececfd 208px 209px,#ffffff 209px 210px,#fce2e2 210px 212px,#ffffff 212px 214px,#fef5f5 214px 215px,#fdecec 215px 217px,#fef5f5 217px 219px,#dadafb 219px 220px,#acacf6 220px 221px,#f6f6fe 221px 222px,#ececfd 222px 224px,#ffffff 224px 225px,#fef5f5 225px 227px,#f6f6fe 227px 228px,#ececfd 228px 230px,#ffffff 230px 231px,#f6f6fe 231px 233px,#ffffff 233px 234px,#fef5f5 234px 235px,#ffffff 235px 238px,#f6f6fe 238px 239px,#fef5f5 239px 240px,#fdecec 240px 241px,#fce2e2 241px 242px,#fdecec 242px 244px,#fef5f5 244px 247px,#f69e9e 247px 248px,#f69595 248px 249px,#f58b8b 249px 250px,#f69e9e 250px 252px,#f58b8b 252px 253px,#f69595 253px 255px,#f7a8a8 255px 256px,#ffffff 256px 257px,#ececfd 257px 260px,#e3e3fc 260px 261px,#ececfd 261px 264px,#dadafb 264px 265px,#e3e3fc 265px 267px,#ececfd 267px 269px,#dadafb 269px 270px,#ececfd 270px 271px,#e3e3fc 271px 272px,#d1d1fa 272px 273px,#e3e3fc 273px 275px,#ececfd 275px 276px,#dadafb 276px 277px,#bebef8 277px 278px,#d1d1fa 278px 279px,#ececfd 279px 282px,#f6f6fe 282px 283px,#ffffff 283px 284px,#f6f6fe 284px 285px,#dadafb 285px 286px,#ececfd 286px 287px,#f6f6fe 287px 289px,#d1d1fa 289px 290px,#bebef8 290px 291px,#dadafb 291px 292px,#ececfd 292px 295px,#e3e3fc 295px 298px,#ececfd 298px 299px,#e3e3fc 299px 300px,#f6f6fe 300px 301px,#ffffff 301px 303px,#ececfd 303px 306px)"></div><div style="position:absolute;left:532.98px;top:259.9px;width:29.36px;height:305.9px;background:linear-gradient(#ececfd 0px 1px,#b5b5f7 1px 2px,#a2a2f5 2px 3px,#acacf6 3px 4px,#dadafb 4px 5px,#ececfd 5px 6px,#ffffff 6px 8px,#f6f6fe 8px 9px,#e3e3fc 9px 10px,#f6f6fe 10px 11px,#fef5f5 11px 12px,#ffffff 12px 13px,#f6f6fe 13px 14px,#ffffff 14px 15px,#fef5f5 15px 16px,#fdecec 16px 17px,#fef5f5 17px 18px,#ffffff 18px 22px,#fef5f5 22px 23px,#f6f6fe 23px 25px,#ffffff 25px 26px,#fef5f5 26px 27px,#fdecec 27px 28px,#fef5f5 28px 29px,#ffffff 29px 31px,#dadafb 31px 32px,#bebef8 32px 33px,#e3e3fc 33px 34px,#dadafb 34px 35px,#c8c8f9 35px 36px,#dadafb 36px 37px,#f6f6fe 37px 40px,#e3e3fc 40px 41px,#ececfd 41px 42px,#a2a2f5 42px 43px,#acacf6 43px 44px,#fdecec 44px 45px,#fce2e2 45px 47px,#fef5f5 47px 48px,#fce2e2 48px 49px,#fdecec 49px 50px,#fef5f5 50px 51px,#fdecec 51px 53px,#fef5f5 53px 54px,#fce2e2 54px 56px,#fcd8d8 56px 58px,#fdecec 58px 59px,#fef5f5 59px 60px,#fdecec 60px 61px,#fcd8d8 61px 63px,#fce2e2 63px 65px,#fdecec 65px 66px,#fbcfcf 66px 67px,#fac5c5 67px 68px,#fce2e2 68px 69px,#fdecec 69px 70px,#ffffff 70px 71px,#f6f6fe 71px 72px,#ffffff 72px 75px,#ececfd 75px 77px,#e3e3fc 77px 79px,#ffffff 79px 80px,#fef5f5 80px 81px,#ffffff 81px 82px,#f6f6fe 82px 83px,#ececfd 83px 84px,#ffffff 84px 89px,#fef5f5 89px 90px,#ffffff 90px 91px,#fef5f5 91px 93px,#ececfd 93px 94px,#ffffff 94px 95px,#fef5f5 95px 96px,#ffffff 96px 97px,#f6f6fe 97px 98px,#e3e3fc 98px 100px,#dadafb 100px 101px,#acacf6 101px 103px,#9999f4 103px 104px,#a2a2f5 104px 105px,#ececfd 105px 106px,#fef5f5 106px 107px,#ffffff 107px 108px,#fef5f5 108px 109px,#f6f6fe 109px 110px,#ececfd 110px 111px,#ffffff 111px 112px,#fef5f5 112px 113px,#ffffff 113px 114px,#f6f6fe 114px 115px,#fef5f5 115px 116px,#fdecec 116px 117px,#fef5f5 117px 119px,#ffffff 119px 123px,#f6f6fe 123px 124px,#ffffff 124px 125px,#fce2e2 125px 126px,#fcd8d8 126px 127px,#fbcfcf 127px 128px,#fac5c5 128px 130px,#fbcfcf 130px 131px,#fdecec 131px 132px,#fef5f5 132px 134px,#fdecec 134px 135px,#fcd8d8 135px 139px,#fce2e2 139px 140px,#fcd8d8 140px 141px,#fbcfcf 141px 142px,#fce2e2 142px 144px,#fcd8d8 144px 146px,#fbcfcf 146px 147px,#fcd8d8 147px 148px,#ffffff 148px 149px,#f6f6fe 149px 152px,#ffffff 152px 153px,#fef5f5 153px 155px,#ffffff 155px 156px,#ececfd 156px 157px,#dadafb 157px 158px,#f6f6fe 158px 159px,#ffffff 159px 160px,#f6f6fe 160px 162px,#ececfd 162px 163px,#ffffff 163px 164px,#ececfd 164px 166px,#dadafb 166px 167px,#bebef8 167px 168px,#d1d1fa 168px 169px,#ececfd 169px 171px,#dadafb 171px 172px,#ececfd 172px 173px,#ffffff 173px 175px,#ececfd 175px 178px,#f6f6fe 178px 181px,#dadafb 181px 182px,#e3e3fc 182px 183px,#ececfd 183px 184px,#f6f6fe 184px 188px,#e3e3fc 188px 189px,#ececfd 189px 191px,#f6f6fe 191px 196px,#ececfd 196px 197px,#f6f6fe 197px 198px,#ffffff 198px 199px,#ececfd 199px 200px,#dadafb 200px 201px,#e3e3fc 201px 202px,#ececfd 202px 203px,#dadafb 203px 204px,#e3e3fc 204px 205px,#dadafb 205px 206px,#ececfd 206px 207px,#f6f6fe 207px 210px,#ffffff 210px 211px,#f6f6fe 211px 213px,#dadafb 213px 214px,#8787f2 214px 215px,#7e7ef1 215px 217px,#8787f2 217px 218px,#7e7ef1 218px 219px,#9090f3 219px 220px,#ffffff 220px 221px,#fef5f5 221px 222px,#f6f6fe 222px 223px,#ffffff 223px 225px,#fce2e2 225px 226px,#fdecec 226px 227px,#ececfd 227px 228px,#f6f6fe 228px 230px,#ffffff 230px 231px,#ececfd 231px 233px,#f6f6fe 233px 234px,#ececfd 234px 235px,#ffffff 235px 239px,#fdecec 239px 240px,#fef5f5 240px 241px,#ececfd 241px 242px,#bebef8 242px 243px,#f6f6fe 243px 244px,#fce2e2 244px 245px,#fdecec 245px 246px,#fef5f5 246px 247px,#fce2e2 247px 248px,#fbcfcf 248px 250px,#fcd8d8 250px 251px,#fac5c5 251px 252px,#f9bbbb 252px 253px,#fac5c5 253px 254px,#fcd8d8 254px 255px,#fac5c5 255px 257px,#f9bbbb 257px 258px,#f8b2b2 258px 259px,#fbcfcf 259px 260px,#fce2e2 260px 262px,#fac5c5 262px 263px,#fce2e2 263px 264px,#fef5f5 264px 267px,#ffffff 267px 268px,#fce2e2 268px 269px,#fdecec 269px 270px,#fef5f5 270px 271px,#ffffff 271px 272px,#fef5f5 272px 273px,#ffffff 273px 275px,#fef5f5 275px 276px,#ffffff 276px 279px,#fce2e2 279px 280px,#fcd8d8 280px 282px,#fef5f5 282px 283px,#ffffff 283px 284px,#fef5f5 284px 288px,#fdecec 288px 289px,#fce2e2 289px 290px,#fef5f5 290px 291px,#ffffff 291px 293px,#fef5f5 293px 294px,#fdecec 294px 296px,#fef5f5 296px 297px,#fdecec 297px 300px,#fcd8d8 300px 301px,#fbcfcf 301px 302px,#fce2e2 302px 303px,#ffffff 303px 304px,#f6f6fe 304px 305px,#ececfd 305px 306px)"></div><div style="position:absolute;left:561.98px;top:259.9px;width:29.36px;height:305.9px;background:linear-gradient(#f6f6fe 0px 1px,#fcd8d8 1px 5px,#fdecec 5px 6px,#fce2e2 6px 8px,#fef5f5 8px 9px,#ffffff 9px 10px,#fbcfcf 10px 11px,#fdecec 11px 13px,#fce2e2 13px 14px,#fcd8d8 14px 15px,#fdecec 15px 16px,#fce2e2 16px 17px,#fdecec 17px 18px,#fef5f5 18px 20px,#fce2e2 20px 21px,#fcd8d8 21px 22px,#fce2e2 22px 23px,#fdecec 23px 24px,#fef5f5 24px 27px,#fdecec 27px 31px,#fce2e2 31px 33px,#fdecec 33px 35px,#fbcfcf 35px 37px,#fce2e2 37px 38px,#fef5f5 38px 42px,#fdecec 42px 43px,#fce2e2 43px 45px,#ffffff 45px 46px,#fcd8d8 46px 47px,#fce2e2 47px 49px,#fef5f5 49px 50px,#fcd8d8 50px 51px,#fce2e2 51px 52px,#fdecec 52px 55px,#f8b2b2 55px 56px,#f7a8a8 56px 57px,#fdecec 57px 58px,#ececfd 58px 60px,#ffffff 60px 61px,#fdecec 61px 63px,#fef5f5 63px 64px,#fce2e2 64px 66px,#ffffff 66px 67px,#fdecec 67px 69px,#fef5f5 69px 70px,#ffffff 70px 71px,#fdecec 71px 72px,#fef5f5 72px 73px,#ffffff 73px 74px,#fef5f5 74px 77px,#ffffff 77px 79px,#fef5f5 79px 81px,#ffffff 81px 83px,#fef5f5 83px 85px,#fdecec 85px 86px,#fef5f5 86px 88px,#fdecec 88px 89px,#fcd8d8 89px 90px,#fef5f5 90px 93px,#ffffff 93px 94px,#fef5f5 94px 95px,#fdecec 95px 96px,#fce2e2 96px 97px,#fef5f5 97px 98px,#fdecec 98px 99px,#fef5f5 99px 100px,#fdecec 100px 103px,#ffffff 103px 105px,#fdecec 105px 107px,#fcd8d8 107px 109px,#fef5f5 109px 110px,#ffffff 110px 111px,#fef5f5 111px 113px,#ffffff 113px 114px,#fef5f5 114px 115px,#fcd8d8 115px 117px,#fef5f5 117px 119px,#fce2e2 119px 120px,#fbcfcf 120px 121px,#fcd8d8 121px 122px,#fce2e2 122px 124px,#fcd8d8 124px 125px,#fac5c5 125px 126px,#fce2e2 126px 127px,#fdecec 127px 128px,#fef5f5 128px 131px,#ffffff 131px 133px,#fdecec 133px 134px,#fef5f5 134px 136px,#fdecec 136px 137px,#fef5f5 137px 139px,#ffffff 139px 140px,#fdecec 140px 141px,#fef5f5 141px 142px,#fdecec 142px 146px,#f6f6fe 146px 147px,#fef5f5 147px 148px,#fdecec 148px 149px,#fef5f5 149px 151px,#fdecec 151px 152px,#fef5f5 152px 153px,#e3e3fc 153px 154px,#ececfd 154px 155px,#f6f6fe 155px 156px,#ececfd 156px 157px,#e3e3fc 157px 158px,#ececfd 158px 159px,#f6f6fe 159px 160px,#ececfd 160px 161px,#f6f6fe 161px 162px,#fef5f5 162px 163px,#ffffff 163px 164px,#e3e3fc 164px 165px,#ececfd 165px 167px,#f6f6fe 167px 168px,#ececfd 168px 170px,#f6f6fe 170px 171px,#ffffff 171px 172px,#f6f6fe 172px 173px,#e3e3fc 173px 174px,#ececfd 174px 175px,#f6f6fe 175px 176px,#dadafb 176px 177px,#f6f6fe 177px 178px,#ececfd 178px 179px,#e3e3fc 179px 180px,#dadafb 180px 181px,#ececfd 181px 182px,#f6f6fe 182px 184px,#fef5f5 184px 185px,#ffffff 185px 187px,#f6f6fe 187px 188px,#ffffff 188px 189px,#f6f6fe 189px 191px,#ececfd 191px 193px,#f6f6fe 193px 196px,#fef5f5 196px 197px,#f6f6fe 197px 198px,#ffffff 198px 200px,#fef5f5 200px 201px,#f6f6fe 201px 202px,#e3e3fc 202px 203px,#ececfd 203px 205px,#e3e3fc 205px 206px,#f6f6fe 206px 207px,#fdecec 207px 208px,#fef5f5 208px 209px,#ffffff 209px 210px,#f6f6fe 210px 211px,#ececfd 211px 212px,#f6f6fe 212px 216px,#ffffff 216px 217px,#f6f6fe 217px 218px,#fef5f5 218px 219px,#f8b2b2 219px 221px,#ececfd 221px 222px,#bebef8 222px 223px,#dadafb 223px 224px,#c8c8f9 224px 226px,#dadafb 226px 227px,#bebef8 227px 229px,#b5b5f7 229px 230px,#c8c8f9 230px 233px,#bebef8 233px 234px,#c8c8f9 234px 235px,#d1d1fa 235px 236px,#c8c8f9 236px 237px,#bebef8 237px 238px,#b5b5f7 238px 239px,#fef5f5 239px 240px,#fce2e2 240px 242px,#fef5f5 242px 243px,#fcd8d8 243px 245px,#fce2e2 245px 246px,#fcd8d8 246px 247px,#f69e9e 247px 248px,#f69595 248px 249px,#f7a8a8 249px 250px,#fdecec 250px 251px,#fce2e2 251px 253px,#fdecec 253px 255px,#fef5f5 255px 256px,#fdecec 256px 257px,#fcd8d8 257px 258px,#fdecec 258px 261px,#fce2e2 261px 262px,#fdecec 262px 263px,#fef5f5 263px 264px,#ffffff 264px 265px,#f6f6fe 265px 266px,#fef5f5 266px 267px,#fce2e2 267px 268px,#fcd8d8 268px 269px,#fce2e2 269px 271px,#fdecec 271px 273px,#fef5f5 273px 275px,#ffffff 275px 276px,#fdecec 276px 277px,#fef5f5 277px 279px,#fce2e2 279px 280px,#ffffff 280px 281px,#fef5f5 281px 283px,#fdecec 283px 284px,#fef5f5 284px 286px,#ffffff 286px 287px,#fef5f5 287px 288px,#fdecec 288px 291px,#fce2e2 291px 292px,#fcd8d8 292px 293px,#fdecec 293px 294px,#fef5f5 294px 295px,#fdecec 295px 297px,#fef5f5 297px 300px,#ffffff 300px 301px,#fdecec 301px 302px,#fce2e2 302px 306px)"></div><div style="position:absolute;left:590.99px;top:259.9px;width:29.36px;height:305.9px;background:linear-gradient(#f6f6fe 0px 1px,#fdecec 1px 3px,#f6f6fe 3px 4px,#ffffff 4px 5px,#fdecec 5px 6px,#fef5f5 6px 7px,#fdecec 7px 9px,#fce2e2 9px 10px,#fdecec 10px 11px,#fef5f5 11px 13px,#ffffff 13px 14px,#f6f6fe 14px 15px,#c8c8f9 15px 17px,#f6f6fe 17px 18px,#fef5f5 18px 19px,#fdecec 19px 21px,#fef5f5 21px 22px,#ffffff 22px 24px,#fef5f5 24px 25px,#fdecec 25px 27px,#ffffff 27px 30px,#f6f6fe 30px 32px,#ffffff 32px 36px,#fdecec 36px 38px,#fef5f5 38px 39px,#ffffff 39px 40px,#fdecec 40px 42px,#fef5f5 42px 44px,#f6f6fe 44px 45px,#fef5f5 45px 47px,#ffffff 47px 48px,#fef5f5 48px 50px,#fdecec 50px 51px,#fef5f5 51px 52px,#fdecec 52px 53px,#fef5f5 53px 55px,#fdecec 55px 56px,#f69595 56px 57px,#f58b8b 57px 58px,#fcd8d8 58px 59px,#fef5f5 59px 61px,#fcd8d8 61px 62px,#fbcfcf 62px 63px,#fcd8d8 63px 65px,#fce2e2 65px 66px,#fdecec 66px 67px,#fef5f5 67px 68px,#fdecec 68px 69px,#fef5f5 69px 72px,#fcd8d8 72px 73px,#fbcfcf 73px 74px,#fce2e2 74px 75px,#fcd8d8 75px 76px,#fce2e2 76px 77px,#fcd8d8 77px 78px,#fce2e2 78px 83px,#fbcfcf 83px 84px,#fac5c5 84px 85px,#fce2e2 85px 86px,#fef5f5 86px 87px,#fce2e2 87px 88px,#fcd8d8 88px 90px,#fce2e2 90px 91px,#fdecec 91px 93px,#fef5f5 93px 94px,#fdecec 94px 95px,#fcd8d8 95px 96px,#fac5c5 96px 97px,#fdecec 97px 99px,#fcd8d8 99px 100px,#fce2e2 100px 101px,#fdecec 101px 102px,#fef5f5 102px 103px,#fdecec 103px 104px,#fef5f5 104px 106px,#fce2e2 106px 107px,#fcd8d8 107px 108px,#fce2e2 108px 109px,#fdecec 109px 110px,#fce2e2 110px 112px,#fcd8d8 112px 113px,#fce2e2 113px 115px,#fcd8d8 115px 116px,#fbcfcf 116px 118px,#fac5c5 118px 119px,#fcd8d8 119px 120px,#fdecec 120px 121px,#fce2e2 121px 123px,#fdecec 123px 124px,#fef5f5 124px 127px,#fce2e2 127px 128px,#fbcfcf 128px 129px,#fcd8d8 129px 130px,#fbcfcf 130px 131px,#fdecec 131px 132px,#fce2e2 132px 133px,#fcd8d8 133px 134px,#fce2e2 134px 135px,#fdecec 135px 136px,#fcd8d8 136px 138px,#fbcfcf 138px 139px,#fce2e2 139px 142px,#fef5f5 142px 143px,#fdecec 143px 144px,#fce2e2 144px 146px,#fcd8d8 146px 147px,#fce2e2 147px 151px,#fdecec 151px 152px,#fce2e2 152px 153px,#fdecec 153px 154px,#fce2e2 154px 156px,#fdecec 156px 157px,#fef5f5 157px 159px,#bebef8 159px 160px,#acacf6 160px 161px,#b5b5f7 161px 162px,#dadafb 162px 163px,#ffffff 163px 164px,#f6f6fe 164px 165px,#ececfd 165px 166px,#dadafb 166px 167px,#e3e3fc 167px 168px,#ececfd 168px 169px,#e3e3fc 169px 170px,#ececfd 170px 171px,#dadafb 171px 172px,#d1d1fa 172px 173px,#f6f6fe 173px 174px,#e3e3fc 174px 175px,#dadafb 175px 176px,#e3e3fc 176px 177px,#ececfd 177px 178px,#f6f6fe 178px 180px,#e3e3fc 180px 181px,#dadafb 181px 182px,#e3e3fc 182px 183px,#ececfd 183px 184px,#f6f6fe 184px 185px,#ffffff 185px 188px,#f6f6fe 188px 190px,#ececfd 190px 192px,#e3e3fc 192px 193px,#f6f6fe 193px 198px,#ececfd 198px 199px,#f6f6fe 199px 200px,#e3e3fc 200px 201px,#bebef8 201px 203px,#acacf6 203px 204px,#d1d1fa 204px 205px,#dadafb 205px 207px,#e3e3fc 207px 209px,#dadafb 209px 210px,#e3e3fc 210px 212px,#d1d1fa 212px 213px,#e3e3fc 213px 214px,#f6f6fe 214px 215px,#ffffff 215px 216px,#ececfd 216px 217px,#dadafb 217px 218px,#ececfd 218px 219px,#fcd8d8 219px 220px,#fbcfcf 220px 221px,#f6f6fe 221px 222px,#b5b5f7 222px 223px,#acacf6 223px 224px,#d1d1fa 224px 225px,#e3e3fc 225px 226px,#dadafb 226px 227px,#acacf6 227px 228px,#8787f2 228px 229px,#a2a2f5 229px 230px,#8787f2 230px 231px,#a2a2f5 231px 232px,#b5b5f7 232px 233px,#acacf6 233px 234px,#a2a2f5 234px 235px,#dadafb 235px 236px,#fdecec 236px 237px,#fcd8d8 237px 239px,#fce2e2 239px 240px,#fcd8d8 240px 241px,#fce2e2 241px 242px,#fcd8d8 242px 243px,#fbcfcf 243px 244px,#fcd8d8 244px 246px,#f9bbbb 246px 247px,#f58b8b 247px 248px,#f37878 248px 249px,#f26e6e 249px 250px,#f16565 250px 252px,#f48282 252px 253px,#fce2e2 253px 254px,#fef5f5 254px 256px,#ffffff 256px 257px,#fef5f5 257px 258px,#ffffff 258px 259px,#fef5f5 259px 260px,#ececfd 260px 261px,#f6f6fe 261px 263px,#ececfd 263px 264px,#ffffff 264px 265px,#fdecec 265px 268px,#ffffff 268px 269px,#f6f6fe 269px 270px,#ffffff 270px 272px,#fef5f5 272px 273px,#ffffff 273px 275px,#fef5f5 275px 276px,#ffffff 276px 279px,#fef5f5 279px 283px,#ffffff 283px 287px,#fce2e2 287px 288px,#fdecec 288px 289px,#f6f6fe 289px 290px,#b5b5f7 290px 292px,#ffffff 292px 293px,#fef5f5 293px 295px,#ffffff 295px 296px,#f6f6fe 296px 297px,#ffffff 297px 298px,#f6f6fe 298px 299px,#ffffff 299px 300px,#fef5f5 300px 301px,#fdecec 301px 303px,#fef5f5 303px 304px,#f6f6fe 304px 305px,#ffffff 305px 306px)"></div><div style="position:absolute;left:619.99px;top:259.9px;width:29.36px;height:305.9px;background:linear-gradient(#ffffff 0px 2px,#fef5f5 2px 4px,#f6f6fe 4px 5px,#fef5f5 5px 7px,#fdecec 7px 8px,#fef5f5 8px 9px,#f6f6fe 9px 10px,#fef5f5 10px 11px,#fdecec 11px 15px,#fac5c5 15px 16px,#f8b2b2 16px 17px,#fac5c5 17px 18px,#fce2e2 18px 19px,#fcd8d8 19px 20px,#fce2e2 20px 22px,#fcd8d8 22px 23px,#fbcfcf 23px 25px,#fac5c5 25px 27px,#fcd8d8 27px 28px,#fdecec 28px 29px,#fbcfcf 29px 30px,#fac5c5 30px 31px,#f9bbbb 31px 32px,#fbcfcf 32px 33px,#fcd8d8 33px 34px,#fdecec 34px 36px,#fbcfcf 36px 37px,#fcd8d8 37px 38px,#fbcfcf 38px 39px,#fce2e2 39px 40px,#fbcfcf 40px 42px,#fac5c5 42px 43px,#f9bbbb 43px 44px,#fbcfcf 44px 45px,#fac5c5 45px 47px,#fcd8d8 47px 48px,#fef5f5 48px 49px,#f6f6fe 49px 50px,#fef5f5 50px 52px,#fdecec 52px 53px,#fef5f5 53px 54px,#fce2e2 54px 56px,#fdecec 56px 57px,#fef5f5 57px 58px,#ffffff 58px 59px,#fef5f5 59px 61px,#f6f6fe 61px 62px,#fdecec 62px 63px,#fef5f5 63px 64px,#fdecec 64px 70px,#fce2e2 70px 71px,#fdecec 71px 73px,#fcd8d8 73px 74px,#fce2e2 74px 75px,#fcd8d8 75px 78px,#fdecec 78px 80px,#fcd8d8 80px 81px,#fdecec 81px 82px,#fce2e2 82px 83px,#fbcfcf 83px 84px,#fdecec 84px 88px,#fac5c5 88px 89px,#fcd8d8 89px 90px,#fdecec 90px 92px,#fce2e2 92px 93px,#fdecec 93px 94px,#fce2e2 94px 95px,#fcd8d8 95px 97px,#fce2e2 97px 98px,#fbcfcf 98px 99px,#fcd8d8 99px 100px,#fbcfcf 100px 102px,#fce2e2 102px 103px,#fdecec 103px 106px,#fef5f5 106px 107px,#fce2e2 107px 108px,#fcd8d8 108px 109px,#fdecec 109px 110px,#fbcfcf 110px 111px,#fce2e2 111px 112px,#fef5f5 112px 114px,#fbcfcf 114px 115px,#fac5c5 115px 116px,#fce2e2 116px 117px,#fdecec 117px 118px,#fac5c5 118px 119px,#fbcfcf 119px 120px,#fcd8d8 120px 122px,#fdecec 122px 124px,#fcd8d8 124px 125px,#fbcfcf 125px 126px,#fcd8d8 126px 127px,#fce2e2 127px 128px,#fbcfcf 128px 129px,#fce2e2 129px 132px,#fdecec 132px 133px,#fef5f5 133px 134px,#fce2e2 134px 135px,#fbcfcf 135px 137px,#fce2e2 137px 139px,#fdecec 139px 140px,#fbcfcf 140px 142px,#fcd8d8 142px 146px,#fce2e2 146px 147px,#fbcfcf 147px 148px,#fcd8d8 148px 150px,#fce2e2 150px 154px,#fcd8d8 154px 155px,#fce2e2 155px 157px,#fbcfcf 157px 158px,#fcd8d8 158px 159px,#fbcfcf 159px 160px,#fdecec 160px 163px,#fcd8d8 163px 164px,#fdecec 164px 165px,#ffffff 165px 166px,#f6f6fe 166px 167px,#dadafb 167px 168px,#ffffff 168px 169px,#fef5f5 169px 170px,#fdecec 170px 172px,#fef5f5 172px 173px,#fce2e2 173px 175px,#fdecec 175px 176px,#fef5f5 176px 178px,#fdecec 178px 180px,#fce2e2 180px 181px,#fef5f5 181px 182px,#ffffff 182px 183px,#fdecec 183px 184px,#fce2e2 184px 185px,#fdecec 185px 186px,#fef5f5 186px 188px,#fdecec 188px 189px,#fef5f5 189px 190px,#fce2e2 190px 191px,#fdecec 191px 192px,#fef5f5 192px 193px,#fce2e2 193px 197px,#fef5f5 197px 201px,#fdecec 201px 202px,#fef5f5 202px 203px,#ffffff 203px 204px,#fef5f5 204px 206px,#fdecec 206px 207px,#fce2e2 207px 208px,#fdecec 208px 211px,#fef5f5 211px 212px,#fdecec 212px 216px,#fef5f5 216px 217px,#fce2e2 217px 218px,#fcd8d8 218px 219px,#ececfd 219px 220px,#c8c8f9 220px 221px,#a2a2f5 221px 222px,#7e7ef1 222px 223px,#8787f2 223px 224px,#bebef8 224px 226px,#acacf6 226px 227px,#9090f3 227px 228px,#6262ee 228px 229px,#7474f0 229px 231px,#6b6bef 231px 232px,#7474f0 232px 233px,#7e7ef1 233px 234px,#7474f0 234px 235px,#6b6bef 235px 236px,#4f4fec 236px 238px,#7474f0 238px 239px,#c8c8f9 239px 240px,#e3e3fc 240px 241px,#bebef8 241px 242px,#c8c8f9 242px 243px,#acacf6 243px 245px,#bebef8 245px 246px,#c8c8f9 246px 247px,#f8b2b2 247px 248px,#f58b8b 248px 251px,#f69595 251px 253px,#fcd8d8 253px 254px,#fdecec 254px 255px,#fce2e2 255px 256px,#fdecec 256px 257px,#fef5f5 257px 259px,#ffffff 259px 260px,#fef5f5 260px 261px,#fce2e2 261px 262px,#fcd8d8 262px 263px,#fef5f5 263px 264px,#ffffff 264px 265px,#fef5f5 265px 266px,#fce2e2 266px 267px,#fef5f5 267px 268px,#fcd8d8 268px 269px,#fce2e2 269px 270px,#fdecec 270px 271px,#fcd8d8 271px 272px,#fce2e2 272px 273px,#fdecec 273px 274px,#fef5f5 274px 277px,#fdecec 277px 281px,#fce2e2 281px 282px,#fcd8d8 282px 283px,#fdecec 283px 285px,#fef5f5 285px 286px,#fdecec 286px 289px,#fcd8d8 289px 290px,#fdecec 290px 291px,#fef5f5 291px 292px,#fdecec 292px 293px,#fce2e2 293px 294px,#fcd8d8 294px 295px,#fdecec 295px 296px,#fef5f5 296px 299px,#ffffff 299px 300px,#fef5f5 300px 301px,#fdecec 301px 302px,#fce2e2 302px 305px,#fef5f5 305px 306px)"></div>
</div>
</body></html>
